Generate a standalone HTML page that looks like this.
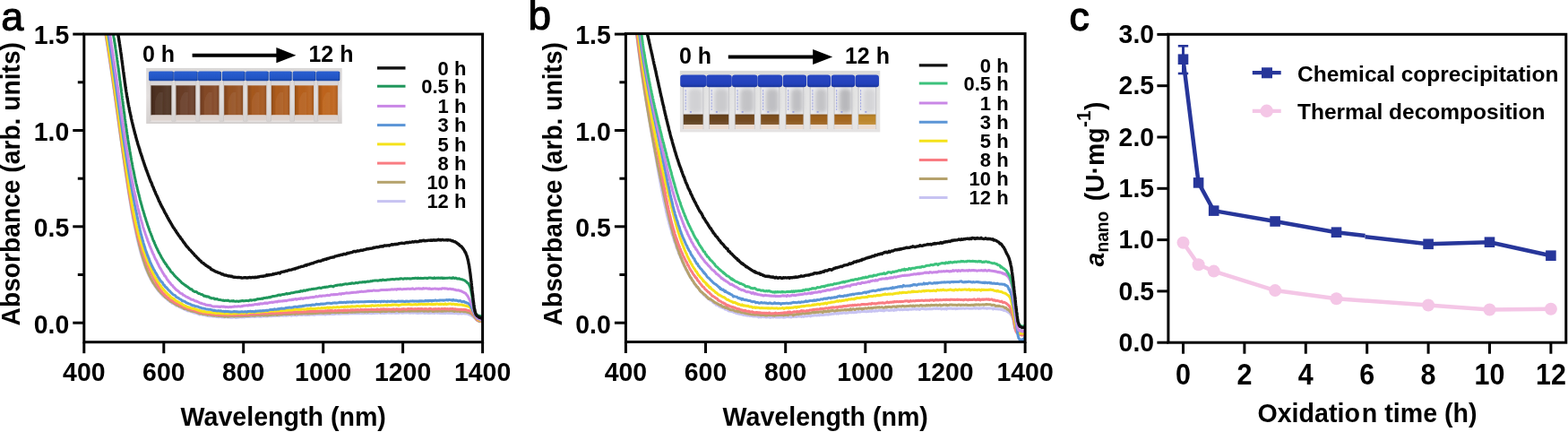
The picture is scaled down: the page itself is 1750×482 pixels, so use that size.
<!DOCTYPE html>
<html><head><meta charset="utf-8"><title>Figure</title>
<style>html,body{margin:0;padding:0;background:#fff;overflow:hidden;} svg{display:block;} text{font-family:'Liberation Sans', Arial, Helvetica, sans-serif;font-weight:bold;fill:#000;}</style>
</head><body>
<svg width="1750" height="482" viewBox="0 0 1750 482">
<rect width="1750" height="482" fill="#fff"/>
<defs>
<linearGradient id="bgA" x1="0" y1="0" x2="0" y2="1"><stop offset="0" stop-color="#d9d7d7"/><stop offset="0.5" stop-color="#e4e0df"/><stop offset="1" stop-color="#d4d0cf"/></linearGradient>
<linearGradient id="bgB" x1="0" y1="0" x2="0" y2="1"><stop offset="0" stop-color="#d9d9d9"/><stop offset="0.15" stop-color="#e2e2e2"/><stop offset="0.7" stop-color="#e6e6e6"/><stop offset="1" stop-color="#e4e2e2"/></linearGradient>
<linearGradient id="capA" x1="0" y1="0" x2="0" y2="1"><stop offset="0" stop-color="#2a5ed0"/><stop offset="0.7" stop-color="#2356c6"/><stop offset="1" stop-color="#1a44a4"/></linearGradient>
<linearGradient id="capB" x1="0" y1="0" x2="0" y2="1"><stop offset="0" stop-color="#2846c2"/><stop offset="0.7" stop-color="#2442bc"/><stop offset="1" stop-color="#1b349a"/></linearGradient>
<linearGradient id="liqShade" x1="0" y1="0" x2="1" y2="0"><stop offset="0" stop-color="#000" stop-opacity="0.18"/><stop offset="0.25" stop-color="#000" stop-opacity="0"/><stop offset="0.8" stop-color="#fff" stop-opacity="0.06"/><stop offset="1" stop-color="#000" stop-opacity="0.12"/></linearGradient>
<linearGradient id="liqShadeB" x1="0" y1="0" x2="0" y2="1"><stop offset="0" stop-color="#000" stop-opacity="0.15"/><stop offset="0.3" stop-color="#000" stop-opacity="0"/><stop offset="1" stop-color="#fff" stop-opacity="0.1"/></linearGradient>
<filter id="blur2" x="-50%" y="-50%" width="200%" height="200%"><feGaussianBlur stdDeviation="2"/></filter>
<filter id="soft" x="-5%" y="-5%" width="110%" height="110%"><feGaussianBlur stdDeviation="0.55"/></filter>
</defs>
<text transform="translate(1.2 34.2) scale(1 1.0)" font-size="45" font-weight="normal" style="font-weight:normal" stroke="#000" stroke-width="1.1">a</text>
<text transform="translate(589.6 33.0) scale(1 1.0)" font-size="46" font-weight="normal" style="font-weight:normal" stroke="#000" stroke-width="1.1">b</text>
<text transform="translate(1193.4 33.8) scale(1 1.0)" font-size="44.5" font-weight="normal" style="font-weight:normal" stroke="#000" stroke-width="1.3">c</text>
<clipPath id="clipA"><rect x="93.8" y="38.1" width="444.8" height="343.59999999999997"/></clipPath>
<g clip-path="url(#clipA)" fill="none" stroke-linejoin="round" stroke-linecap="round">
<path d="M113.1,11.3 L113.3,12.2 L113.5,13.2 L113.7,14.2 L113.9,15.2 L114.0,16.2 L114.2,17.2 L114.4,18.2 L114.6,19.1 L114.7,20.1 L114.9,21.1 L115.1,22.1 L115.2,23.1 L115.4,24.0 L115.6,25.0 L115.8,26.0 L115.9,27.0 L116.1,28.0 L116.3,28.9 L116.4,29.9 L116.6,30.9 L116.8,31.9 L116.9,32.9 L117.1,33.9 L117.3,34.9 L117.4,35.9 L117.6,36.8 L117.8,37.8 L117.9,38.8 L118.1,39.8 L118.2,40.8 L118.4,41.8 L118.6,42.8 L118.7,43.7 L118.9,44.8 L119.0,45.7 L119.2,46.7 L119.4,47.8 L119.5,48.7 L119.7,49.7 L119.8,50.7 L120.0,51.7 L120.2,52.6 L120.3,53.7 L120.5,54.7 L120.6,55.5 L120.8,56.7 L120.9,57.6 L121.1,58.6 L121.2,59.7 L121.4,60.6 L121.5,61.5 L121.7,62.6 L121.9,63.6 L122.0,64.5 L122.2,65.6 L122.3,66.5 L122.5,67.5 L122.6,68.6 L122.8,69.4 L122.9,70.5 L123.1,71.4 L123.2,72.4 L123.4,73.3 L123.5,74.4 L123.7,75.4 L123.8,76.5 L124.0,77.5 L124.1,78.3 L124.2,79.3 L124.4,80.4 L124.5,81.2 L124.7,82.3 L124.8,83.3 L125.0,84.4 L125.1,85.4 L125.3,86.3 L125.4,87.2 L125.6,88.2 L125.7,89.4 L125.8,90.2 L126.0,91.2 L126.1,92.3 L126.3,93.2 L126.4,94.2 L126.6,95.1 L126.7,96.2 L126.8,97.1 L127.0,98.3 L127.1,99.2 L127.3,100.1 L127.4,101.2 L127.6,102.1 L127.7,103.2 L127.8,104.1 L128.0,105.2 L128.1,105.9 L128.3,107.1 L128.4,107.9 L128.5,108.8 L128.7,110.0 L128.8,110.9 L129.0,112.0 L129.1,113.3 L129.2,113.9 L129.4,114.9 L129.5,116.0 L129.7,117.0 L129.8,118.0 L129.9,118.9 L130.1,120.0 L130.2,121.0 L130.4,121.8 L130.5,122.9 L130.6,123.9 L130.8,124.8 L130.9,125.9 L131.0,126.8 L131.2,128.0 L131.3,128.9 L131.5,129.9 L131.6,130.8 L131.7,131.8 L131.9,132.6 L132.0,133.7 L132.1,134.9 L132.3,135.5 L132.4,136.9 L132.6,137.5 L132.7,138.9 L132.8,139.6 L133.0,140.9 L133.1,141.8 L133.2,142.5 L133.4,143.9 L133.5,144.9 L133.7,145.7 L133.8,146.7 L133.9,147.7 L134.1,148.5 L134.2,149.8 L134.3,150.6 L134.5,151.6 L134.6,152.5 L134.8,153.5 L134.9,154.4 L135.0,155.8 L135.2,156.6 L135.3,157.8 L135.4,158.6 L135.6,159.5 L135.7,160.5 L135.9,161.5 L136.0,162.6 L136.1,163.5 L136.3,164.5 L136.4,165.3 L136.6,166.4 L136.7,167.8 L136.8,168.4 L137.0,169.3 L137.1,170.5 L137.2,171.7 L137.4,172.2 L137.5,173.4 L137.7,174.3 L137.8,175.1 L137.9,176.5 L138.1,177.4 L138.2,178.4 L138.4,179.2 L138.5,180.5 L138.7,181.3 L138.8,182.3 L138.9,183.1 L139.1,184.1 L139.2,185.6 L139.4,186.2 L139.5,187.4 L139.6,188.3 L139.8,189.2 L139.9,190.2 L140.1,191.4 L140.2,192.2 L140.4,193.2 L140.5,194.2 L140.6,195.5 L140.8,196.4 L140.9,197.3 L141.1,198.1 L141.2,198.9 L141.4,200.4 L141.5,201.4 L141.7,202.1 L141.8,203.3 L142.0,204.3 L142.1,205.3 L142.2,206.3 L142.4,207.0 L142.5,208.4 L142.7,208.8 L142.8,210.3 L143.0,211.2 L143.1,212.2 L143.3,213.4 L143.4,214.3 L143.6,214.8 L143.7,215.6 L143.9,217.2 L144.1,217.8 L144.2,219.0 L144.4,220.1 L144.5,220.6 L144.7,221.5 L144.8,223.0 L145.0,223.9 L145.2,224.8 L145.3,225.9 L145.5,226.7 L145.7,227.5 L145.8,228.8 L146.0,229.6 L146.1,230.4 L146.3,231.9 L146.5,232.8 L146.7,233.9 L146.8,234.5 L147.0,235.6 L147.2,236.5 L147.3,237.5 L147.5,238.7 L147.7,239.5 L147.9,240.7 L148.1,241.7 L148.2,243.1 L148.4,243.3 L148.6,244.8 L148.8,245.6 L149.0,246.6 L149.2,247.2 L149.4,248.4 L149.6,249.7 L149.8,250.5 L150.0,251.5 L150.2,252.4 L150.4,253.7 L150.6,254.4 L150.8,254.9 L151.0,256.2 L151.2,256.9 L151.4,257.6 L151.6,259.2 L151.8,260.6 L152.0,261.3 L152.2,262.0 L152.4,263.0 L152.7,264.4 L152.9,265.2 L153.1,266.1 L153.3,267.1 L153.6,268.1 L153.8,269.2 L154.0,270.1 L154.3,271.0 L154.5,271.7 L154.7,273.1 L155.0,273.8 L155.2,275.1 L155.5,275.6 L155.7,276.8 L156.0,277.8 L156.2,278.5 L156.5,280.1 L156.7,281.0 L157.0,281.6 L157.3,282.8 L157.5,283.7 L157.8,284.0 L158.1,285.6 L158.4,286.4 L158.7,287.4 L159.0,288.1 L159.3,289.3 L159.6,290.2 L159.9,291.5 L160.2,292.3 L160.5,293.1 L160.8,294.4 L161.2,294.9 L161.5,295.9 L161.8,296.5 L162.2,298.2 L162.5,299.0 L162.9,299.9 L163.3,300.8 L163.7,301.6 L164.0,302.5 L164.4,303.3 L164.8,304.3 L165.2,305.2 L165.7,306.5 L166.1,307.2 L166.5,307.9 L166.9,308.7 L167.4,309.6 L167.9,311.0 L168.3,311.6 L168.8,312.4 L169.3,313.2 L169.8,313.9 L170.3,315.0 L170.8,316.1 L171.3,316.6 L171.9,317.5 L172.4,318.3 L173.0,319.2 L173.5,319.7 L174.1,320.8 L174.7,321.5 L175.3,322.7 L175.9,323.1 L176.5,324.2 L177.2,325.1 L177.8,325.5 L178.5,326.2 L179.2,327.1 L179.8,327.8 L180.5,328.3 L181.2,329.3 L181.9,330.4 L182.7,330.6 L183.4,331.2 L184.2,331.7 L184.9,332.7 L185.7,333.0 L186.5,333.6 L187.3,334.8 L188.0,334.9 L188.8,335.9 L189.7,336.6 L190.5,336.9 L191.3,337.5 L192.1,338.4 L193.0,338.5 L193.8,338.9 L194.7,339.3 L195.6,340.1 L196.4,340.9 L197.3,341.3 L198.2,341.3 L199.1,341.8 L200.0,342.3 L200.8,342.9 L201.8,343.3 L202.7,343.8 L203.6,344.2 L204.5,344.5 L205.4,344.9 L206.3,345.4 L207.3,345.7 L208.2,346.2 L209.1,346.8 L210.1,346.9 L211.0,347.1 L211.9,347.1 L212.9,347.8 L213.8,347.6 L214.8,348.1 L215.8,348.8 L216.7,349.1 L217.7,349.2 L218.6,349.1 L219.6,349.7 L220.6,349.8 L221.5,350.4 L222.5,351.0 L223.5,350.7 L224.5,350.7 L225.4,350.8 L226.4,351.3 L227.4,351.4 L228.4,351.4 L229.4,351.9 L230.4,351.8 L231.4,352.4 L232.3,352.6 L233.3,352.7 L234.3,352.5 L235.3,352.8 L236.3,352.8 L237.3,352.9 L238.3,353.0 L239.3,352.9 L240.3,352.9 L241.3,353.5 L242.3,353.4 L243.3,353.5 L244.3,353.8 L245.3,353.2 L246.3,353.5 L247.3,353.8 L248.3,353.9 L249.3,353.7 L250.3,354.1 L251.3,353.9 L252.3,353.7 L253.3,353.7 L254.3,354.1 L255.3,354.1 L256.3,353.6 L257.3,354.3 L258.3,354.1 L259.3,354.3 L260.3,353.9 L261.3,353.9 L262.3,353.7 L263.3,354.5 L264.3,353.9 L265.3,354.3 L266.3,353.8 L267.3,353.9 L268.3,353.5 L269.3,353.7 L270.3,354.0 L271.3,353.5 L272.3,354.0 L273.3,353.8 L274.3,353.4 L275.3,353.5 L276.3,353.5 L277.3,353.6 L278.3,353.4 L279.3,353.3 L280.3,353.4 L281.3,353.2 L282.3,353.1 L283.3,353.3 L284.3,353.5 L285.3,352.9 L286.3,353.2 L287.3,353.1 L288.3,353.0 L289.3,353.3 L290.3,353.0 L291.3,353.4 L292.3,352.9 L293.3,353.1 L294.3,352.9 L295.3,352.7 L296.3,353.0 L297.3,352.8 L298.3,352.9 L299.3,352.8 L300.3,352.5 L301.3,352.7 L302.3,352.7 L303.3,352.8 L304.3,352.4 L305.3,352.5 L306.3,352.1 L307.3,352.6 L308.3,352.2 L309.3,352.0 L310.3,352.4 L311.3,352.6 L312.3,352.0 L313.2,352.0 L314.2,352.1 L315.2,351.9 L316.2,352.2 L317.2,351.9 L318.2,351.9 L319.2,352.2 L320.2,351.9 L321.2,352.1 L322.2,351.7 L323.2,351.6 L324.2,351.5 L325.2,352.3 L326.2,351.7 L327.2,351.8 L328.2,351.7 L329.2,351.7 L330.2,351.7 L331.2,352.1 L332.2,351.4 L333.2,351.2 L334.2,351.3 L335.2,351.2 L336.2,351.6 L337.2,351.6 L338.2,351.2 L339.2,351.1 L340.2,351.3 L341.2,351.6 L342.2,350.7 L343.2,351.4 L344.2,351.0 L345.2,351.4 L346.2,350.9 L347.2,351.0 L348.2,350.7 L349.2,350.8 L350.2,351.3 L351.2,351.2 L352.2,350.9 L353.2,350.7 L354.2,350.5 L355.2,350.8 L356.2,350.8 L357.2,350.8 L358.2,350.7 L359.2,350.5 L360.2,350.7 L361.2,350.7 L362.2,350.9 L363.2,351.0 L364.2,350.6 L365.2,350.4 L366.2,350.5 L367.2,350.4 L368.2,350.3 L369.2,350.4 L370.2,350.2 L371.2,350.5 L372.2,350.3 L373.2,350.4 L374.2,350.3 L375.2,350.1 L376.2,350.1 L377.2,350.2 L378.2,350.1 L379.2,350.2 L380.2,350.2 L381.2,349.8 L382.2,350.1 L383.2,349.8 L384.2,349.9 L385.2,350.0 L386.2,349.6 L387.2,350.0 L388.2,350.0 L389.2,349.9 L390.2,349.8 L391.2,349.8 L392.2,349.7 L393.2,349.8 L394.2,349.7 L395.2,349.8 L396.2,349.5 L397.2,349.8 L398.2,349.8 L399.2,349.7 L400.2,349.6 L401.2,349.8 L402.2,349.3 L403.2,349.7 L404.2,349.7 L405.2,349.7 L406.2,349.7 L407.2,349.4 L408.2,349.5 L409.2,349.7 L410.2,349.6 L411.2,349.5 L412.2,349.1 L413.2,349.6 L414.2,349.7 L415.2,349.7 L416.2,349.5 L417.2,349.1 L418.2,349.6 L419.2,349.3 L420.2,348.8 L421.2,349.4 L422.2,349.0 L423.2,349.0 L424.2,349.2 L425.2,349.6 L426.2,349.2 L427.2,349.3 L428.2,349.6 L429.2,349.6 L430.2,349.2 L431.2,349.2 L432.2,348.9 L433.2,349.0 L434.2,349.3 L435.2,349.3 L436.2,349.2 L437.2,349.4 L438.2,349.0 L439.2,349.1 L440.2,349.3 L441.2,349.3 L442.2,349.4 L443.2,349.2 L444.2,349.1 L445.2,349.2 L446.2,348.9 L447.2,348.7 L448.2,349.2 L449.2,349.1 L450.2,349.2 L451.2,348.7 L452.2,349.0 L453.2,349.0 L454.2,348.9 L455.2,348.6 L456.2,349.0 L457.2,349.3 L458.2,349.2 L459.2,349.0 L460.2,349.1 L461.2,349.3 L462.2,348.5 L463.2,349.1 L464.2,349.2 L465.2,349.2 L466.2,349.5 L467.2,349.4 L468.2,349.2 L469.2,349.2 L470.2,349.3 L471.2,349.0 L472.2,349.1 L473.2,349.3 L474.2,349.6 L475.2,349.1 L476.2,349.2 L477.2,349.2 L478.2,349.5 L479.2,349.2 L480.2,349.5 L481.2,349.0 L482.2,349.2 L483.2,349.2 L484.2,349.4 L485.2,349.5 L486.2,349.0 L487.2,349.1 L488.2,349.4 L489.2,349.2 L490.2,349.0 L491.2,349.6 L492.2,349.5 L493.2,349.5 L494.2,349.3 L495.2,349.6 L496.2,349.4 L497.2,349.7 L498.2,349.2 L499.2,349.2 L500.2,349.5 L501.2,349.3 L502.2,349.6 L503.2,349.5 L504.2,349.2 L505.2,349.5 L506.2,349.4 L507.2,349.7 L508.2,349.4 L509.2,349.4 L510.2,349.8 L511.2,350.1 L512.2,350.0 L513.2,349.6 L514.2,349.7 L515.2,350.0 L516.2,349.7 L517.2,349.6 L518.2,349.9 L519.2,350.1 L520.2,349.9 L521.2,349.9 L522.2,350.2 L523.1,351.0 L524.1,351.0 L525.0,351.5 L525.9,352.0 L526.7,352.6 L527.6,353.0 L528.3,353.8 L529.1,354.1 L529.9,354.9 L530.6,355.4 L531.3,356.6 L532.1,357.0 L532.9,357.5 L533.7,358.1 L534.7,358.5 L535.6,358.9 L536.6,358.6 L537.6,358.8 L538.6,359.0" stroke="#c7c3f2" stroke-width="3.0"/>
<path d="M113.4,11.3 L113.5,12.2 L113.7,13.2 L113.9,14.2 L114.1,15.2 L114.3,16.2 L114.4,17.2 L114.6,18.2 L114.8,19.1 L115.0,20.1 L115.1,21.1 L115.3,22.1 L115.5,23.1 L115.7,24.1 L115.8,25.0 L116.0,26.0 L116.2,27.0 L116.3,28.0 L116.5,29.0 L116.7,30.0 L116.9,30.9 L117.0,31.9 L117.2,32.9 L117.4,33.9 L117.5,34.9 L117.7,35.9 L117.9,36.9 L118.0,37.8 L118.2,38.9 L118.3,39.8 L118.5,40.9 L118.7,41.9 L118.8,42.8 L119.0,43.7 L119.1,44.7 L119.3,45.7 L119.5,46.7 L119.6,47.7 L119.8,48.6 L119.9,49.7 L120.1,50.6 L120.3,51.7 L120.4,52.7 L120.6,53.6 L120.7,54.6 L120.9,55.6 L121.0,56.6 L121.2,57.5 L121.3,58.6 L121.5,59.7 L121.6,60.7 L121.8,61.6 L121.9,62.6 L122.1,63.5 L122.2,64.6 L122.4,65.5 L122.5,66.5 L122.7,67.5 L122.8,68.5 L123.0,69.4 L123.1,70.5 L123.3,71.4 L123.4,72.4 L123.6,73.6 L123.7,74.4 L123.9,75.4 L124.0,76.4 L124.2,77.4 L124.3,78.3 L124.4,79.3 L124.6,80.4 L124.7,81.4 L124.9,82.3 L125.0,83.5 L125.2,84.3 L125.3,85.3 L125.4,86.2 L125.6,87.4 L125.7,88.1 L125.9,89.2 L126.0,90.2 L126.2,91.3 L126.3,92.3 L126.4,93.4 L126.6,94.1 L126.7,95.3 L126.9,96.2 L127.0,97.1 L127.1,98.2 L127.3,99.1 L127.4,99.9 L127.6,101.1 L127.7,102.0 L127.8,103.1 L128.0,104.2 L128.1,105.1 L128.2,106.3 L128.4,107.1 L128.5,107.9 L128.7,109.0 L128.8,110.0 L128.9,110.9 L129.1,112.1 L129.2,113.0 L129.4,113.8 L129.5,115.1 L129.6,116.0 L129.8,117.0 L129.9,118.0 L130.0,119.1 L130.2,120.0 L130.3,121.1 L130.4,122.0 L130.6,123.0 L130.7,124.0 L130.9,124.7 L131.0,125.9 L131.1,126.9 L131.3,127.9 L131.4,128.7 L131.5,130.1 L131.7,130.9 L131.8,131.7 L131.9,132.6 L132.1,133.8 L132.2,134.8 L132.4,135.7 L132.5,136.8 L132.6,137.7 L132.8,138.9 L132.9,139.7 L133.0,140.8 L133.2,141.9 L133.3,143.1 L133.5,143.6 L133.6,144.7 L133.7,145.6 L133.9,146.8 L134.0,147.5 L134.1,148.6 L134.3,149.7 L134.4,150.5 L134.6,151.5 L134.7,152.6 L134.8,153.3 L135.0,154.4 L135.1,155.6 L135.2,156.7 L135.4,157.6 L135.5,158.3 L135.7,159.5 L135.8,160.7 L135.9,161.7 L136.1,162.6 L136.2,163.4 L136.4,164.7 L136.5,165.4 L136.6,166.3 L136.8,167.4 L136.9,168.8 L137.1,169.5 L137.2,170.7 L137.4,171.4 L137.5,172.6 L137.6,173.4 L137.8,174.4 L137.9,175.9 L138.1,176.6 L138.2,177.3 L138.4,178.4 L138.5,179.5 L138.6,180.6 L138.8,181.3 L138.9,182.0 L139.1,183.3 L139.2,184.4 L139.4,185.4 L139.5,186.6 L139.7,187.4 L139.8,188.5 L140.0,189.1 L140.1,190.5 L140.3,191.7 L140.4,192.4 L140.6,193.3 L140.7,194.3 L140.9,195.6 L141.0,196.0 L141.2,197.2 L141.3,198.3 L141.5,199.3 L141.6,200.1 L141.8,201.2 L141.9,202.1 L142.1,203.2 L142.2,204.1 L142.4,204.9 L142.6,206.1 L142.7,207.3 L142.9,207.9 L143.0,209.0 L143.2,210.2 L143.3,210.8 L143.5,212.1 L143.7,212.8 L143.8,214.2 L144.0,215.5 L144.2,216.4 L144.3,216.9 L144.5,218.1 L144.6,219.0 L144.8,219.9 L145.0,221.2 L145.1,221.6 L145.3,223.1 L145.5,223.8 L145.7,225.2 L145.8,225.9 L146.0,226.7 L146.2,227.9 L146.3,228.9 L146.5,229.8 L146.7,230.9 L146.9,231.6 L147.1,232.3 L147.2,233.9 L147.4,234.8 L147.6,235.7 L147.8,236.7 L148.0,237.9 L148.2,238.5 L148.3,239.5 L148.5,240.5 L148.7,241.8 L148.9,242.2 L149.1,243.8 L149.3,244.4 L149.5,245.3 L149.7,246.8 L149.9,247.4 L150.1,248.2 L150.3,249.3 L150.5,250.6 L150.7,251.6 L150.9,252.3 L151.1,253.4 L151.3,254.5 L151.5,255.2 L151.7,256.4 L151.9,257.2 L152.1,258.1 L152.3,259.1 L152.6,260.2 L152.8,261.2 L153.0,262.0 L153.2,263.0 L153.4,264.3 L153.6,265.1 L153.9,266.2 L154.1,267.3 L154.3,268.1 L154.6,269.5 L154.8,269.8 L155.0,271.1 L155.2,271.8 L155.5,273.3 L155.7,274.2 L156.0,274.4 L156.2,275.5 L156.4,276.9 L156.7,277.9 L156.9,278.8 L157.2,279.6 L157.5,280.7 L157.7,281.7 L158.0,282.5 L158.2,283.7 L158.5,284.0 L158.8,285.6 L159.1,286.2 L159.4,287.6 L159.6,288.2 L159.9,289.1 L160.2,290.3 L160.5,291.0 L160.8,291.9 L161.2,292.7 L161.5,294.0 L161.8,295.1 L162.1,296.1 L162.5,296.8 L162.8,298.0 L163.2,298.7 L163.5,299.6 L163.9,300.7 L164.3,301.7 L164.7,302.4 L165.0,303.3 L165.4,304.2 L165.8,305.2 L166.3,305.9 L166.7,307.2 L167.1,307.8 L167.5,308.9 L168.0,309.5 L168.4,310.7 L168.9,311.6 L169.4,312.3 L169.9,313.7 L170.4,314.2 L170.9,315.4 L171.4,316.0 L171.9,316.5 L172.5,317.4 L173.0,318.4 L173.6,319.2 L174.1,320.0 L174.7,320.7 L175.3,321.2 L175.9,322.4 L176.6,322.7 L177.2,324.0 L177.8,324.6 L178.5,325.3 L179.2,326.2 L179.8,327.0 L180.5,327.4 L181.2,328.0 L181.9,328.9 L182.7,329.3 L183.4,330.2 L184.2,331.5 L184.9,331.5 L185.7,332.5 L186.5,332.7 L187.3,333.7 L188.1,334.2 L188.9,334.8 L189.7,335.5 L190.5,336.4 L191.3,336.6 L192.2,337.1 L193.0,337.4 L193.9,338.3 L194.7,338.6 L195.6,339.3 L196.5,339.6 L197.4,340.5 L198.2,340.2 L199.1,341.0 L200.0,341.7 L200.9,341.9 L201.8,342.2 L202.7,342.7 L203.6,342.9 L204.6,343.6 L205.5,344.5 L206.4,344.6 L207.3,344.5 L208.3,344.9 L209.2,345.3 L210.2,346.0 L211.1,345.9 L212.0,346.3 L213.0,346.9 L213.9,347.2 L214.9,347.2 L215.9,347.4 L216.8,347.5 L217.8,348.0 L218.8,347.9 L219.7,348.8 L220.7,348.8 L221.7,349.3 L222.6,349.8 L223.6,349.9 L224.6,349.6 L225.6,350.2 L226.5,350.5 L227.5,350.2 L228.5,350.4 L229.5,350.7 L230.5,350.6 L231.5,351.4 L232.5,350.7 L233.5,351.1 L234.4,351.4 L235.4,351.6 L236.4,351.8 L237.4,351.9 L238.4,351.9 L239.4,352.3 L240.4,351.7 L241.4,352.2 L242.4,352.1 L243.4,352.4 L244.4,352.5 L245.4,352.3 L246.4,352.4 L247.4,352.8 L248.4,352.7 L249.4,352.5 L250.4,353.2 L251.4,353.3 L252.4,352.5 L253.4,352.9 L254.4,353.4 L255.4,353.0 L256.4,352.9 L257.4,352.8 L258.4,352.7 L259.4,352.8 L260.4,352.7 L261.4,353.0 L262.4,352.7 L263.4,352.7 L264.4,352.5 L265.4,352.7 L266.4,352.5 L267.4,352.7 L268.4,352.9 L269.4,352.7 L270.4,352.7 L271.4,352.7 L272.4,352.6 L273.4,352.5 L274.4,352.4 L275.4,352.6 L276.4,352.2 L277.4,352.6 L278.4,352.3 L279.4,352.1 L280.4,352.1 L281.4,352.0 L282.4,352.2 L283.4,351.9 L284.4,352.3 L285.4,351.9 L286.4,351.5 L287.4,351.8 L288.4,351.5 L289.4,351.9 L290.4,352.1 L291.4,351.9 L292.4,351.4 L293.4,351.5 L294.4,352.1 L295.4,351.7 L296.4,351.6 L297.4,351.8 L298.4,352.0 L299.4,351.7 L300.4,351.4 L301.4,351.5 L302.4,351.5 L303.4,351.2 L304.4,351.0 L305.4,351.2 L306.4,351.0 L307.4,351.1 L308.4,351.1 L309.4,351.6 L310.4,350.8 L311.4,350.9 L312.4,350.9 L313.4,351.0 L314.4,351.1 L315.4,350.7 L316.4,350.6 L317.4,350.4 L318.4,350.5 L319.4,350.8 L320.4,350.6 L321.4,350.3 L322.4,350.4 L323.4,350.5 L324.4,350.6 L325.4,350.3 L326.4,350.3 L327.4,349.9 L328.4,350.0 L329.4,350.6 L330.4,349.7 L331.4,350.1 L332.4,350.2 L333.4,350.0 L334.4,349.9 L335.4,350.0 L336.4,350.0 L337.4,349.9 L338.3,349.5 L339.3,349.8 L340.3,349.6 L341.3,349.7 L342.3,349.8 L343.3,349.9 L344.3,349.9 L345.3,349.5 L346.3,349.8 L347.3,349.8 L348.3,349.8 L349.3,349.8 L350.3,349.4 L351.3,349.4 L352.3,349.6 L353.3,349.1 L354.3,349.4 L355.3,349.2 L356.3,349.2 L357.3,348.8 L358.3,349.0 L359.3,349.1 L360.3,349.3 L361.3,349.3 L362.3,349.0 L363.3,349.0 L364.3,348.8 L365.3,349.0 L366.3,348.8 L367.3,349.0 L368.3,349.2 L369.3,348.8 L370.3,348.4 L371.3,348.5 L372.3,348.4 L373.3,348.4 L374.3,348.9 L375.3,348.7 L376.3,348.2 L377.3,348.7 L378.3,348.8 L379.3,348.4 L380.3,348.3 L381.3,348.3 L382.3,348.5 L383.3,348.5 L384.3,348.6 L385.3,348.6 L386.3,348.5 L387.3,348.5 L388.3,348.4 L389.3,347.8 L390.3,348.1 L391.3,348.2 L392.3,348.0 L393.3,348.3 L394.3,348.0 L395.3,347.8 L396.3,348.3 L397.3,348.1 L398.3,348.0 L399.3,348.1 L400.3,348.1 L401.3,347.9 L402.3,347.3 L403.3,347.7 L404.3,347.7 L405.3,347.5 L406.3,347.8 L407.3,348.0 L408.3,347.6 L409.3,347.4 L410.3,348.1 L411.3,347.5 L412.3,347.3 L413.3,347.6 L414.3,347.6 L415.3,347.4 L416.3,347.7 L417.3,347.4 L418.3,347.3 L419.3,347.5 L420.3,347.6 L421.3,347.3 L422.3,347.5 L423.3,347.4 L424.3,348.0 L425.3,347.2 L426.3,347.6 L427.3,347.3 L428.3,347.3 L429.3,347.4 L430.3,347.4 L431.3,347.5 L432.3,347.3 L433.3,347.1 L434.3,347.1 L435.3,347.3 L436.3,347.3 L437.3,347.5 L438.3,347.2 L439.3,347.4 L440.3,347.4 L441.3,347.1 L442.3,346.8 L443.3,346.8 L444.3,346.7 L445.3,347.4 L446.3,346.9 L447.3,347.3 L448.3,347.2 L449.3,347.4 L450.3,347.2 L451.3,347.0 L452.3,346.9 L453.3,347.0 L454.3,347.0 L455.3,346.9 L456.3,347.0 L457.3,347.3 L458.3,346.6 L459.3,347.0 L460.3,346.7 L461.3,347.0 L462.3,347.1 L463.3,346.9 L464.3,347.1 L465.3,346.6 L466.3,347.2 L467.3,346.8 L468.3,347.1 L469.3,347.0 L470.3,346.4 L471.3,346.8 L472.3,347.0 L473.3,347.3 L474.3,347.0 L475.3,347.0 L476.3,346.6 L477.3,347.2 L478.3,347.3 L479.3,346.9 L480.3,346.9 L481.3,346.6 L482.3,347.2 L483.3,347.6 L484.3,347.1 L485.3,347.3 L486.3,347.1 L487.3,346.8 L488.3,347.3 L489.3,346.8 L490.3,347.0 L491.3,347.1 L492.3,347.2 L493.3,347.2 L494.3,347.2 L495.3,346.9 L496.3,346.8 L497.3,347.1 L498.3,346.9 L499.3,346.8 L500.3,346.8 L501.3,347.0 L502.3,346.7 L503.3,346.8 L504.3,346.7 L505.3,347.1 L506.3,347.2 L507.3,347.6 L508.3,346.8 L509.3,347.0 L510.3,347.4 L511.3,347.2 L512.3,347.2 L513.3,347.7 L514.3,347.4 L515.3,347.2 L516.3,347.3 L517.3,347.7 L518.3,347.8 L519.3,347.5 L520.3,347.7 L521.3,348.3 L522.3,348.5 L523.2,348.6 L524.1,349.2 L525.1,349.6 L525.9,349.6 L526.7,350.5 L527.4,351.4 L528.1,351.9 L528.8,352.3 L529.5,353.4 L530.1,354.4 L530.8,355.3 L531.4,355.2 L532.1,357.0 L532.9,356.9 L533.7,357.9 L534.6,358.3 L535.6,358.4 L536.6,358.4 L537.6,358.2 L538.6,358.6" stroke="#b5a26c" stroke-width="3.0"/>
<path d="M113.8,11.2 L114.0,12.2 L114.2,13.2 L114.3,14.2 L114.5,15.2 L114.7,16.2 L114.9,17.2 L115.0,18.1 L115.2,19.1 L115.4,20.1 L115.6,21.1 L115.7,22.1 L115.9,23.0 L116.1,24.0 L116.2,25.0 L116.4,26.0 L116.6,27.0 L116.8,28.0 L116.9,29.0 L117.1,30.0 L117.3,30.9 L117.4,32.0 L117.6,32.9 L117.8,33.9 L117.9,34.9 L118.1,35.8 L118.2,36.8 L118.4,37.8 L118.6,38.8 L118.7,39.9 L118.9,40.8 L119.1,41.8 L119.2,42.7 L119.4,43.7 L119.5,44.7 L119.7,45.8 L119.9,46.8 L120.0,47.7 L120.2,48.7 L120.3,49.7 L120.5,50.7 L120.7,51.7 L120.8,52.7 L121.0,53.7 L121.1,54.7 L121.3,55.6 L121.4,56.6 L121.6,57.5 L121.7,58.6 L121.9,59.5 L122.0,60.5 L122.2,61.5 L122.4,62.5 L122.5,63.6 L122.7,64.4 L122.8,65.4 L123.0,66.4 L123.1,67.5 L123.3,68.6 L123.4,69.5 L123.6,70.4 L123.7,71.5 L123.9,72.3 L124.0,73.5 L124.2,74.3 L124.3,75.2 L124.5,76.6 L124.6,77.5 L124.8,78.3 L124.9,79.4 L125.0,80.3 L125.2,81.3 L125.3,82.2 L125.5,83.2 L125.6,84.3 L125.8,85.3 L125.9,86.4 L126.1,87.3 L126.2,88.5 L126.4,89.2 L126.5,90.3 L126.6,91.0 L126.8,92.1 L126.9,93.3 L127.1,94.1 L127.2,95.2 L127.4,96.2 L127.5,97.0 L127.6,98.1 L127.8,99.1 L127.9,100.1 L128.1,101.2 L128.2,102.2 L128.4,103.0 L128.5,104.0 L128.6,105.1 L128.8,106.1 L128.9,107.2 L129.1,108.3 L129.2,109.1 L129.3,110.0 L129.5,111.0 L129.6,111.9 L129.8,112.9 L129.9,113.9 L130.0,114.9 L130.2,115.9 L130.3,117.0 L130.5,117.9 L130.6,118.9 L130.7,119.8 L130.9,121.1 L131.0,122.0 L131.2,123.1 L131.3,124.0 L131.4,125.1 L131.6,125.8 L131.7,127.0 L131.8,128.2 L132.0,128.7 L132.1,130.0 L132.3,131.1 L132.4,131.9 L132.5,132.9 L132.7,134.0 L132.8,134.7 L132.9,135.8 L133.1,136.6 L133.2,137.7 L133.4,138.7 L133.5,139.7 L133.6,140.7 L133.8,141.8 L133.9,142.5 L134.1,144.0 L134.2,144.9 L134.3,145.8 L134.5,146.6 L134.6,147.6 L134.7,148.7 L134.9,149.7 L135.0,150.4 L135.2,151.7 L135.3,153.1 L135.4,153.3 L135.6,154.8 L135.7,155.6 L135.9,156.6 L136.0,157.8 L136.1,158.4 L136.3,159.6 L136.4,160.8 L136.5,161.5 L136.7,162.4 L136.8,163.5 L137.0,164.4 L137.1,165.8 L137.2,166.3 L137.4,167.6 L137.5,168.2 L137.7,169.6 L137.8,170.4 L137.9,171.0 L138.1,172.4 L138.2,173.2 L138.4,174.3 L138.5,175.7 L138.7,176.2 L138.8,177.2 L138.9,178.6 L139.1,179.4 L139.2,180.6 L139.4,181.4 L139.5,182.1 L139.6,183.3 L139.8,184.5 L139.9,185.5 L140.1,186.3 L140.2,187.3 L140.4,188.2 L140.5,189.1 L140.7,190.6 L140.8,191.2 L140.9,192.0 L141.1,193.1 L141.2,194.3 L141.4,195.3 L141.5,196.1 L141.7,197.0 L141.8,198.2 L142.0,198.8 L142.1,199.8 L142.3,201.3 L142.4,202.0 L142.6,203.2 L142.7,204.3 L142.8,205.2 L143.0,206.1 L143.1,207.5 L143.3,208.2 L143.4,208.9 L143.6,210.2 L143.8,211.1 L143.9,211.8 L144.1,213.0 L144.2,213.9 L144.4,214.5 L144.5,215.9 L144.7,216.9 L144.8,217.8 L145.0,218.5 L145.2,219.8 L145.3,220.9 L145.5,221.9 L145.7,222.6 L145.8,224.0 L146.0,224.6 L146.2,225.8 L146.3,227.1 L146.5,227.6 L146.7,228.7 L146.8,230.0 L147.0,230.7 L147.2,231.7 L147.4,232.8 L147.5,233.9 L147.7,234.2 L147.9,235.5 L148.1,236.4 L148.3,237.4 L148.5,238.4 L148.7,239.4 L148.9,240.6 L149.1,241.3 L149.3,242.6 L149.5,243.6 L149.7,244.3 L149.9,245.5 L150.1,246.8 L150.3,247.5 L150.5,248.3 L150.7,249.4 L150.9,250.1 L151.1,251.4 L151.3,252.5 L151.6,253.1 L151.8,254.2 L152.0,255.5 L152.3,256.1 L152.5,257.2 L152.7,257.9 L153.0,258.9 L153.2,260.0 L153.4,261.5 L153.7,261.9 L153.9,262.9 L154.2,263.8 L154.5,264.9 L154.7,266.0 L155.0,266.9 L155.2,268.3 L155.5,268.8 L155.8,270.1 L156.1,270.8 L156.3,271.8 L156.6,272.3 L156.9,273.6 L157.2,274.5 L157.5,275.4 L157.8,276.0 L158.1,277.6 L158.4,278.3 L158.7,279.2 L159.0,280.2 L159.3,281.2 L159.7,282.2 L160.0,282.8 L160.3,283.8 L160.6,285.1 L161.0,286.0 L161.3,286.8 L161.7,287.7 L162.0,288.6 L162.4,289.7 L162.7,290.9 L163.1,291.3 L163.5,292.8 L163.8,293.6 L164.2,294.2 L164.6,295.4 L165.0,295.9 L165.3,296.7 L165.7,297.7 L166.1,298.9 L166.5,299.8 L166.9,300.7 L167.4,301.7 L167.8,302.1 L168.2,303.6 L168.6,304.1 L169.1,305.2 L169.5,306.1 L169.9,306.9 L170.4,307.7 L170.8,308.7 L171.3,309.8 L171.7,310.8 L172.2,311.7 L172.7,312.2 L173.2,313.1 L173.6,314.0 L174.1,315.2 L174.6,315.5 L175.1,317.1 L175.6,317.6 L176.1,318.4 L176.6,319.5 L177.2,320.5 L177.7,321.1 L178.3,322.1 L178.8,322.8 L179.4,323.8 L180.0,324.6 L180.6,325.1 L181.2,326.3 L181.9,326.7 L182.5,327.5 L183.2,328.0 L183.9,328.9 L184.6,329.8 L185.3,330.0 L186.1,331.1 L186.8,331.7 L187.6,332.3 L188.4,332.4 L189.2,333.5 L190.0,334.2 L190.8,334.5 L191.7,335.2 L192.5,335.2 L193.3,336.4 L194.2,336.6 L195.1,337.5 L195.9,337.4 L196.8,338.4 L197.7,338.7 L198.6,339.3 L199.5,339.4 L200.4,339.9 L201.3,341.0 L202.2,340.7 L203.1,341.2 L204.0,341.7 L204.9,341.9 L205.9,342.8 L206.8,343.3 L207.7,343.1 L208.7,343.2 L209.6,344.2 L210.5,344.5 L211.5,344.8 L212.4,345.2 L213.4,345.1 L214.3,345.6 L215.3,345.6 L216.2,345.9 L217.2,346.7 L218.1,346.6 L219.1,347.5 L220.1,347.3 L221.0,347.4 L222.0,348.0 L223.0,348.4 L224.0,348.4 L224.9,348.2 L225.9,348.8 L226.9,349.2 L227.9,349.0 L228.8,349.1 L229.8,349.7 L230.8,349.7 L231.8,349.5 L232.8,349.9 L233.8,349.9 L234.8,350.3 L235.8,350.4 L236.8,350.7 L237.7,350.7 L238.7,350.3 L239.7,350.9 L240.7,351.1 L241.7,351.1 L242.7,351.3 L243.7,351.0 L244.7,351.0 L245.7,351.4 L246.7,351.0 L247.7,350.9 L248.7,351.6 L249.7,351.2 L250.7,351.4 L251.7,351.1 L252.7,351.2 L253.7,351.2 L254.7,351.4 L255.7,351.6 L256.7,351.0 L257.7,351.6 L258.7,351.2 L259.7,351.2 L260.7,351.6 L261.7,351.4 L262.7,351.0 L263.7,351.7 L264.7,351.1 L265.7,351.3 L266.7,351.3 L267.7,351.5 L268.7,351.1 L269.7,351.3 L270.7,350.9 L271.7,351.3 L272.7,350.8 L273.7,350.8 L274.7,351.3 L275.7,350.9 L276.7,350.8 L277.7,351.2 L278.7,350.7 L279.7,350.4 L280.7,350.7 L281.7,350.2 L282.7,350.7 L283.7,350.7 L284.7,350.2 L285.7,350.1 L286.7,350.3 L287.7,350.2 L288.7,349.9 L289.7,350.2 L290.7,349.6 L291.7,349.9 L292.7,349.8 L293.7,349.8 L294.7,349.9 L295.7,349.5 L296.7,349.9 L297.7,349.6 L298.7,349.5 L299.7,349.3 L300.7,349.3 L301.7,349.6 L302.7,349.2 L303.7,349.4 L304.7,349.6 L305.7,349.5 L306.7,349.6 L307.7,349.1 L308.7,348.9 L309.7,349.3 L310.7,349.1 L311.7,349.2 L312.7,349.0 L313.7,349.2 L314.7,349.0 L315.7,349.0 L316.7,348.9 L317.7,348.8 L318.7,348.7 L319.7,348.7 L320.7,348.8 L321.7,348.4 L322.7,348.9 L323.7,348.4 L324.6,348.6 L325.6,348.3 L326.6,348.3 L327.6,348.7 L328.6,348.2 L329.6,347.9 L330.6,348.0 L331.6,348.0 L332.6,348.5 L333.6,348.1 L334.6,348.2 L335.6,347.7 L336.6,348.0 L337.6,348.0 L338.6,348.2 L339.6,347.6 L340.6,347.9 L341.6,347.8 L342.6,347.4 L343.6,347.6 L344.6,347.5 L345.6,347.0 L346.6,347.6 L347.6,347.6 L348.6,347.3 L349.6,347.1 L350.6,347.7 L351.6,347.4 L352.6,347.5 L353.6,347.5 L354.6,347.1 L355.6,347.3 L356.6,347.1 L357.6,347.1 L358.6,347.0 L359.6,347.0 L360.6,347.2 L361.6,347.0 L362.6,346.9 L363.6,346.8 L364.6,346.9 L365.6,346.6 L366.6,346.7 L367.6,346.7 L368.6,346.6 L369.6,346.7 L370.6,346.5 L371.6,347.1 L372.6,346.9 L373.6,346.6 L374.6,346.5 L375.6,347.0 L376.6,346.5 L377.6,346.4 L378.6,346.5 L379.6,346.4 L380.6,346.6 L381.6,346.3 L382.6,346.7 L383.6,346.0 L384.6,346.4 L385.6,346.0 L386.6,346.6 L387.6,346.1 L388.6,346.1 L389.6,346.3 L390.6,346.3 L391.6,345.8 L392.6,345.9 L393.6,345.7 L394.6,346.0 L395.6,345.9 L396.6,345.8 L397.6,345.7 L398.6,345.7 L399.6,345.6 L400.6,345.9 L401.6,346.1 L402.6,345.3 L403.6,345.7 L404.6,345.6 L405.6,345.8 L406.6,345.4 L407.6,345.6 L408.6,345.4 L409.6,345.7 L410.6,345.6 L411.6,345.5 L412.6,345.6 L413.6,345.4 L414.6,345.1 L415.6,345.6 L416.6,345.5 L417.6,345.4 L418.6,345.6 L419.6,345.6 L420.6,345.1 L421.6,345.1 L422.6,345.6 L423.6,345.6 L424.6,345.1 L425.6,345.0 L426.6,345.1 L427.6,345.1 L428.6,344.8 L429.6,345.2 L430.6,344.9 L431.6,344.9 L432.6,345.3 L433.6,345.0 L434.6,345.1 L435.6,345.2 L436.6,345.2 L437.6,345.0 L438.6,345.0 L439.6,344.8 L440.6,345.4 L441.6,345.1 L442.6,344.7 L443.6,345.0 L444.6,345.1 L445.6,345.0 L446.6,345.3 L447.6,345.2 L448.6,344.8 L449.6,344.9 L450.6,344.6 L451.6,344.9 L452.6,344.9 L453.6,345.4 L454.6,344.9 L455.6,344.4 L456.6,344.7 L457.6,344.8 L458.6,344.5 L459.6,344.6 L460.6,344.7 L461.6,344.9 L462.6,344.7 L463.6,344.6 L464.6,344.9 L465.6,344.6 L466.6,344.6 L467.6,344.4 L468.6,344.6 L469.6,344.9 L470.6,344.4 L471.6,344.7 L472.6,344.9 L473.6,344.6 L474.6,344.8 L475.6,344.5 L476.6,345.0 L477.6,345.0 L478.6,344.8 L479.6,344.3 L480.6,344.5 L481.6,344.9 L482.6,345.1 L483.6,344.8 L484.6,345.0 L485.6,344.6 L486.6,344.7 L487.6,344.7 L488.6,344.8 L489.6,344.4 L490.6,344.9 L491.6,345.0 L492.6,344.5 L493.6,344.4 L494.6,344.8 L495.6,344.6 L496.6,344.2 L497.6,344.9 L498.6,344.7 L499.6,344.6 L500.6,345.2 L501.6,344.7 L502.6,344.5 L503.6,344.7 L504.6,344.5 L505.6,344.6 L506.6,344.9 L507.6,344.7 L508.6,344.7 L509.6,345.3 L510.6,345.1 L511.6,345.2 L512.6,345.2 L513.6,345.2 L514.6,345.5 L515.6,345.3 L516.6,345.8 L517.6,345.3 L518.6,345.5 L519.6,345.4 L520.6,345.8 L521.5,346.2 L522.5,346.6 L523.5,346.5 L524.4,347.0 L525.3,347.4 L526.1,347.9 L526.8,348.5 L527.4,349.5 L528.0,349.9 L528.6,351.2 L529.2,352.0 L529.8,352.6 L530.4,353.3 L531.0,354.0 L531.6,355.6 L532.2,355.6 L532.9,357.0 L533.7,357.3 L534.6,357.5 L535.6,357.5 L536.6,358.2 L537.6,358.4 L538.6,357.8" stroke="#f97c82" stroke-width="3.0"/>
<path d="M114.3,11.2 L114.4,12.2 L114.6,13.2 L114.8,14.2 L115.0,15.2 L115.1,16.2 L115.3,17.1 L115.5,18.2 L115.7,19.1 L115.8,20.1 L116.0,21.1 L116.2,22.1 L116.3,23.1 L116.5,24.1 L116.7,25.0 L116.9,26.0 L117.0,27.1 L117.2,28.0 L117.4,29.0 L117.5,30.0 L117.7,31.0 L117.9,32.0 L118.0,32.9 L118.2,33.9 L118.4,35.0 L118.5,35.9 L118.7,36.9 L118.8,37.9 L119.0,38.9 L119.2,39.8 L119.3,40.8 L119.5,41.9 L119.7,42.9 L119.8,43.8 L120.0,44.8 L120.1,45.8 L120.3,46.8 L120.5,47.7 L120.6,48.8 L120.8,49.8 L120.9,50.7 L121.1,51.8 L121.2,52.7 L121.4,53.6 L121.6,54.7 L121.7,55.6 L121.9,56.7 L122.0,57.8 L122.2,58.6 L122.3,59.6 L122.5,60.6 L122.6,61.6 L122.8,62.6 L122.9,63.7 L123.1,64.5 L123.2,65.7 L123.4,66.5 L123.6,67.6 L123.7,68.6 L123.9,69.6 L124.0,70.5 L124.2,71.5 L124.3,72.5 L124.5,73.5 L124.6,74.6 L124.8,75.4 L124.9,76.5 L125.0,77.5 L125.2,78.5 L125.3,79.5 L125.5,80.6 L125.6,81.5 L125.8,82.5 L125.9,83.4 L126.1,84.5 L126.2,85.2 L126.4,86.5 L126.5,87.3 L126.7,88.3 L126.8,89.3 L127.0,90.2 L127.1,91.3 L127.2,92.3 L127.4,93.4 L127.5,94.2 L127.7,95.4 L127.8,96.3 L128.0,97.2 L128.1,98.2 L128.3,99.2 L128.4,100.1 L128.5,101.2 L128.7,102.2 L128.8,103.2 L129.0,104.1 L129.1,105.2 L129.2,106.1 L129.4,107.2 L129.5,108.4 L129.7,109.2 L129.8,110.1 L130.0,111.0 L130.1,112.0 L130.2,112.9 L130.4,114.2 L130.5,115.0 L130.7,116.1 L130.8,117.0 L130.9,118.1 L131.1,119.3 L131.2,120.0 L131.4,121.0 L131.5,122.0 L131.7,123.2 L131.8,123.9 L131.9,124.9 L132.1,125.8 L132.2,126.8 L132.4,128.1 L132.5,129.3 L132.6,129.9 L132.8,131.1 L132.9,132.0 L133.1,132.8 L133.2,133.9 L133.3,134.9 L133.5,135.8 L133.6,137.2 L133.8,137.6 L133.9,139.0 L134.0,139.9 L134.2,140.8 L134.3,141.9 L134.5,143.0 L134.6,143.9 L134.7,144.9 L134.9,146.0 L135.0,146.5 L135.2,148.1 L135.3,149.2 L135.4,150.0 L135.6,151.0 L135.7,151.6 L135.9,152.8 L136.0,153.7 L136.2,154.7 L136.3,155.9 L136.4,156.6 L136.6,157.7 L136.7,158.4 L136.9,159.7 L137.0,160.7 L137.1,161.6 L137.3,162.6 L137.4,164.0 L137.6,164.5 L137.7,165.5 L137.9,166.5 L138.0,167.9 L138.2,169.0 L138.3,169.7 L138.4,170.5 L138.6,171.5 L138.7,172.8 L138.9,173.4 L139.0,174.9 L139.2,175.8 L139.3,176.6 L139.5,177.7 L139.6,178.7 L139.7,179.8 L139.9,180.3 L140.0,181.8 L140.2,182.4 L140.3,183.4 L140.5,184.5 L140.6,185.5 L140.8,186.3 L140.9,187.2 L141.1,188.3 L141.2,189.7 L141.4,190.8 L141.5,191.6 L141.7,192.7 L141.8,193.3 L142.0,194.4 L142.1,195.5 L142.3,196.2 L142.4,197.2 L142.6,198.4 L142.7,199.3 L142.9,200.1 L143.0,201.4 L143.2,202.3 L143.3,203.5 L143.5,204.3 L143.6,205.2 L143.8,206.3 L143.9,207.2 L144.1,208.1 L144.2,209.2 L144.4,210.4 L144.6,211.4 L144.7,212.5 L144.9,212.8 L145.0,214.1 L145.2,215.1 L145.4,216.2 L145.5,217.1 L145.7,218.0 L145.9,219.3 L146.0,220.2 L146.2,220.9 L146.4,222.4 L146.5,223.3 L146.7,223.9 L146.9,225.2 L147.0,225.9 L147.2,227.3 L147.4,228.0 L147.6,228.8 L147.8,229.9 L147.9,230.8 L148.1,232.0 L148.3,233.0 L148.5,233.9 L148.7,234.8 L148.9,235.1 L149.1,236.9 L149.3,237.4 L149.5,238.9 L149.7,240.1 L149.9,240.9 L150.1,241.7 L150.3,242.7 L150.5,243.7 L150.7,244.6 L150.9,245.6 L151.1,246.5 L151.4,247.9 L151.6,248.6 L151.8,249.8 L152.0,250.5 L152.2,251.6 L152.5,252.5 L152.7,253.6 L152.9,254.7 L153.2,255.5 L153.4,256.3 L153.7,257.2 L153.9,258.7 L154.2,259.3 L154.4,260.2 L154.7,261.6 L154.9,262.5 L155.2,263.3 L155.5,264.1 L155.7,265.6 L156.0,266.2 L156.3,267.2 L156.6,268.0 L156.9,268.7 L157.1,269.6 L157.4,271.0 L157.7,271.9 L158.0,272.8 L158.3,273.5 L158.6,274.4 L158.9,275.6 L159.3,276.3 L159.6,277.8 L159.9,278.8 L160.2,280.1 L160.5,280.6 L160.9,281.2 L161.2,282.1 L161.5,282.5 L161.9,284.0 L162.2,285.1 L162.6,286.3 L163.0,287.1 L163.3,288.1 L163.7,288.9 L164.0,289.9 L164.4,291.0 L164.8,291.4 L165.2,292.5 L165.6,293.2 L166.0,294.8 L166.4,295.6 L166.8,296.4 L167.2,296.9 L167.6,298.1 L168.0,298.9 L168.4,299.9 L168.8,300.8 L169.3,301.8 L169.7,302.5 L170.2,303.7 L170.6,304.5 L171.1,305.2 L171.5,306.2 L172.0,307.0 L172.4,308.1 L172.9,308.8 L173.4,309.8 L173.9,310.5 L174.4,311.1 L174.9,312.5 L175.4,312.9 L176.0,314.2 L176.5,315.0 L177.0,315.3 L177.6,316.3 L178.2,317.3 L178.7,318.0 L179.3,318.7 L179.9,320.0 L180.5,320.6 L181.1,321.5 L181.7,322.1 L182.4,323.0 L183.0,323.6 L183.7,324.5 L184.4,325.4 L185.0,326.0 L185.7,326.6 L186.4,327.2 L187.1,328.1 L187.9,328.9 L188.6,329.4 L189.4,330.0 L190.1,330.9 L190.9,332.0 L191.7,332.0 L192.5,332.7 L193.3,333.3 L194.1,333.3 L194.9,334.5 L195.7,334.8 L196.6,335.9 L197.4,336.0 L198.2,336.4 L199.1,337.1 L200.0,337.7 L200.8,338.0 L201.7,338.6 L202.6,338.8 L203.5,339.5 L204.4,340.1 L205.3,340.8 L206.2,341.0 L207.1,341.3 L208.0,341.9 L209.0,342.3 L209.9,342.8 L210.8,343.0 L211.8,343.1 L212.7,343.5 L213.6,343.9 L214.6,344.2 L215.5,344.5 L216.5,344.6 L217.4,344.6 L218.4,345.2 L219.4,345.2 L220.3,345.9 L221.3,346.2 L222.3,346.0 L223.2,346.8 L224.2,347.1 L225.2,347.1 L226.2,347.7 L227.2,347.9 L228.1,347.4 L229.1,348.1 L230.1,348.1 L231.1,348.3 L232.1,348.6 L233.1,348.3 L234.1,348.5 L235.1,348.6 L236.1,348.7 L237.1,349.0 L238.0,348.8 L239.0,349.0 L240.0,349.4 L241.0,349.3 L242.0,349.5 L243.0,349.1 L244.0,349.4 L245.0,349.5 L246.0,349.6 L247.0,349.5 L248.0,349.9 L249.0,349.7 L250.0,349.8 L251.0,349.8 L252.0,349.9 L253.0,349.7 L254.0,350.0 L255.1,349.9 L256.1,349.8 L257.1,349.8 L258.1,349.9 L259.1,349.9 L260.1,349.9 L261.1,349.7 L262.1,349.8 L263.1,349.6 L264.1,349.8 L265.1,349.5 L266.1,349.0 L267.1,349.7 L268.1,349.4 L269.1,349.1 L270.1,349.2 L271.1,349.0 L272.1,349.6 L273.1,349.2 L274.1,348.7 L275.1,349.1 L276.1,348.8 L277.1,349.3 L278.1,348.5 L279.1,348.2 L280.1,348.7 L281.1,348.5 L282.1,348.4 L283.1,348.0 L284.1,348.5 L285.1,348.7 L286.1,347.8 L287.1,348.5 L288.1,348.0 L289.1,348.6 L290.0,348.1 L291.0,347.9 L292.0,348.1 L293.0,347.9 L294.0,347.6 L295.0,347.8 L296.0,347.5 L297.0,347.2 L298.0,347.9 L299.0,347.3 L300.0,347.2 L301.0,347.4 L302.0,346.9 L303.0,346.9 L304.0,347.0 L305.0,346.9 L306.0,347.0 L307.0,347.2 L308.0,346.7 L309.0,346.9 L310.0,346.9 L311.0,346.4 L312.0,346.7 L313.0,346.3 L314.0,346.7 L315.0,346.5 L316.0,346.4 L317.0,346.0 L318.0,346.2 L319.0,346.0 L320.0,346.3 L321.0,346.0 L322.0,345.8 L323.0,346.1 L324.0,346.0 L325.0,345.7 L326.0,346.0 L327.0,345.6 L328.0,345.5 L329.0,345.6 L330.0,345.3 L331.0,345.3 L332.0,345.3 L333.0,345.6 L334.0,345.6 L335.0,345.1 L336.0,345.5 L337.0,345.0 L338.0,345.1 L339.0,345.1 L340.0,344.9 L341.0,345.3 L342.0,344.8 L343.0,344.4 L344.0,344.9 L345.0,344.5 L346.0,344.5 L347.0,343.8 L348.0,344.6 L349.0,344.5 L350.0,344.5 L351.0,344.4 L352.0,344.5 L353.0,344.1 L354.0,344.3 L355.0,343.8 L356.0,343.9 L357.0,344.1 L358.0,343.9 L359.0,343.5 L360.0,343.8 L361.0,343.6 L362.0,343.4 L363.0,343.7 L364.0,343.4 L365.0,343.1 L366.0,343.1 L367.0,343.7 L368.0,342.9 L369.0,343.3 L370.0,343.3 L371.0,343.3 L372.0,342.8 L373.0,342.9 L374.0,343.0 L375.0,343.1 L376.0,342.7 L377.0,342.6 L378.0,343.0 L379.0,342.9 L380.0,342.7 L381.0,342.5 L382.0,342.6 L383.0,342.5 L384.0,342.6 L385.0,342.1 L386.0,342.4 L387.0,342.3 L388.0,342.0 L389.0,342.3 L390.0,342.2 L391.0,342.0 L392.0,342.2 L393.0,341.7 L394.0,342.0 L395.0,342.0 L396.0,341.9 L397.0,342.1 L398.0,341.5 L399.0,341.4 L400.0,341.7 L401.0,341.8 L402.0,342.1 L403.0,341.7 L404.0,341.3 L405.0,341.7 L406.0,341.2 L407.0,341.1 L408.0,341.9 L409.0,341.4 L410.0,341.4 L411.0,341.4 L412.0,341.6 L413.0,341.2 L414.0,341.4 L415.0,340.8 L416.0,340.7 L417.0,341.3 L418.0,341.3 L419.0,341.0 L420.0,340.9 L421.0,340.9 L422.0,340.6 L423.0,341.1 L424.0,340.9 L425.0,340.8 L426.0,340.7 L427.0,340.9 L428.0,340.7 L429.0,340.7 L430.0,340.3 L431.0,340.6 L432.0,340.9 L433.0,340.3 L434.0,340.4 L435.0,340.6 L436.0,340.5 L437.0,340.4 L438.0,339.9 L439.0,340.3 L440.0,339.9 L441.0,340.0 L442.0,340.3 L443.1,340.1 L444.1,340.3 L445.1,340.8 L446.1,340.2 L447.1,340.2 L448.1,339.8 L449.1,339.8 L450.1,339.7 L451.1,339.8 L452.1,339.7 L453.1,339.7 L454.1,339.8 L455.1,339.6 L456.1,339.5 L457.1,339.5 L458.1,339.9 L459.1,339.8 L460.1,339.9 L461.1,339.9 L462.1,339.6 L463.1,339.8 L464.1,339.3 L465.1,340.1 L466.1,339.9 L467.1,339.5 L468.1,339.3 L469.1,339.6 L470.1,339.1 L471.1,339.4 L472.1,339.7 L473.1,339.5 L474.1,339.4 L475.1,339.7 L476.1,339.2 L477.1,339.5 L478.1,339.3 L479.1,339.3 L480.1,339.5 L481.1,339.2 L482.1,339.8 L483.1,339.3 L484.1,339.8 L485.1,339.2 L486.1,339.5 L487.1,339.1 L488.1,339.1 L489.1,339.4 L490.1,339.5 L491.1,339.1 L492.1,339.6 L493.1,339.2 L494.1,339.4 L495.1,339.4 L496.1,339.5 L497.1,338.9 L498.1,339.7 L499.1,339.4 L500.1,339.2 L501.1,339.1 L502.1,338.9 L503.1,339.0 L504.1,339.5 L505.1,339.3 L506.1,339.2 L507.1,339.4 L508.1,339.9 L509.1,339.5 L510.1,339.6 L511.1,340.1 L512.1,340.0 L513.1,340.0 L514.1,340.0 L515.1,340.0 L516.1,340.2 L517.1,340.5 L518.1,340.7 L519.0,341.0 L520.0,341.3 L521.0,341.5 L521.9,341.8 L522.8,342.0 L523.7,342.2 L524.5,343.1 L525.3,343.7 L525.9,344.6 L526.5,345.5 L527.0,346.1 L527.5,347.0 L528.0,348.1 L528.5,349.0 L529.1,349.7 L529.6,350.8 L530.1,351.5 L530.6,352.2 L531.1,353.3 L531.7,354.5 L532.3,354.7 L533.0,355.8 L533.9,356.4 L534.7,356.9 L535.7,356.8 L536.6,357.7 L537.6,357.5 L538.6,357.6" stroke="#f5e21a" stroke-width="3.0"/>
<path d="M116.0,11.2 L116.2,12.2 L116.4,13.2 L116.6,14.2 L116.7,15.2 L116.9,16.1 L117.1,17.1 L117.3,18.1 L117.4,19.1 L117.6,20.1 L117.8,21.1 L118.0,22.1 L118.1,23.1 L118.3,24.1 L118.5,25.0 L118.6,26.0 L118.8,27.0 L119.0,27.9 L119.1,29.0 L119.3,30.0 L119.5,30.9 L119.6,31.9 L119.8,32.9 L119.9,33.9 L120.1,34.9 L120.3,35.8 L120.4,36.9 L120.6,37.9 L120.8,38.8 L120.9,39.8 L121.1,40.8 L121.2,41.9 L121.4,42.7 L121.6,43.7 L121.7,44.7 L121.9,45.7 L122.0,46.7 L122.2,47.8 L122.3,48.7 L122.5,49.7 L122.6,50.7 L122.8,51.6 L123.0,52.7 L123.1,53.6 L123.3,54.8 L123.4,55.7 L123.6,56.6 L123.7,57.5 L123.9,58.6 L124.0,59.5 L124.2,60.5 L124.3,61.5 L124.5,62.6 L124.6,63.5 L124.8,64.5 L124.9,65.4 L125.1,66.4 L125.2,67.5 L125.4,68.5 L125.5,69.6 L125.7,70.4 L125.8,71.5 L126.0,72.5 L126.1,73.4 L126.3,74.3 L126.4,75.3 L126.5,76.5 L126.7,77.5 L126.8,78.4 L127.0,79.4 L127.1,80.3 L127.3,81.3 L127.4,82.3 L127.6,83.4 L127.7,84.3 L127.8,85.3 L128.0,86.3 L128.1,87.3 L128.3,88.3 L128.4,89.2 L128.6,90.4 L128.7,91.3 L128.9,92.2 L129.0,93.4 L129.1,94.3 L129.3,95.2 L129.4,96.2 L129.6,97.1 L129.7,98.1 L129.9,98.9 L130.0,100.3 L130.1,100.9 L130.3,102.2 L130.4,103.0 L130.6,104.0 L130.7,105.1 L130.8,106.1 L131.0,107.1 L131.1,108.3 L131.3,109.1 L131.4,110.2 L131.6,111.0 L131.7,112.1 L131.8,113.0 L132.0,114.0 L132.1,115.0 L132.3,116.0 L132.4,117.0 L132.5,118.0 L132.7,118.9 L132.8,119.9 L133.0,121.0 L133.1,121.7 L133.3,122.8 L133.4,124.1 L133.5,124.6 L133.7,125.8 L133.8,127.0 L134.0,127.7 L134.1,129.2 L134.3,129.5 L134.4,131.0 L134.5,132.0 L134.7,132.9 L134.8,133.8 L135.0,134.9 L135.1,135.7 L135.3,136.9 L135.4,137.6 L135.6,138.7 L135.7,139.9 L135.8,140.6 L136.0,141.7 L136.1,142.7 L136.3,143.5 L136.4,144.9 L136.6,145.7 L136.7,146.4 L136.9,147.7 L137.0,148.5 L137.2,149.5 L137.3,150.6 L137.4,151.5 L137.6,152.8 L137.7,153.5 L137.9,154.7 L138.0,155.6 L138.2,156.7 L138.3,157.5 L138.5,158.5 L138.6,159.3 L138.8,160.6 L138.9,161.7 L139.1,162.9 L139.2,163.7 L139.4,164.5 L139.6,165.4 L139.7,166.5 L139.9,167.4 L140.0,168.7 L140.2,169.6 L140.3,170.3 L140.5,171.3 L140.6,172.6 L140.8,173.4 L140.9,174.3 L141.1,175.6 L141.3,176.3 L141.4,177.3 L141.6,178.2 L141.7,178.9 L141.9,180.5 L142.0,181.0 L142.2,182.2 L142.4,183.1 L142.5,184.4 L142.7,185.2 L142.9,186.2 L143.0,186.9 L143.2,188.2 L143.3,188.9 L143.5,190.2 L143.7,191.2 L143.8,192.1 L144.0,193.5 L144.2,194.2 L144.3,195.2 L144.5,196.1 L144.7,197.0 L144.8,198.2 L145.0,199.3 L145.2,199.7 L145.4,201.2 L145.5,202.1 L145.7,203.2 L145.9,204.1 L146.0,204.7 L146.2,205.7 L146.4,207.3 L146.6,208.0 L146.7,208.6 L146.9,209.9 L147.1,210.8 L147.3,211.4 L147.5,212.3 L147.6,213.5 L147.8,214.8 L148.0,215.8 L148.2,216.7 L148.4,217.8 L148.5,218.9 L148.7,219.2 L148.9,220.6 L149.1,221.5 L149.3,222.4 L149.5,223.5 L149.7,224.6 L149.8,225.5 L150.0,226.3 L150.2,227.5 L150.4,229.0 L150.6,229.3 L150.8,230.1 L151.0,231.6 L151.2,232.6 L151.4,233.6 L151.6,234.2 L151.8,235.6 L152.0,236.2 L152.2,237.1 L152.4,238.2 L152.6,239.3 L152.8,240.5 L153.0,241.4 L153.2,242.3 L153.4,243.5 L153.6,244.2 L153.8,245.4 L154.0,245.9 L154.2,246.8 L154.4,248.3 L154.6,248.8 L154.8,250.0 L155.1,251.1 L155.3,251.9 L155.5,252.9 L155.7,254.3 L155.9,254.4 L156.2,256.1 L156.4,257.4 L156.6,257.9 L156.9,258.9 L157.1,260.0 L157.3,261.2 L157.6,261.5 L157.8,262.8 L158.1,263.7 L158.3,264.8 L158.6,265.7 L158.9,266.8 L159.1,267.5 L159.4,268.6 L159.7,269.4 L159.9,270.3 L160.2,271.4 L160.5,272.4 L160.8,273.1 L161.1,274.6 L161.4,275.2 L161.7,275.9 L162.0,277.4 L162.3,277.9 L162.6,279.2 L162.9,280.0 L163.3,281.0 L163.6,281.9 L163.9,282.7 L164.3,283.8 L164.6,285.2 L165.0,285.2 L165.4,286.6 L165.7,287.6 L166.1,288.2 L166.5,289.1 L166.9,290.8 L167.2,291.1 L167.6,292.6 L168.0,293.2 L168.5,294.0 L168.9,295.0 L169.3,295.9 L169.7,296.9 L170.2,297.7 L170.6,298.5 L171.1,299.4 L171.5,300.5 L172.0,301.3 L172.5,301.8 L172.9,302.8 L173.4,303.8 L173.9,304.5 L174.4,305.4 L174.9,306.1 L175.5,307.2 L176.0,308.2 L176.5,309.1 L177.1,309.7 L177.6,311.0 L178.2,311.4 L178.7,312.9 L179.3,313.3 L179.9,314.0 L180.5,314.6 L181.1,314.9 L181.7,316.2 L182.3,317.1 L182.9,318.3 L183.6,318.3 L184.2,319.8 L184.9,320.1 L185.5,321.0 L186.2,321.1 L186.9,322.4 L187.6,323.0 L188.3,323.9 L189.0,324.5 L189.7,324.9 L190.5,326.1 L191.2,326.7 L191.9,327.3 L192.7,328.1 L193.5,328.7 L194.2,329.1 L195.0,329.4 L195.8,330.0 L196.6,331.2 L197.4,331.7 L198.3,332.1 L199.1,332.5 L199.9,333.2 L200.8,333.7 L201.6,334.2 L202.5,334.6 L203.4,335.7 L204.3,335.8 L205.1,336.0 L206.0,336.4 L206.9,336.9 L207.8,337.7 L208.7,338.1 L209.6,338.3 L210.6,338.8 L211.5,339.1 L212.4,339.3 L213.3,340.2 L214.3,340.3 L215.2,341.1 L216.2,340.8 L217.1,341.2 L218.0,341.8 L219.0,341.8 L220.0,341.9 L220.9,342.2 L221.9,342.7 L222.8,343.1 L223.8,343.2 L224.8,343.7 L225.7,344.0 L226.7,344.0 L227.7,344.2 L228.7,344.4 L229.6,344.7 L230.6,345.0 L231.6,345.0 L232.6,345.3 L233.6,345.3 L234.6,345.2 L235.6,345.5 L236.5,346.0 L237.5,346.1 L238.5,346.5 L239.5,346.3 L240.5,346.6 L241.5,346.8 L242.5,346.9 L243.5,346.6 L244.5,346.8 L245.5,347.0 L246.5,346.8 L247.5,347.2 L248.5,347.4 L249.5,347.2 L250.5,347.8 L251.5,347.3 L252.5,347.4 L253.5,347.5 L254.5,347.4 L255.5,347.7 L256.5,347.7 L257.4,348.1 L258.4,347.9 L259.4,347.9 L260.4,347.7 L261.4,347.5 L262.4,347.8 L263.4,347.6 L264.4,348.0 L265.4,347.8 L266.4,348.2 L267.4,348.0 L268.5,348.0 L269.5,347.8 L270.5,347.8 L271.5,347.9 L272.4,347.9 L273.4,347.6 L274.4,347.8 L275.4,348.2 L276.4,347.6 L277.4,347.5 L278.4,347.4 L279.4,347.2 L280.4,347.7 L281.4,347.4 L282.4,347.4 L283.4,347.7 L284.4,347.8 L285.4,346.9 L286.4,347.3 L287.4,347.1 L288.4,347.0 L289.4,347.0 L290.4,346.8 L291.4,347.0 L292.4,346.8 L293.4,346.6 L294.4,346.7 L295.4,346.6 L296.4,346.4 L297.4,346.2 L298.4,346.5 L299.4,346.1 L300.4,345.9 L301.4,345.6 L302.4,345.6 L303.4,345.4 L304.4,345.5 L305.4,345.4 L306.4,344.8 L307.3,345.2 L308.3,345.2 L309.3,345.0 L310.3,344.6 L311.3,345.0 L312.3,344.4 L313.3,344.2 L314.3,344.1 L315.3,344.2 L316.3,344.3 L317.3,344.3 L318.3,343.9 L319.3,343.5 L320.3,343.5 L321.3,343.3 L322.2,343.3 L323.2,342.9 L324.2,343.2 L325.2,343.2 L326.2,342.9 L327.2,342.9 L328.2,342.4 L329.2,342.2 L330.2,342.3 L331.2,342.5 L332.2,342.4 L333.2,341.9 L334.2,342.2 L335.2,341.7 L336.1,342.0 L337.1,341.6 L338.1,341.3 L339.1,341.5 L340.1,341.0 L341.1,340.9 L342.1,340.6 L343.1,340.9 L344.1,340.7 L345.1,340.6 L346.1,340.4 L347.1,340.7 L348.1,340.2 L349.1,340.0 L350.1,340.3 L351.0,340.3 L352.0,339.9 L353.0,339.3 L354.0,339.5 L355.0,339.7 L356.0,339.4 L357.0,339.7 L358.0,338.9 L359.0,339.3 L360.0,338.9 L361.0,339.3 L362.0,338.9 L363.0,339.0 L364.0,338.6 L365.0,338.3 L366.0,338.3 L367.0,338.3 L368.0,338.2 L369.0,338.6 L370.0,338.5 L371.0,338.2 L372.0,337.9 L373.0,338.0 L374.0,337.8 L375.0,338.2 L376.0,337.9 L377.0,337.9 L378.0,337.7 L379.0,337.2 L380.0,337.5 L381.0,337.3 L382.0,337.6 L383.0,337.5 L384.0,337.3 L385.0,337.3 L385.9,337.7 L386.9,337.1 L387.9,337.0 L388.9,337.2 L389.9,337.0 L390.9,337.0 L391.9,337.2 L392.9,337.4 L393.9,336.6 L394.9,337.0 L395.9,337.0 L396.9,336.9 L397.9,336.8 L398.9,336.8 L399.9,337.0 L400.9,336.7 L401.9,336.7 L402.9,336.7 L403.9,336.7 L404.9,336.7 L405.9,336.9 L406.9,336.6 L407.9,336.7 L408.9,336.6 L409.9,336.4 L410.9,336.4 L411.9,336.3 L412.9,336.6 L413.9,336.4 L414.9,336.3 L415.9,336.5 L416.9,336.6 L417.9,336.1 L418.9,336.8 L419.9,336.4 L420.9,336.4 L421.9,336.6 L422.9,336.4 L423.9,336.2 L424.9,336.9 L425.9,336.1 L426.9,336.3 L427.9,336.5 L428.9,336.1 L429.9,336.3 L430.9,336.4 L431.9,336.8 L432.9,336.1 L433.9,336.3 L434.9,336.4 L435.9,336.3 L436.9,336.0 L437.9,336.3 L438.9,336.3 L439.9,336.3 L440.9,336.5 L441.9,336.4 L442.9,336.3 L443.9,336.3 L444.9,336.0 L445.9,336.2 L446.9,336.2 L447.9,336.1 L448.9,336.2 L449.9,336.0 L450.9,336.5 L451.9,336.6 L452.9,336.0 L453.9,336.2 L454.9,336.1 L455.9,336.4 L456.9,336.2 L457.9,336.1 L458.9,336.0 L459.9,336.1 L460.9,335.8 L461.9,336.2 L462.9,335.9 L463.9,336.1 L464.9,336.0 L465.9,336.2 L466.9,335.9 L467.9,336.2 L468.9,335.7 L469.9,336.0 L470.9,335.8 L471.9,335.9 L472.9,335.9 L473.9,336.0 L474.9,335.3 L475.9,335.8 L476.9,335.4 L477.9,336.0 L478.9,335.3 L479.9,335.4 L480.9,335.3 L481.9,336.0 L482.9,335.3 L483.9,335.5 L484.9,335.3 L485.9,335.0 L486.9,335.3 L487.9,335.4 L488.9,335.2 L489.9,335.4 L490.9,335.0 L491.9,335.1 L492.9,334.9 L493.9,335.0 L494.9,335.3 L495.9,335.0 L496.9,334.9 L497.9,334.7 L498.9,334.6 L499.9,335.1 L500.9,334.5 L501.9,334.6 L502.9,334.8 L503.9,334.8 L504.9,335.3 L505.9,334.4 L506.9,335.1 L507.9,335.3 L508.9,335.0 L509.9,335.2 L510.9,335.6 L511.9,336.0 L512.9,335.6 L513.9,335.6 L514.8,336.4 L515.8,336.7 L516.8,336.5 L517.8,336.3 L518.7,337.3 L519.7,337.2 L520.7,337.9 L521.6,338.0 L522.5,338.4 L523.3,338.9 L524.1,340.0 L524.7,340.7 L525.3,340.8 L525.7,341.9 L526.1,343.4 L526.5,343.9 L526.9,344.6 L527.3,345.8 L527.7,346.7 L528.1,347.6 L528.6,348.4 L529.0,349.4 L529.4,350.2 L529.9,351.3 L530.4,351.9 L530.9,352.9 L531.5,353.7 L532.2,354.8 L533.0,355.2 L533.8,355.5 L534.7,356.1 L535.7,356.4 L536.6,356.9 L537.6,356.9 L538.6,357.4" stroke="#5b95d6" stroke-width="3.0"/>
<path d="M117.8,11.2 L118.0,12.2 L118.2,13.2 L118.4,14.2 L118.5,15.2 L118.7,16.2 L118.9,17.1 L119.1,18.1 L119.2,19.1 L119.4,20.1 L119.6,21.1 L119.8,22.1 L119.9,23.1 L120.1,24.0 L120.3,25.0 L120.5,26.0 L120.6,27.0 L120.8,28.0 L121.0,28.9 L121.1,29.9 L121.3,30.9 L121.5,31.9 L121.6,32.9 L121.8,33.9 L122.0,34.9 L122.1,35.9 L122.3,36.9 L122.4,37.8 L122.6,38.9 L122.8,39.8 L122.9,40.8 L123.1,41.8 L123.2,42.8 L123.4,43.8 L123.5,44.8 L123.7,45.8 L123.9,46.7 L124.0,47.7 L124.2,48.6 L124.3,49.7 L124.5,50.7 L124.6,51.6 L124.8,52.7 L124.9,53.7 L125.1,54.6 L125.2,55.6 L125.4,56.6 L125.5,57.7 L125.7,58.5 L125.8,59.6 L126.0,60.7 L126.1,61.6 L126.3,62.6 L126.4,63.5 L126.6,64.5 L126.7,65.5 L126.9,66.5 L127.0,67.4 L127.2,68.5 L127.3,69.6 L127.5,70.5 L127.6,71.3 L127.7,72.4 L127.9,73.3 L128.0,74.5 L128.2,75.5 L128.3,76.5 L128.5,77.3 L128.6,78.3 L128.7,79.4 L128.9,80.4 L129.0,81.3 L129.2,82.4 L129.3,83.4 L129.5,84.3 L129.6,85.2 L129.7,86.1 L129.9,87.3 L130.0,88.3 L130.2,89.3 L130.3,90.2 L130.4,91.2 L130.6,92.3 L130.7,93.2 L130.9,94.2 L131.0,95.1 L131.1,96.1 L131.3,97.2 L131.4,98.1 L131.6,99.1 L131.7,100.1 L131.8,101.3 L132.0,102.2 L132.1,103.3 L132.3,104.1 L132.4,105.1 L132.5,106.0 L132.7,107.0 L132.8,108.2 L133.0,109.1 L133.1,110.2 L133.2,111.1 L133.4,112.1 L133.5,113.0 L133.7,114.0 L133.8,115.1 L133.9,116.1 L134.1,117.1 L134.2,118.0 L134.4,118.9 L134.5,119.9 L134.6,120.8 L134.8,122.1 L134.9,122.7 L135.1,123.9 L135.2,125.2 L135.3,125.9 L135.5,126.8 L135.6,127.9 L135.8,129.1 L135.9,129.9 L136.1,130.9 L136.2,131.9 L136.3,132.8 L136.5,134.3 L136.6,134.8 L136.8,135.7 L136.9,136.7 L137.1,137.8 L137.2,138.8 L137.4,139.9 L137.5,140.8 L137.6,141.5 L137.8,142.8 L137.9,143.7 L138.1,144.7 L138.2,145.5 L138.4,146.6 L138.5,147.6 L138.7,148.7 L138.8,149.4 L139.0,150.7 L139.1,151.7 L139.3,152.5 L139.4,153.5 L139.6,154.5 L139.7,155.7 L139.9,156.2 L140.0,157.5 L140.2,158.3 L140.3,159.5 L140.5,160.7 L140.7,161.4 L140.8,162.5 L141.0,163.4 L141.1,164.8 L141.3,165.6 L141.4,166.7 L141.6,167.2 L141.8,168.2 L141.9,169.6 L142.1,170.4 L142.2,171.3 L142.4,172.4 L142.6,173.1 L142.7,174.5 L142.9,175.3 L143.1,176.4 L143.2,177.2 L143.4,178.4 L143.6,179.2 L143.7,180.5 L143.9,181.5 L144.1,182.4 L144.2,183.3 L144.4,184.3 L144.6,184.7 L144.7,186.3 L144.9,187.1 L145.1,188.2 L145.3,189.1 L145.4,189.8 L145.6,191.0 L145.8,192.2 L146.0,193.4 L146.2,193.9 L146.3,194.9 L146.5,196.3 L146.7,196.8 L146.9,198.4 L147.1,199.0 L147.2,199.8 L147.4,201.2 L147.6,202.3 L147.8,202.6 L148.0,204.2 L148.2,204.8 L148.4,206.2 L148.6,206.8 L148.8,207.5 L148.9,208.9 L149.1,210.0 L149.3,211.2 L149.5,212.1 L149.7,212.9 L149.9,213.6 L150.1,214.6 L150.3,215.6 L150.5,216.5 L150.8,217.6 L151.0,218.0 L151.2,219.6 L151.4,220.5 L151.6,222.1 L151.8,222.7 L152.0,223.4 L152.2,224.6 L152.5,225.2 L152.7,226.3 L152.9,227.0 L153.1,228.7 L153.4,229.5 L153.6,230.0 L153.8,231.3 L154.1,232.5 L154.3,233.3 L154.5,234.3 L154.8,235.0 L155.0,236.0 L155.3,237.1 L155.5,238.3 L155.8,238.9 L156.0,239.8 L156.3,241.2 L156.5,241.7 L156.8,243.1 L157.1,243.9 L157.3,245.0 L157.6,246.2 L157.9,246.9 L158.1,247.9 L158.4,248.5 L158.7,249.5 L159.0,250.7 L159.3,251.9 L159.5,252.8 L159.8,254.0 L160.1,254.5 L160.4,255.4 L160.7,256.6 L161.0,257.3 L161.3,258.2 L161.7,259.0 L162.0,260.4 L162.3,260.9 L162.6,262.1 L162.9,262.7 L163.3,264.2 L163.6,264.6 L163.9,266.0 L164.3,266.4 L164.6,267.6 L164.9,268.9 L165.3,269.4 L165.6,270.5 L166.0,271.3 L166.4,271.9 L166.7,273.4 L167.1,274.3 L167.5,274.9 L167.8,276.2 L168.2,276.8 L168.6,277.7 L169.0,278.9 L169.4,279.6 L169.8,281.2 L170.2,281.3 L170.6,282.7 L171.0,283.7 L171.4,283.9 L171.8,284.9 L172.2,286.3 L172.6,287.0 L173.1,288.1 L173.5,289.1 L173.9,289.7 L174.4,290.5 L174.8,291.0 L175.3,292.5 L175.7,293.2 L176.2,294.3 L176.7,295.2 L177.1,295.7 L177.6,297.3 L178.1,298.0 L178.6,298.9 L179.0,299.3 L179.5,300.3 L180.0,301.2 L180.5,302.1 L181.0,302.8 L181.5,304.0 L182.1,304.8 L182.6,305.7 L183.1,306.3 L183.6,307.6 L184.2,308.2 L184.7,308.3 L185.3,309.6 L185.9,310.6 L186.4,311.6 L187.0,312.2 L187.6,313.0 L188.2,313.7 L188.8,314.8 L189.5,315.3 L190.1,316.0 L190.7,316.8 L191.4,317.8 L192.0,318.3 L192.7,318.8 L193.4,320.1 L194.1,320.5 L194.8,321.4 L195.5,322.1 L196.3,323.0 L197.0,323.6 L197.8,323.9 L198.5,324.6 L199.3,325.0 L200.1,326.3 L200.9,326.6 L201.7,327.4 L202.5,327.6 L203.4,327.8 L204.2,329.1 L205.1,329.3 L205.9,329.8 L206.8,330.3 L207.6,331.0 L208.5,331.4 L209.4,331.4 L210.3,332.5 L211.2,332.6 L212.1,333.0 L213.0,334.0 L213.9,334.2 L214.8,334.4 L215.7,334.4 L216.6,335.3 L217.5,335.8 L218.4,336.0 L219.4,336.1 L220.3,336.6 L221.2,336.9 L222.2,337.5 L223.1,338.0 L224.1,338.4 L225.0,338.3 L226.0,338.8 L226.9,339.2 L227.9,339.2 L228.8,339.6 L229.8,340.4 L230.8,340.2 L231.7,340.6 L232.7,340.5 L233.7,340.8 L234.7,340.6 L235.7,341.2 L236.6,341.6 L237.6,341.9 L238.6,341.9 L239.6,341.9 L240.6,341.9 L241.6,341.9 L242.6,342.0 L243.6,342.3 L244.6,342.1 L245.6,342.5 L246.6,342.1 L247.6,342.0 L248.6,342.2 L249.6,342.1 L250.6,342.2 L251.6,342.7 L252.6,342.4 L253.6,342.5 L254.6,342.7 L255.6,342.7 L256.6,342.3 L257.6,342.7 L258.6,342.4 L259.6,342.3 L260.6,342.3 L261.6,341.8 L262.6,341.9 L263.6,342.0 L264.6,342.1 L265.6,341.8 L266.6,341.7 L267.6,341.9 L268.6,341.9 L269.5,341.6 L270.5,341.7 L271.5,341.2 L272.5,341.1 L273.5,341.1 L274.5,340.9 L275.5,340.7 L276.5,341.1 L277.5,340.5 L278.5,340.3 L279.5,340.5 L280.5,340.6 L281.5,340.1 L282.5,340.3 L283.5,339.8 L284.5,339.6 L285.4,339.5 L286.4,339.5 L287.4,339.8 L288.4,339.0 L289.4,339.5 L290.4,338.8 L291.4,338.8 L292.4,339.0 L293.4,338.8 L294.4,338.6 L295.4,338.0 L296.4,338.4 L297.4,337.9 L298.3,338.6 L299.3,337.9 L300.3,337.8 L301.3,337.4 L302.3,337.4 L303.3,337.1 L304.3,337.5 L305.3,337.1 L306.3,337.1 L307.3,336.7 L308.3,336.6 L309.3,336.9 L310.2,336.3 L311.2,336.0 L312.2,336.3 L313.2,335.9 L314.2,335.9 L315.2,336.1 L316.2,335.6 L317.2,335.8 L318.2,335.3 L319.2,335.7 L320.2,335.5 L321.2,335.0 L322.1,334.9 L323.1,334.6 L324.1,334.7 L325.1,334.8 L326.1,334.1 L327.1,334.5 L328.1,333.9 L329.1,333.9 L330.1,333.5 L331.1,334.3 L332.1,333.7 L333.1,333.6 L334.1,333.3 L335.0,333.5 L336.0,332.7 L337.0,333.0 L338.0,333.4 L339.0,332.7 L340.0,332.7 L341.0,332.7 L342.0,332.2 L343.0,332.3 L344.0,332.4 L345.0,332.1 L346.0,332.0 L346.9,331.7 L347.9,331.7 L348.9,331.5 L349.9,331.7 L350.9,331.4 L351.9,331.1 L352.9,330.5 L353.9,331.1 L354.9,331.0 L355.9,330.5 L356.9,330.1 L357.9,330.2 L358.9,330.5 L359.8,329.9 L360.8,330.0 L361.8,330.0 L362.8,330.1 L363.8,329.7 L364.8,329.6 L365.8,329.3 L366.8,329.7 L367.8,329.5 L368.8,329.1 L369.8,328.7 L370.8,328.7 L371.8,328.9 L372.8,328.5 L373.8,328.7 L374.7,328.5 L375.7,328.4 L376.7,328.4 L377.7,328.2 L378.7,327.8 L379.7,327.8 L380.7,328.3 L381.7,327.4 L382.7,327.4 L383.7,327.7 L384.7,327.3 L385.7,327.1 L386.7,326.8 L387.7,327.1 L388.7,327.1 L389.7,327.1 L390.7,326.7 L391.7,326.8 L392.6,326.3 L393.6,326.5 L394.6,326.2 L395.6,326.3 L396.6,326.3 L397.6,326.3 L398.6,325.7 L399.6,326.1 L400.6,325.6 L401.6,325.4 L402.6,325.5 L403.6,325.1 L404.6,325.4 L405.6,325.4 L406.6,325.2 L407.6,325.2 L408.6,325.0 L409.6,324.9 L410.6,324.5 L411.6,324.8 L412.6,324.5 L413.6,324.5 L414.6,324.5 L415.6,324.5 L416.6,324.0 L417.5,324.0 L418.5,324.2 L419.5,324.2 L420.5,324.2 L421.5,324.2 L422.5,324.2 L423.5,324.0 L424.5,323.8 L425.5,323.5 L426.5,323.4 L427.5,323.5 L428.5,323.6 L429.5,323.5 L430.5,323.4 L431.5,323.3 L432.5,323.4 L433.5,323.3 L434.5,323.2 L435.5,323.2 L436.5,322.9 L437.5,322.8 L438.5,323.1 L439.5,323.0 L440.5,322.8 L441.5,322.7 L442.5,323.3 L443.5,322.5 L444.5,322.6 L445.5,322.7 L446.5,322.3 L447.5,322.6 L448.5,322.9 L449.5,322.7 L450.5,322.6 L451.5,322.5 L452.5,322.4 L453.5,322.5 L454.5,322.3 L455.5,322.2 L456.5,322.3 L457.5,322.4 L458.5,322.3 L459.5,322.3 L460.5,321.7 L461.5,322.4 L462.5,322.6 L463.5,322.4 L464.5,322.0 L465.5,321.9 L466.5,322.1 L467.5,321.8 L468.5,322.2 L469.5,321.9 L470.5,322.3 L471.5,322.3 L472.5,321.6 L473.5,322.1 L474.5,321.9 L475.5,321.7 L476.5,321.9 L477.5,322.0 L478.5,322.3 L479.5,321.8 L480.5,322.3 L481.5,322.6 L482.5,322.3 L483.5,322.3 L484.5,322.1 L485.5,321.9 L486.5,322.3 L487.5,322.2 L488.5,322.3 L489.5,322.7 L490.5,322.2 L491.5,322.2 L492.5,322.4 L493.5,321.7 L494.5,321.7 L495.5,321.9 L496.5,321.8 L497.5,322.1 L498.5,321.9 L499.5,322.4 L500.5,322.4 L501.5,322.3 L502.5,322.2 L503.5,322.5 L504.5,322.7 L505.4,322.5 L506.4,323.0 L507.4,323.2 L508.4,323.3 L509.4,323.8 L510.4,323.9 L511.3,323.7 L512.3,324.2 L513.3,324.2 L514.2,324.8 L515.2,324.8 L516.1,325.6 L517.0,325.9 L517.9,326.5 L518.7,326.8 L519.5,327.1 L520.3,328.5 L520.9,328.8 L521.5,329.9 L522.1,330.5 L522.6,331.5 L523.1,332.6 L523.5,333.1 L524.0,334.3 L524.4,334.5 L524.8,336.0 L525.3,336.6 L525.7,337.6 L526.1,338.5 L526.4,339.5 L526.8,340.8 L527.1,340.9 L527.4,342.3 L527.6,343.1 L527.9,344.5 L528.2,345.1 L528.5,346.2 L528.8,347.0 L529.1,348.2 L529.5,349.2 L529.9,349.8 L530.3,350.8 L530.8,351.4 L531.3,352.6 L531.8,353.6 L532.4,354.1 L533.1,355.2 L533.9,355.1 L534.7,355.6 L535.7,356.1 L536.6,356.6 L537.6,356.8 L538.6,357.0" stroke="#c987e6" stroke-width="3.0"/>
<path d="M121.4,11.2 L121.6,12.2 L121.8,13.2 L122.0,14.1 L122.2,15.1 L122.4,16.1 L122.6,17.1 L122.8,18.1 L123.0,19.1 L123.2,20.0 L123.4,21.0 L123.5,22.0 L123.7,23.0 L123.9,24.0 L124.1,24.9 L124.3,26.0 L124.5,26.9 L124.6,27.9 L124.8,28.9 L125.0,29.9 L125.2,30.8 L125.3,31.9 L125.5,32.9 L125.7,33.8 L125.8,34.8 L126.0,35.9 L126.2,36.7 L126.3,37.8 L126.5,38.7 L126.7,39.7 L126.8,40.7 L127.0,41.8 L127.2,42.6 L127.3,43.7 L127.5,44.6 L127.6,45.7 L127.8,46.6 L128.0,47.6 L128.1,48.6 L128.3,49.6 L128.4,50.6 L128.6,51.6 L128.7,52.6 L128.9,53.6 L129.0,54.5 L129.2,55.4 L129.3,56.6 L129.5,57.5 L129.6,58.6 L129.8,59.4 L129.9,60.4 L130.0,61.3 L130.2,62.4 L130.3,63.5 L130.5,64.5 L130.6,65.4 L130.7,66.4 L130.9,67.5 L131.0,68.4 L131.2,69.4 L131.3,70.4 L131.4,71.2 L131.6,72.3 L131.7,73.5 L131.9,74.3 L132.0,75.3 L132.1,76.3 L132.3,77.3 L132.4,78.4 L132.5,79.3 L132.7,80.2 L132.8,81.0 L132.9,82.2 L133.0,83.1 L133.2,84.1 L133.3,85.3 L133.4,86.3 L133.6,87.1 L133.7,88.3 L133.8,89.3 L134.0,90.1 L134.1,91.3 L134.2,92.0 L134.3,93.1 L134.5,94.0 L134.6,95.1 L134.7,96.2 L134.9,97.0 L135.0,98.0 L135.1,99.0 L135.2,100.1 L135.4,101.1 L135.5,102.2 L135.6,103.0 L135.8,104.0 L135.9,105.0 L136.0,106.1 L136.1,107.0 L136.3,108.1 L136.4,109.2 L136.5,110.0 L136.7,111.0 L136.8,112.2 L136.9,112.9 L137.0,113.9 L137.2,114.9 L137.3,116.0 L137.4,117.0 L137.6,118.0 L137.7,119.0 L137.8,120.1 L137.9,121.1 L138.1,121.8 L138.2,122.9 L138.3,123.9 L138.5,125.0 L138.6,125.9 L138.7,126.8 L138.9,127.8 L139.0,128.6 L139.1,129.9 L139.3,130.8 L139.4,131.9 L139.5,132.7 L139.7,133.8 L139.8,134.7 L140.0,135.7 L140.1,136.9 L140.2,137.7 L140.4,138.8 L140.5,139.6 L140.7,140.8 L140.8,141.5 L140.9,142.7 L141.1,143.7 L141.2,144.8 L141.4,145.7 L141.5,146.7 L141.7,147.8 L141.8,148.7 L141.9,149.7 L142.1,150.8 L142.2,151.6 L142.4,152.6 L142.5,153.7 L142.7,154.5 L142.8,155.7 L143.0,156.8 L143.2,157.7 L143.3,158.5 L143.5,159.3 L143.6,160.5 L143.8,161.5 L143.9,162.7 L144.1,163.4 L144.3,164.4 L144.4,165.6 L144.6,166.4 L144.8,167.4 L144.9,168.7 L145.1,169.7 L145.3,170.5 L145.4,171.4 L145.6,172.2 L145.8,173.5 L145.9,174.4 L146.1,175.4 L146.3,176.2 L146.5,177.3 L146.6,178.2 L146.8,179.3 L147.0,180.5 L147.2,181.3 L147.4,181.9 L147.6,183.0 L147.7,183.9 L147.9,185.0 L148.1,186.3 L148.3,187.2 L148.5,188.0 L148.7,189.1 L148.9,189.9 L149.1,190.8 L149.3,191.7 L149.5,192.8 L149.7,194.3 L149.9,194.7 L150.1,196.2 L150.3,197.2 L150.5,197.9 L150.7,198.9 L150.9,199.7 L151.1,200.8 L151.3,202.0 L151.6,202.8 L151.8,204.0 L152.0,205.0 L152.2,205.8 L152.4,206.8 L152.7,207.7 L152.9,208.7 L153.1,209.4 L153.3,210.7 L153.6,211.6 L153.8,212.3 L154.0,214.0 L154.3,214.3 L154.5,215.3 L154.8,216.5 L155.0,217.0 L155.2,218.2 L155.5,219.0 L155.7,220.1 L156.0,221.2 L156.2,222.3 L156.5,223.4 L156.8,224.3 L157.0,225.4 L157.3,226.2 L157.5,227.0 L157.8,228.3 L158.1,228.9 L158.3,229.8 L158.6,231.3 L158.9,232.1 L159.1,232.9 L159.4,234.0 L159.7,235.0 L160.0,235.4 L160.3,236.7 L160.5,237.4 L160.8,238.6 L161.1,239.4 L161.4,240.8 L161.7,241.6 L162.0,242.2 L162.3,243.4 L162.6,244.1 L162.9,245.3 L163.2,246.4 L163.5,247.3 L163.8,247.7 L164.1,249.0 L164.4,250.2 L164.8,251.1 L165.1,252.2 L165.4,252.6 L165.7,253.9 L166.1,254.6 L166.4,255.8 L166.7,256.7 L167.1,257.8 L167.4,258.4 L167.8,259.5 L168.1,260.2 L168.5,261.0 L168.8,262.4 L169.2,263.2 L169.6,263.8 L169.9,264.9 L170.3,266.0 L170.7,267.3 L171.1,268.1 L171.4,269.0 L171.8,269.3 L172.2,270.6 L172.6,271.6 L173.0,272.5 L173.4,273.5 L173.8,274.2 L174.3,275.6 L174.7,276.4 L175.1,277.0 L175.5,277.7 L176.0,279.2 L176.4,279.6 L176.9,280.8 L177.3,281.9 L177.8,282.2 L178.3,283.3 L178.7,284.1 L179.2,285.1 L179.7,286.0 L180.2,287.2 L180.7,287.8 L181.2,288.5 L181.7,289.6 L182.2,290.2 L182.7,291.0 L183.2,292.4 L183.8,292.6 L184.3,293.5 L184.8,294.5 L185.4,295.0 L186.0,295.6 L186.5,297.2 L187.1,297.6 L187.7,298.4 L188.3,299.3 L188.9,300.0 L189.5,300.7 L190.1,301.8 L190.7,303.1 L191.3,303.5 L192.0,304.3 L192.6,304.5 L193.2,305.6 L193.9,306.1 L194.6,307.3 L195.2,307.8 L195.9,308.6 L196.6,309.3 L197.3,309.9 L198.0,310.4 L198.7,311.6 L199.4,311.9 L200.2,312.6 L200.9,313.5 L201.6,314.0 L202.4,314.9 L203.1,315.7 L203.9,316.2 L204.7,316.8 L205.5,317.4 L206.3,318.2 L207.1,318.2 L207.9,319.3 L208.7,319.6 L209.5,320.1 L210.3,320.9 L211.2,321.4 L212.0,322.2 L212.8,322.8 L213.7,322.6 L214.6,323.6 L215.4,324.5 L216.3,324.8 L217.2,325.4 L218.1,325.5 L219.0,325.6 L219.9,326.1 L220.8,327.0 L221.7,327.5 L222.6,327.5 L223.5,328.0 L224.4,328.5 L225.3,328.4 L226.3,329.1 L227.2,329.9 L228.1,330.4 L229.1,330.2 L230.0,331.0 L231.0,330.8 L231.9,331.0 L232.9,331.0 L233.8,332.0 L234.8,332.0 L235.8,332.9 L236.7,332.7 L237.7,332.9 L238.7,332.7 L239.6,333.7 L240.6,333.5 L241.6,333.7 L242.6,333.5 L243.6,334.4 L244.5,334.6 L245.5,334.4 L246.5,334.7 L247.5,334.9 L248.5,335.2 L249.5,335.1 L250.5,335.6 L251.5,335.3 L252.5,335.3 L253.5,335.5 L254.4,335.1 L255.4,335.6 L256.4,336.0 L257.4,335.9 L258.4,335.7 L259.4,336.0 L260.4,335.6 L261.4,336.0 L262.4,336.2 L263.4,336.2 L264.4,335.9 L265.4,336.2 L266.4,336.4 L267.4,335.9 L268.4,336.1 L269.4,335.6 L270.4,335.4 L271.4,335.9 L272.4,335.7 L273.4,335.7 L274.4,335.4 L275.4,335.4 L276.4,335.6 L277.4,335.7 L278.4,335.1 L279.4,334.7 L280.4,335.2 L281.4,334.9 L282.4,334.8 L283.4,334.6 L284.4,334.9 L285.3,334.3 L286.3,334.2 L287.3,333.6 L288.3,333.7 L289.3,333.5 L290.3,333.5 L291.3,333.4 L292.3,333.0 L293.2,333.4 L294.2,332.6 L295.2,332.5 L296.2,332.5 L297.2,332.0 L298.2,332.2 L299.1,332.0 L300.1,331.6 L301.1,331.9 L302.1,331.3 L303.1,331.2 L304.1,330.7 L305.0,330.4 L306.0,330.4 L307.0,330.3 L308.0,330.1 L309.0,330.1 L309.9,329.3 L310.9,329.3 L311.9,329.0 L312.9,329.5 L313.9,328.9 L314.8,328.7 L315.8,328.4 L316.8,328.6 L317.8,328.2 L318.8,328.1 L319.8,327.4 L320.7,328.0 L321.7,327.6 L322.7,327.4 L323.7,327.4 L324.7,326.9 L325.7,326.7 L326.6,326.7 L327.6,326.5 L328.6,326.2 L329.6,326.1 L330.6,325.8 L331.6,325.8 L332.5,325.7 L333.5,325.3 L334.5,325.6 L335.5,324.6 L336.5,324.7 L337.5,325.0 L338.4,324.4 L339.4,323.9 L340.4,324.4 L341.4,324.0 L342.4,323.5 L343.4,323.8 L344.4,323.2 L345.3,322.9 L346.3,323.0 L347.3,322.8 L348.3,322.5 L349.3,322.5 L350.3,322.2 L351.3,322.3 L352.2,322.1 L353.2,322.1 L354.2,321.7 L355.2,321.3 L356.2,321.1 L357.2,321.2 L358.2,321.5 L359.2,321.1 L360.1,320.7 L361.1,320.8 L362.1,320.2 L363.1,320.6 L364.1,320.1 L365.1,320.2 L366.1,320.0 L367.1,319.7 L368.0,319.6 L369.0,319.2 L370.0,319.3 L371.0,319.4 L372.0,319.9 L373.0,319.0 L374.0,318.7 L375.0,318.3 L376.0,318.6 L377.0,317.9 L377.9,318.0 L378.9,318.1 L379.9,317.6 L380.9,318.1 L381.9,317.8 L382.9,317.3 L383.9,317.2 L384.9,316.9 L385.9,316.7 L386.9,317.0 L387.9,316.9 L388.8,316.7 L389.8,316.6 L390.8,316.3 L391.8,316.4 L392.8,315.8 L393.8,316.0 L394.8,316.2 L395.8,316.1 L396.8,315.6 L397.8,315.5 L398.8,315.7 L399.8,315.7 L400.8,314.9 L401.7,315.0 L402.7,315.0 L403.7,315.1 L404.7,314.6 L405.7,314.8 L406.7,314.5 L407.7,314.9 L408.7,314.4 L409.7,314.2 L410.7,314.0 L411.7,314.2 L412.7,314.1 L413.7,313.6 L414.7,313.8 L415.7,313.3 L416.7,313.3 L417.7,313.1 L418.7,313.0 L419.7,313.1 L420.6,312.9 L421.6,313.2 L422.6,313.1 L423.6,312.8 L424.6,312.5 L425.6,312.9 L426.6,312.2 L427.6,312.1 L428.6,312.6 L429.6,312.5 L430.6,312.5 L431.6,312.2 L432.6,311.9 L433.6,312.0 L434.6,312.1 L435.6,311.8 L436.6,311.7 L437.6,311.5 L438.6,311.5 L439.6,311.8 L440.6,311.7 L441.6,311.3 L442.6,311.2 L443.6,311.3 L444.6,311.5 L445.6,311.0 L446.6,311.2 L447.6,310.7 L448.6,310.9 L449.6,311.2 L450.6,311.2 L451.6,310.7 L452.6,310.8 L453.6,311.1 L454.6,310.8 L455.6,310.7 L456.6,310.9 L457.6,310.8 L458.6,310.9 L459.6,310.8 L460.6,310.5 L461.6,310.5 L462.6,310.5 L463.6,310.2 L464.6,310.3 L465.6,310.7 L466.6,310.1 L467.6,310.6 L468.6,310.4 L469.6,310.3 L470.6,310.4 L471.6,310.4 L472.6,310.6 L473.6,310.2 L474.6,310.2 L475.6,310.2 L476.6,310.7 L477.6,310.4 L478.6,310.0 L479.6,310.1 L480.6,310.1 L481.6,310.2 L482.6,310.3 L483.6,310.7 L484.6,309.8 L485.6,310.4 L486.6,310.3 L487.6,310.1 L488.6,310.2 L489.6,310.1 L490.6,310.2 L491.6,310.4 L492.6,309.9 L493.6,310.5 L494.6,310.1 L495.6,310.5 L496.6,310.2 L497.6,310.4 L498.6,310.2 L499.6,310.3 L500.6,310.1 L501.6,309.9 L502.6,310.2 L503.6,310.2 L504.6,310.5 L505.6,309.7 L506.6,310.2 L507.6,310.5 L508.5,310.1 L509.5,310.5 L510.5,311.1 L511.5,311.1 L512.5,310.7 L513.5,311.4 L514.5,311.6 L515.4,311.7 L516.4,312.0 L517.3,312.4 L518.2,312.6 L519.0,313.2 L519.9,314.0 L520.7,314.5 L521.4,315.5 L522.1,315.8 L522.7,316.1 L523.3,317.4 L523.8,318.4 L524.3,319.3 L524.6,320.1 L524.9,320.9 L525.2,322.4 L525.4,322.9 L525.6,324.1 L525.8,324.9 L526.0,325.7 L526.2,327.3 L526.3,327.4 L526.5,328.7 L526.7,330.0 L526.9,330.8 L527.0,332.0 L527.2,332.8 L527.4,333.7 L527.6,335.3 L527.7,335.8 L527.9,336.8 L528.0,337.5 L528.2,338.6 L528.3,339.9 L528.5,340.9 L528.6,341.7 L528.8,342.6 L528.9,343.9 L529.1,344.3 L529.3,345.6 L529.6,346.6 L529.9,347.4 L530.3,348.6 L530.7,349.3 L531.2,350.1 L531.9,351.4 L532.7,351.7 L533.7,352.2 L534.6,352.2 L535.6,352.6 L536.6,352.7 L537.6,352.9 L538.6,353.2" stroke="#1f965b" stroke-width="3.0"/>
<path d="M125.8,11.3 L126.1,12.2 L126.3,13.2 L126.6,14.1 L126.8,15.1 L127.1,16.1 L127.3,17.1 L127.6,18.0 L127.8,19.0 L128.0,20.0 L128.3,21.0 L128.5,22.0 L128.7,23.0 L128.9,23.9 L129.1,24.9 L129.3,25.9 L129.5,26.8 L129.7,27.8 L129.9,28.8 L130.1,29.8 L130.3,30.8 L130.5,31.8 L130.7,32.8 L130.9,33.7 L131.1,34.7 L131.3,35.7 L131.4,36.7 L131.6,37.6 L131.8,38.8 L132.0,39.6 L132.1,40.6 L132.3,41.7 L132.5,42.6 L132.6,43.6 L132.8,44.6 L132.9,45.6 L133.1,46.6 L133.3,47.6 L133.4,48.5 L133.6,49.5 L133.7,50.6 L133.9,51.5 L134.0,52.3 L134.2,53.4 L134.3,54.4 L134.4,55.4 L134.6,56.5 L134.7,57.5 L134.9,58.5 L135.0,59.4 L135.1,60.4 L135.3,61.5 L135.4,62.4 L135.5,63.4 L135.7,64.5 L135.8,65.4 L135.9,66.2 L136.1,67.4 L136.2,68.3 L136.3,69.3 L136.5,70.4 L136.6,71.4 L136.7,72.3 L136.9,73.4 L137.0,74.4 L137.1,75.3 L137.2,76.3 L137.4,77.3 L137.5,78.3 L137.6,79.2 L137.8,80.3 L137.9,81.2 L138.0,82.1 L138.2,83.4 L138.3,84.2 L138.4,85.2 L138.6,86.2 L138.7,87.2 L138.8,88.2 L139.0,89.2 L139.1,90.1 L139.2,91.3 L139.4,92.1 L139.5,93.3 L139.7,94.0 L139.8,95.0 L139.9,96.2 L140.1,97.1 L140.2,98.1 L140.4,99.2 L140.5,100.0 L140.7,101.1 L140.8,101.8 L141.0,103.0 L141.2,104.0 L141.3,105.1 L141.5,106.1 L141.6,106.9 L141.8,108.2 L142.0,108.9 L142.1,109.7 L142.3,110.7 L142.5,112.2 L142.7,112.9 L142.8,113.9 L143.0,114.8 L143.2,115.8 L143.4,117.1 L143.6,117.9 L143.8,119.1 L144.0,119.8 L144.2,120.5 L144.3,121.9 L144.5,122.7 L144.7,123.7 L144.9,125.0 L145.2,125.7 L145.4,126.9 L145.6,127.7 L145.8,128.6 L146.0,129.7 L146.2,130.5 L146.4,131.8 L146.6,132.7 L146.9,133.6 L147.1,134.6 L147.3,135.6 L147.5,136.4 L147.8,137.6 L148.0,138.4 L148.2,139.5 L148.5,140.2 L148.7,141.4 L149.0,142.4 L149.2,143.2 L149.4,144.2 L149.7,145.1 L149.9,146.3 L150.2,147.0 L150.4,148.2 L150.7,149.4 L151.0,150.1 L151.2,150.7 L151.5,152.0 L151.7,153.2 L152.0,153.9 L152.3,155.1 L152.5,156.0 L152.8,156.9 L153.1,157.7 L153.4,158.7 L153.6,159.7 L153.9,160.7 L154.2,161.8 L154.5,162.7 L154.8,163.5 L155.1,164.5 L155.4,165.6 L155.7,166.1 L155.9,167.2 L156.2,168.2 L156.5,169.3 L156.8,170.2 L157.1,171.2 L157.5,172.0 L157.8,173.3 L158.1,174.1 L158.4,174.7 L158.7,176.0 L159.0,176.7 L159.3,178.3 L159.6,178.7 L160.0,179.7 L160.3,180.8 L160.6,181.6 L160.9,182.6 L161.3,183.9 L161.6,184.6 L161.9,185.6 L162.3,186.7 L162.6,187.1 L162.9,188.7 L163.3,189.4 L163.6,190.4 L164.0,190.9 L164.3,192.2 L164.7,193.1 L165.0,193.8 L165.4,195.4 L165.7,195.9 L166.1,196.7 L166.4,197.7 L166.8,198.8 L167.1,199.8 L167.5,200.6 L167.9,201.7 L168.2,202.7 L168.6,203.0 L169.0,204.1 L169.4,204.9 L169.7,206.1 L170.1,207.3 L170.5,208.1 L170.9,208.6 L171.3,209.7 L171.6,210.9 L172.0,211.5 L172.4,212.5 L172.8,213.5 L173.2,214.0 L173.6,215.5 L174.0,216.3 L174.4,217.3 L174.8,217.8 L175.2,218.8 L175.6,219.7 L176.1,220.8 L176.5,221.7 L176.9,222.6 L177.3,223.9 L177.7,224.7 L178.2,225.2 L178.6,226.1 L179.0,227.5 L179.5,228.0 L179.9,229.2 L180.3,230.2 L180.8,230.6 L181.2,231.6 L181.7,232.5 L182.1,233.2 L182.6,234.1 L183.1,235.1 L183.5,236.3 L184.0,236.9 L184.4,237.8 L184.9,238.6 L185.4,239.3 L185.9,240.8 L186.4,240.9 L186.8,242.1 L187.3,243.3 L187.8,243.7 L188.3,245.0 L188.8,246.0 L189.3,246.4 L189.8,247.5 L190.3,248.1 L190.8,249.3 L191.4,250.1 L191.9,251.0 L192.4,252.1 L192.9,252.7 L193.4,253.8 L194.0,254.5 L194.5,254.9 L195.1,256.1 L195.6,257.0 L196.2,257.4 L196.7,258.8 L197.3,259.4 L197.8,260.3 L198.4,260.8 L198.9,261.9 L199.5,262.7 L200.1,263.4 L200.7,264.3 L201.2,264.7 L201.8,266.2 L202.4,266.5 L203.0,267.1 L203.6,268.2 L204.2,269.0 L204.8,270.1 L205.4,270.6 L206.0,271.6 L206.6,272.1 L207.3,273.6 L207.9,274.0 L208.5,275.1 L209.1,275.3 L209.8,276.4 L210.4,276.8 L211.1,277.9 L211.7,278.7 L212.4,279.0 L213.0,279.8 L213.7,280.6 L214.3,281.2 L215.0,282.1 L215.7,282.8 L216.4,283.5 L217.1,284.5 L217.8,285.3 L218.5,285.7 L219.2,286.5 L219.9,287.4 L220.6,288.0 L221.3,288.6 L222.0,289.6 L222.8,290.3 L223.5,290.9 L224.3,291.4 L225.0,292.6 L225.8,293.1 L226.6,293.3 L227.3,294.0 L228.1,294.9 L228.9,295.1 L229.7,296.0 L230.5,296.5 L231.3,296.9 L232.1,297.6 L232.9,297.9 L233.8,298.7 L234.6,298.9 L235.5,300.4 L236.3,300.7 L237.2,301.2 L238.1,301.5 L238.9,302.1 L239.8,302.6 L240.7,303.0 L241.6,303.4 L242.5,303.5 L243.4,304.2 L244.3,304.4 L245.3,304.6 L246.2,305.0 L247.1,305.7 L248.1,306.1 L249.0,305.9 L250.0,306.9 L250.9,307.1 L251.9,307.0 L252.9,307.3 L253.8,307.6 L254.8,308.1 L255.8,308.0 L256.8,308.0 L257.8,308.5 L258.7,308.2 L259.7,308.8 L260.7,309.2 L261.7,309.1 L262.7,309.4 L263.7,309.4 L264.7,309.6 L265.7,309.5 L266.7,309.4 L267.7,309.6 L268.7,309.7 L269.7,310.0 L270.7,310.1 L271.7,309.9 L272.7,309.7 L273.7,309.7 L274.7,309.8 L275.7,310.1 L276.7,309.8 L277.7,309.7 L278.7,309.5 L279.7,309.8 L280.7,309.7 L281.7,309.5 L282.7,309.5 L283.7,309.7 L284.7,309.2 L285.7,309.5 L286.7,309.3 L287.7,309.0 L288.7,309.0 L289.7,308.7 L290.7,308.4 L291.7,308.4 L292.6,308.1 L293.6,308.3 L294.6,308.0 L295.6,307.9 L296.6,307.8 L297.6,306.8 L298.6,307.4 L299.6,306.7 L300.5,307.0 L301.5,306.5 L302.5,306.6 L303.5,306.6 L304.5,305.7 L305.4,306.0 L306.4,305.7 L307.4,305.1 L308.4,305.4 L309.4,305.0 L310.3,304.7 L311.3,304.4 L312.3,305.0 L313.2,304.0 L314.2,303.4 L315.2,303.4 L316.2,303.2 L317.1,303.0 L318.1,302.8 L319.1,302.3 L320.0,302.4 L321.0,301.9 L322.0,301.4 L322.9,301.3 L323.9,301.1 L324.8,301.1 L325.8,300.8 L326.8,300.3 L327.7,300.1 L328.7,299.8 L329.6,300.0 L330.6,299.1 L331.6,299.0 L332.5,298.8 L333.5,298.1 L334.4,298.1 L335.4,297.8 L336.3,297.4 L337.3,297.3 L338.3,297.1 L339.2,296.8 L340.2,296.2 L341.1,296.0 L342.1,296.2 L343.0,295.1 L344.0,295.1 L345.0,295.0 L345.9,294.5 L346.9,294.3 L347.8,293.9 L348.8,293.8 L349.7,293.6 L350.7,292.9 L351.6,292.7 L352.6,292.4 L353.6,292.0 L354.5,291.8 L355.5,291.3 L356.4,291.4 L357.4,291.3 L358.4,291.0 L359.3,290.7 L360.3,289.9 L361.2,290.1 L362.2,289.4 L363.2,289.2 L364.1,289.4 L365.1,288.5 L366.0,288.6 L367.0,288.2 L368.0,287.8 L368.9,287.4 L369.9,287.4 L370.9,287.0 L371.8,287.0 L372.8,286.8 L373.8,286.0 L374.7,285.9 L375.7,285.7 L376.7,285.3 L377.6,285.0 L378.6,285.0 L379.6,284.7 L380.6,284.2 L381.5,284.2 L382.5,284.2 L383.5,283.5 L384.4,283.4 L385.4,283.7 L386.4,283.4 L387.4,282.5 L388.3,282.3 L389.3,282.5 L390.3,281.9 L391.3,281.9 L392.2,281.6 L393.2,281.6 L394.2,280.7 L395.2,280.5 L396.1,280.5 L397.1,280.8 L398.1,280.3 L399.1,279.8 L400.1,280.1 L401.0,279.9 L402.0,279.5 L403.0,279.2 L404.0,279.2 L404.9,279.2 L405.9,278.7 L406.9,278.6 L407.9,278.3 L408.9,278.0 L409.9,277.7 L410.8,277.8 L411.8,277.5 L412.8,277.3 L413.8,277.3 L414.8,277.1 L415.8,277.0 L416.7,276.2 L417.7,276.5 L418.7,276.1 L419.7,275.9 L420.7,275.7 L421.7,275.9 L422.6,275.7 L423.6,275.2 L424.6,274.9 L425.6,275.0 L426.6,274.7 L427.6,275.0 L428.6,274.2 L429.6,273.9 L430.5,274.1 L431.5,274.0 L432.5,273.9 L433.5,273.8 L434.5,274.0 L435.5,273.3 L436.5,273.1 L437.5,272.7 L438.5,273.0 L439.4,272.9 L440.4,272.5 L441.4,272.7 L442.4,272.3 L443.4,272.5 L444.4,272.1 L445.4,271.7 L446.4,271.6 L447.4,271.3 L448.4,271.1 L449.4,271.4 L450.4,271.4 L451.3,271.5 L452.3,270.9 L453.3,270.8 L454.3,270.5 L455.3,270.8 L456.3,270.5 L457.3,270.2 L458.3,270.4 L459.3,270.2 L460.3,269.6 L461.3,270.0 L462.3,269.8 L463.3,269.5 L464.3,269.4 L465.3,269.8 L466.3,269.6 L467.3,269.6 L468.3,268.8 L469.3,268.8 L470.2,269.1 L471.2,268.5 L472.2,268.5 L473.2,268.2 L474.2,268.9 L475.2,268.7 L476.2,268.5 L477.2,268.3 L478.2,268.1 L479.2,268.1 L480.2,268.3 L481.2,267.9 L482.2,268.3 L483.2,267.9 L484.2,267.8 L485.2,268.2 L486.2,267.9 L487.2,268.0 L488.2,267.8 L489.2,267.3 L490.2,267.9 L491.2,267.5 L492.2,268.0 L493.2,267.5 L494.2,267.4 L495.2,267.9 L496.3,267.9 L497.3,267.9 L498.3,267.6 L499.3,268.1 L500.3,267.7 L501.3,267.9 L502.3,267.9 L503.2,268.2 L504.2,268.7 L505.2,268.6 L506.1,269.3 L507.0,269.7 L507.9,269.7 L508.8,270.3 L509.6,271.0 L510.4,271.5 L511.2,272.3 L512.0,272.4 L512.8,273.6 L513.6,274.3 L514.4,274.7 L515.1,275.1 L515.8,276.2 L516.4,276.8 L517.1,277.8 L517.6,278.5 L518.2,279.5 L518.7,280.2 L519.1,281.4 L519.6,281.5 L520.0,282.7 L520.4,284.0 L520.7,284.5 L521.1,285.9 L521.4,286.4 L521.6,287.7 L521.9,288.4 L522.1,289.5 L522.4,290.6 L522.6,291.5 L522.8,292.4 L523.0,294.0 L523.2,294.5 L523.4,295.3 L523.6,296.7 L523.7,297.6 L523.9,298.7 L524.0,299.8 L524.2,300.2 L524.3,301.6 L524.4,302.7 L524.6,303.4 L524.7,304.4 L524.8,304.7 L525.0,306.2 L525.1,307.8 L525.2,308.0 L525.3,309.2 L525.4,310.4 L525.6,311.5 L525.7,312.7 L525.8,312.9 L525.9,314.3 L526.1,315.5 L526.2,316.0 L526.3,317.3 L526.4,318.7 L526.5,319.6 L526.6,320.4 L526.7,320.7 L526.8,322.3 L526.9,323.4 L527.0,324.2 L527.1,325.3 L527.2,327.0 L527.4,327.2 L527.5,328.0 L527.6,329.3 L527.7,330.2 L527.8,331.2 L527.9,332.2 L528.1,333.4 L528.2,334.3 L528.3,335.0 L528.4,336.2 L528.5,337.3 L528.7,338.1 L528.8,339.4 L528.9,340.4 L529.1,341.0 L529.2,342.2 L529.4,343.6 L529.5,344.5 L529.7,345.1 L529.9,346.3 L530.1,347.0 L530.3,347.8 L530.6,349.2 L530.9,350.0 L531.3,351.0 L531.9,351.7 L532.5,352.6 L533.3,353.0 L534.2,353.7 L535.1,354.2 L536.0,354.3 L536.9,355.0 L537.8,354.9 L538.6,355.7" stroke="#111111" stroke-width="3.4"/>
</g>
<rect x="93.8" y="38.1" width="444.8" height="343.6" fill="none" stroke="#000" stroke-width="3"/>
<line x1="81.3" y1="360.2" x2="93.8" y2="360.2" stroke="#000" stroke-width="3"/>
<line x1="81.3" y1="252.8" x2="93.8" y2="252.8" stroke="#000" stroke-width="3"/>
<line x1="81.3" y1="145.5" x2="93.8" y2="145.5" stroke="#000" stroke-width="3"/>
<line x1="81.3" y1="38.1" x2="93.8" y2="38.1" stroke="#000" stroke-width="3"/>
<line x1="86.8" y1="306.5" x2="93.8" y2="306.5" stroke="#000" stroke-width="3"/>
<line x1="86.8" y1="199.2" x2="93.8" y2="199.2" stroke="#000" stroke-width="3"/>
<line x1="86.8" y1="91.8" x2="93.8" y2="91.8" stroke="#000" stroke-width="3"/>
<line x1="93.8" y1="381.7" x2="93.8" y2="394.2" stroke="#000" stroke-width="3"/>
<line x1="182.8" y1="381.7" x2="182.8" y2="394.2" stroke="#000" stroke-width="3"/>
<line x1="271.7" y1="381.7" x2="271.7" y2="394.2" stroke="#000" stroke-width="3"/>
<line x1="360.7" y1="381.7" x2="360.7" y2="394.2" stroke="#000" stroke-width="3"/>
<line x1="449.6" y1="381.7" x2="449.6" y2="394.2" stroke="#000" stroke-width="3"/>
<line x1="538.6" y1="381.7" x2="538.6" y2="394.2" stroke="#000" stroke-width="3"/>
<text transform="translate(77.2 371.5) scale(1 1.07)" font-size="28.4" text-anchor="end">0.0</text>
<text transform="translate(77.2 264.1) scale(1 1.07)" font-size="28.4" text-anchor="end">0.5</text>
<text transform="translate(77.2 156.8) scale(1 1.07)" font-size="28.4" text-anchor="end">1.0</text>
<text transform="translate(77.2 49.4) scale(1 1.07)" font-size="28.4" text-anchor="end">1.5</text>
<text transform="translate(93.8 425.0) scale(1 1.07)" font-size="28.4" text-anchor="middle">400</text>
<text transform="translate(182.8 425.0) scale(1 1.07)" font-size="28.4" text-anchor="middle">600</text>
<text transform="translate(271.7 425.0) scale(1 1.07)" font-size="28.4" text-anchor="middle">800</text>
<text transform="translate(360.7 425.0) scale(1 1.07)" font-size="28.4" text-anchor="middle">1000</text>
<text transform="translate(449.6 425.0) scale(1 1.07)" font-size="28.4" text-anchor="middle">1200</text>
<text transform="translate(538.6 425.0) scale(1 1.07)" font-size="28.4" text-anchor="middle">1400</text>
<text transform="translate(316.2 475.4) scale(1 1.0)" font-size="28.6" text-anchor="middle">Wavelength (nm)</text>
<text transform="translate(21.6 205.2) rotate(-90) scale(1 1.02)" font-size="28.2" text-anchor="middle">Absorbance (arb. units)</text>
<line x1="421" y1="75.9" x2="452.5" y2="75.9" stroke="#111111" stroke-width="3.4"/>
<text transform="translate(520.4 83.7) scale(1 1.03)" font-size="22" text-anchor="end">0 h</text>
<line x1="421" y1="96.2" x2="452.5" y2="96.2" stroke="#1f965b" stroke-width="3.0"/>
<text transform="translate(520.4 104.0) scale(1 1.03)" font-size="22" text-anchor="end">0.5 h</text>
<line x1="421" y1="118.4" x2="452.5" y2="118.4" stroke="#c987e6" stroke-width="3.0"/>
<text transform="translate(520.4 126.2) scale(1 1.03)" font-size="22" text-anchor="end">1 h</text>
<line x1="421" y1="139.6" x2="452.5" y2="139.6" stroke="#5b95d6" stroke-width="3.0"/>
<text transform="translate(520.4 147.4) scale(1 1.03)" font-size="22" text-anchor="end">3 h</text>
<line x1="421" y1="160.9" x2="452.5" y2="160.9" stroke="#f5e21a" stroke-width="3.0"/>
<text transform="translate(520.4 168.7) scale(1 1.03)" font-size="22" text-anchor="end">5 h</text>
<line x1="421" y1="182.1" x2="452.5" y2="182.1" stroke="#f97c82" stroke-width="3.0"/>
<text transform="translate(520.4 189.9) scale(1 1.03)" font-size="22" text-anchor="end">8 h</text>
<line x1="421" y1="203.3" x2="452.5" y2="203.3" stroke="#b5a26c" stroke-width="3.0"/>
<text transform="translate(520.4 211.1) scale(1 1.03)" font-size="22" text-anchor="end">10 h</text>
<line x1="421" y1="224.6" x2="452.5" y2="224.6" stroke="#c7c3f2" stroke-width="3.0"/>
<text transform="translate(520.4 232.4) scale(1 1.03)" font-size="22" text-anchor="end">12 h</text>
<g filter="url(#soft)"><rect x="163.2" y="76.0" width="218.5" height="62.0" fill="url(#bgA)"/>
<rect x="167.3" y="88" width="25.2" height="48" rx="2.5" fill="#e6e2e1"/>
<rect x="167.3" y="88" width="1.3" height="47" fill="#cdc8c7"/>
<rect x="191.2" y="88" width="1.3" height="47" fill="#d2cdcc"/>
<rect x="168.5" y="95.2" width="22.8" height="33.2" fill="#4f3222"/>
<rect x="168.5" y="95.2" width="22.8" height="33.2" fill="url(#liqShade)"/>
<path d="M173.1,128 L173.1,113 Q175.1,105 178.1,103 L181.6,103 L181.6,128 Z" fill="#ffffff" opacity="0.06"/>
<rect x="168.5" y="128.4" width="22.8" height="6.2" rx="1.5" fill="#ddd2cd"/>
<rect x="168.5" y="90.2" width="22.8" height="5" fill="#dad6d8"/>
<rect x="166.1" y="79.4" width="27.6" height="10.8" rx="1.5" fill="url(#capA)"/>
<rect x="192.7" y="80" width="1.0" height="10" fill="#143a8a" opacity="0.6"/>
<rect x="195.3" y="88" width="24.1" height="48" rx="2.5" fill="#e6e2e1"/>
<rect x="195.3" y="88" width="1.3" height="47" fill="#cdc8c7"/>
<rect x="218.1" y="88" width="1.3" height="47" fill="#d2cdcc"/>
<rect x="196.5" y="95.2" width="21.7" height="33.2" fill="#6a3e28"/>
<rect x="196.5" y="95.2" width="21.7" height="33.2" fill="url(#liqShade)"/>
<path d="M201.1,128 L201.1,113 Q203.1,105 206.1,103 L209.6,103 L209.6,128 Z" fill="#ffffff" opacity="0.06"/>
<rect x="196.5" y="128.4" width="21.7" height="6.2" rx="1.5" fill="#ddd2cd"/>
<rect x="196.5" y="90.2" width="21.7" height="5" fill="#dad6d8"/>
<rect x="194.1" y="79.4" width="26.5" height="10.8" rx="1.5" fill="url(#capA)"/>
<rect x="219.6" y="80" width="1.0" height="10" fill="#143a8a" opacity="0.6"/>
<rect x="222.2" y="88" width="23.4" height="48" rx="2.5" fill="#e6e2e1"/>
<rect x="222.2" y="88" width="1.3" height="47" fill="#cdc8c7"/>
<rect x="244.3" y="88" width="1.3" height="47" fill="#d2cdcc"/>
<rect x="223.4" y="95.2" width="21.0" height="33.2" fill="#844826"/>
<rect x="223.4" y="95.2" width="21.0" height="33.2" fill="url(#liqShade)"/>
<path d="M228.0,128 L228.0,113 Q230.0,105 233.0,103 L236.5,103 L236.5,128 Z" fill="#ffffff" opacity="0.06"/>
<rect x="223.4" y="128.4" width="21.0" height="6.2" rx="1.5" fill="#ddd2cd"/>
<rect x="223.4" y="90.2" width="21.0" height="5" fill="#dad6d8"/>
<rect x="221.0" y="79.4" width="25.8" height="10.8" rx="1.5" fill="url(#capA)"/>
<rect x="245.8" y="80" width="1.0" height="10" fill="#143a8a" opacity="0.6"/>
<rect x="249.0" y="88" width="23.3" height="48" rx="2.5" fill="#e6e2e1"/>
<rect x="249.0" y="88" width="1.3" height="47" fill="#cdc8c7"/>
<rect x="271.0" y="88" width="1.3" height="47" fill="#d2cdcc"/>
<rect x="250.2" y="95.2" width="20.9" height="33.2" fill="#975223"/>
<rect x="250.2" y="95.2" width="20.9" height="33.2" fill="url(#liqShade)"/>
<path d="M254.8,128 L254.8,113 Q256.8,105 259.8,103 L263.3,103 L263.3,128 Z" fill="#ffffff" opacity="0.06"/>
<rect x="250.2" y="128.4" width="20.9" height="6.2" rx="1.5" fill="#ddd2cd"/>
<rect x="250.2" y="90.2" width="20.9" height="5" fill="#dad6d8"/>
<rect x="247.8" y="79.4" width="25.7" height="10.8" rx="1.5" fill="url(#capA)"/>
<rect x="272.5" y="80" width="1.0" height="10" fill="#143a8a" opacity="0.6"/>
<rect x="275.3" y="88" width="23.1" height="48" rx="2.5" fill="#e6e2e1"/>
<rect x="275.3" y="88" width="1.3" height="47" fill="#cdc8c7"/>
<rect x="297.1" y="88" width="1.3" height="47" fill="#d2cdcc"/>
<rect x="276.5" y="95.2" width="20.7" height="33.2" fill="#a6581f"/>
<rect x="276.5" y="95.2" width="20.7" height="33.2" fill="url(#liqShade)"/>
<path d="M281.1,128 L281.1,113 Q283.1,105 286.1,103 L289.6,103 L289.6,128 Z" fill="#ffffff" opacity="0.06"/>
<rect x="276.5" y="128.4" width="20.7" height="6.2" rx="1.5" fill="#ddd2cd"/>
<rect x="276.5" y="90.2" width="20.7" height="5" fill="#dad6d8"/>
<rect x="274.1" y="79.4" width="25.5" height="10.8" rx="1.5" fill="url(#capA)"/>
<rect x="298.6" y="80" width="1.0" height="10" fill="#143a8a" opacity="0.6"/>
<rect x="301.7" y="88" width="22.7" height="48" rx="2.5" fill="#e6e2e1"/>
<rect x="301.7" y="88" width="1.3" height="47" fill="#cdc8c7"/>
<rect x="323.1" y="88" width="1.3" height="47" fill="#d2cdcc"/>
<rect x="302.9" y="95.2" width="20.3" height="33.2" fill="#ae5c1e"/>
<rect x="302.9" y="95.2" width="20.3" height="33.2" fill="url(#liqShade)"/>
<path d="M307.5,128 L307.5,113 Q309.5,105 312.5,103 L316.0,103 L316.0,128 Z" fill="#ffffff" opacity="0.06"/>
<rect x="302.9" y="128.4" width="20.3" height="6.2" rx="1.5" fill="#ddd2cd"/>
<rect x="302.9" y="90.2" width="20.3" height="5" fill="#dad6d8"/>
<rect x="300.5" y="79.4" width="25.1" height="10.8" rx="1.5" fill="url(#capA)"/>
<rect x="324.6" y="80" width="1.0" height="10" fill="#143a8a" opacity="0.6"/>
<rect x="327.8" y="88" width="23.4" height="48" rx="2.5" fill="#e6e2e1"/>
<rect x="327.8" y="88" width="1.3" height="47" fill="#cdc8c7"/>
<rect x="349.9" y="88" width="1.3" height="47" fill="#d2cdcc"/>
<rect x="329.0" y="95.2" width="21.0" height="33.2" fill="#b7601c"/>
<rect x="329.0" y="95.2" width="21.0" height="33.2" fill="url(#liqShade)"/>
<path d="M333.6,128 L333.6,113 Q335.6,105 338.6,103 L342.1,103 L342.1,128 Z" fill="#ffffff" opacity="0.06"/>
<rect x="329.0" y="128.4" width="21.0" height="6.2" rx="1.5" fill="#ddd2cd"/>
<rect x="329.0" y="90.2" width="21.0" height="5" fill="#dad6d8"/>
<rect x="326.6" y="79.4" width="25.8" height="10.8" rx="1.5" fill="url(#capA)"/>
<rect x="351.4" y="80" width="1.0" height="10" fill="#143a8a" opacity="0.6"/>
<rect x="354.2" y="88" width="23.8" height="48" rx="2.5" fill="#e6e2e1"/>
<rect x="354.2" y="88" width="1.3" height="47" fill="#cdc8c7"/>
<rect x="376.7" y="88" width="1.3" height="47" fill="#d2cdcc"/>
<rect x="355.4" y="95.2" width="21.4" height="33.2" fill="#bf641b"/>
<rect x="355.4" y="95.2" width="21.4" height="33.2" fill="url(#liqShade)"/>
<path d="M360.0,128 L360.0,113 Q362.0,105 365.0,103 L368.5,103 L368.5,128 Z" fill="#ffffff" opacity="0.06"/>
<rect x="355.4" y="128.4" width="21.4" height="6.2" rx="1.5" fill="#ddd2cd"/>
<rect x="355.4" y="90.2" width="21.4" height="5" fill="#dad6d8"/>
<rect x="353.0" y="79.4" width="26.2" height="10.8" rx="1.5" fill="url(#capA)"/>
<rect x="378.2" y="80" width="1.0" height="10" fill="#143a8a" opacity="0.6"/></g>
<text transform="translate(159.0 68.9) scale(1 1.0)" font-size="25">0 h</text>
<line x1="214.6" y1="61.7" x2="310.4" y2="61.7" stroke="#000" stroke-width="4.0"/>
<polygon points="308.4,53.1 330.4,61.7 308.4,70.3" fill="#000"/>
<text transform="translate(394.5 68.9) scale(1 1.0)" font-size="25" text-anchor="end">12 h</text>
<clipPath id="clipB"><rect x="698.4" y="37.6" width="445.69999999999993" height="343.9"/></clipPath>
<g clip-path="url(#clipB)" fill="none" stroke-linejoin="round" stroke-linecap="round">
<path d="M707.6,11.2 L707.7,12.2 L707.8,13.2 L707.9,14.2 L708.0,15.2 L708.1,16.2 L708.2,17.2 L708.3,18.2 L708.4,19.2 L708.5,20.2 L708.6,21.2 L708.7,22.2 L708.8,23.2 L708.9,24.1 L709.0,25.2 L709.1,26.2 L709.2,27.1 L709.4,28.2 L709.5,29.2 L709.6,30.1 L709.7,31.2 L709.8,32.1 L709.9,33.1 L710.0,34.1 L710.2,35.0 L710.3,36.1 L710.4,37.1 L710.5,38.1 L710.6,39.0 L710.7,40.1 L710.9,41.0 L711.0,42.0 L711.1,43.0 L711.2,44.0 L711.3,45.1 L711.5,46.0 L711.6,47.0 L711.7,48.0 L711.8,49.0 L712.0,50.0 L712.1,51.0 L712.2,52.0 L712.3,53.0 L712.5,54.0 L712.6,55.0 L712.7,56.0 L712.9,56.9 L713.0,57.8 L713.1,59.0 L713.3,60.0 L713.4,60.9 L713.5,61.9 L713.7,62.9 L713.8,63.8 L713.9,64.9 L714.1,65.9 L714.2,66.8 L714.3,67.7 L714.5,68.8 L714.6,69.9 L714.7,70.8 L714.9,71.8 L715.0,72.6 L715.2,73.8 L715.3,74.8 L715.4,75.7 L715.6,76.6 L715.7,77.8 L715.9,78.7 L716.0,79.8 L716.2,80.7 L716.3,81.8 L716.4,82.7 L716.6,83.6 L716.7,84.7 L716.9,85.6 L717.0,86.7 L717.2,87.6 L717.3,88.6 L717.5,89.7 L717.6,90.7 L717.8,91.7 L717.9,92.7 L718.1,93.6 L718.2,94.7 L718.4,95.7 L718.5,96.6 L718.7,97.5 L718.8,98.5 L719.0,99.8 L719.1,100.5 L719.3,101.5 L719.5,102.4 L719.6,103.5 L719.8,104.5 L719.9,105.3 L720.1,106.2 L720.2,107.5 L720.4,108.2 L720.6,109.4 L720.7,110.4 L720.9,111.5 L721.0,112.6 L721.2,113.4 L721.3,114.3 L721.5,115.2 L721.7,116.2 L721.8,117.3 L722.0,118.0 L722.2,119.3 L722.3,120.3 L722.5,121.3 L722.6,122.2 L722.8,123.2 L723.0,124.1 L723.1,125.1 L723.3,125.9 L723.5,127.2 L723.6,128.4 L723.8,129.2 L724.0,130.2 L724.1,130.9 L724.3,132.3 L724.5,133.0 L724.6,134.2 L724.8,135.1 L725.0,135.9 L725.1,137.2 L725.3,138.0 L725.5,139.0 L725.6,140.1 L725.8,141.0 L726.0,141.9 L726.1,143.0 L726.3,143.9 L726.5,144.9 L726.6,145.8 L726.8,146.6 L727.0,147.7 L727.2,148.8 L727.3,149.8 L727.5,151.1 L727.7,151.5 L727.8,152.8 L728.0,153.3 L728.2,154.6 L728.4,155.7 L728.5,156.3 L728.7,157.3 L728.9,158.7 L729.1,159.7 L729.2,160.7 L729.4,161.5 L729.6,163.1 L729.8,163.6 L729.9,164.4 L730.1,166.0 L730.3,166.7 L730.5,167.5 L730.6,168.8 L730.8,169.6 L731.0,170.7 L731.2,171.6 L731.3,172.3 L731.5,173.7 L731.7,174.5 L731.9,175.2 L732.0,176.3 L732.2,177.7 L732.4,178.3 L732.6,179.4 L732.7,180.5 L732.9,181.4 L733.1,182.0 L733.3,183.5 L733.4,184.6 L733.6,185.5 L733.8,186.7 L734.0,187.4 L734.2,188.5 L734.3,189.7 L734.5,190.1 L734.7,191.7 L734.9,192.7 L735.0,193.4 L735.2,194.7 L735.4,195.4 L735.6,195.9 L735.8,197.4 L735.9,198.2 L736.1,199.2 L736.3,200.1 L736.5,201.4 L736.7,202.2 L736.8,202.8 L737.0,204.1 L737.2,205.2 L737.4,205.8 L737.6,206.8 L737.7,207.8 L737.9,208.7 L738.1,210.0 L738.3,211.2 L738.5,212.4 L738.7,213.2 L738.9,214.1 L739.1,215.2 L739.3,216.2 L739.5,216.7 L739.6,218.0 L739.8,218.8 L740.0,219.7 L740.2,220.6 L740.4,221.5 L740.6,222.6 L740.8,223.3 L741.0,224.8 L741.3,225.6 L741.5,226.6 L741.7,227.7 L741.9,228.7 L742.1,229.3 L742.3,230.5 L742.5,231.0 L742.7,231.8 L743.0,232.8 L743.2,234.9 L743.4,234.8 L743.6,236.5 L743.9,237.8 L744.1,238.2 L744.3,239.8 L744.5,240.8 L744.8,241.5 L745.0,242.9 L745.3,243.3 L745.5,243.9 L745.7,245.2 L746.0,245.9 L746.2,246.6 L746.5,247.6 L746.8,249.7 L747.0,249.8 L747.3,250.9 L747.5,251.7 L747.8,252.9 L748.1,253.7 L748.3,254.6 L748.6,255.4 L748.9,256.3 L749.2,257.4 L749.4,258.7 L749.7,260.2 L750.0,260.8 L750.3,262.0 L750.6,262.6 L750.9,263.4 L751.2,263.9 L751.5,265.3 L751.8,265.6 L752.1,267.1 L752.4,268.6 L752.7,269.2 L753.0,270.4 L753.4,270.9 L753.7,271.5 L754.0,272.7 L754.4,273.7 L754.7,275.1 L755.0,276.3 L755.4,276.4 L755.7,277.5 L756.1,278.5 L756.4,279.4 L756.8,280.0 L757.1,281.4 L757.5,282.4 L757.9,283.3 L758.2,283.8 L758.6,285.0 L759.0,285.5 L759.4,287.2 L759.8,287.5 L760.2,288.7 L760.6,289.5 L761.0,290.4 L761.4,291.2 L761.8,291.9 L762.2,293.8 L762.6,294.3 L763.0,295.2 L763.5,296.7 L763.9,296.9 L764.3,298.0 L764.8,298.7 L765.2,300.0 L765.7,300.7 L766.1,301.5 L766.6,302.2 L767.1,303.3 L767.5,304.4 L768.0,304.3 L768.5,305.8 L769.0,306.6 L769.5,307.5 L770.0,307.8 L770.5,309.5 L771.0,309.9 L771.5,310.9 L772.1,311.7 L772.6,312.2 L773.2,313.4 L773.7,313.8 L774.3,314.9 L774.9,315.9 L775.4,316.8 L776.0,317.6 L776.6,318.4 L777.2,319.9 L777.8,320.1 L778.5,320.4 L779.1,321.4 L779.7,322.2 L780.4,323.1 L781.0,323.7 L781.7,324.4 L782.3,325.9 L783.0,326.1 L783.7,326.7 L784.4,327.5 L785.1,328.2 L785.8,329.4 L786.6,329.8 L787.3,330.7 L788.0,330.1 L788.8,331.8 L789.5,332.6 L790.3,333.5 L791.1,333.6 L791.9,333.7 L792.6,335.0 L793.4,335.3 L794.2,335.5 L795.1,336.4 L795.9,337.5 L796.7,338.1 L797.5,338.5 L798.4,338.6 L799.2,340.2 L800.1,339.6 L800.9,340.4 L801.8,340.5 L802.6,341.9 L803.5,342.1 L804.4,342.7 L805.3,342.9 L806.2,343.3 L807.1,343.8 L808.0,343.6 L808.9,344.9 L809.8,345.3 L810.7,345.3 L811.6,345.8 L812.6,346.3 L813.5,347.0 L814.4,347.1 L815.4,347.3 L816.3,347.5 L817.3,347.5 L818.2,348.1 L819.2,348.6 L820.1,348.7 L821.1,349.1 L822.0,349.6 L823.0,349.8 L824.0,350.0 L825.0,350.3 L825.9,350.4 L826.9,350.6 L827.9,350.9 L828.9,350.5 L829.8,351.5 L830.8,351.0 L831.8,351.8 L832.8,351.7 L833.8,352.2 L834.8,352.0 L835.8,351.9 L836.7,352.6 L837.7,352.5 L838.7,352.6 L839.7,352.7 L840.7,353.1 L841.7,353.1 L842.7,353.1 L843.7,352.6 L844.7,353.1 L845.7,353.3 L846.7,353.9 L847.7,353.5 L848.7,353.5 L849.7,353.9 L850.7,353.6 L851.7,353.6 L852.7,353.7 L853.7,353.3 L854.7,354.1 L855.7,353.9 L856.7,353.8 L857.7,353.5 L858.7,354.0 L859.7,354.3 L860.7,353.8 L861.7,353.6 L862.7,354.1 L863.7,353.5 L864.7,353.3 L865.7,353.9 L866.7,353.8 L867.7,353.9 L868.7,353.8 L869.7,354.1 L870.7,353.9 L871.7,353.8 L872.7,353.8 L873.7,354.1 L874.7,354.2 L875.7,354.1 L876.7,354.0 L877.7,352.8 L878.7,353.5 L879.7,353.6 L880.7,353.8 L881.7,353.2 L882.7,354.0 L883.7,353.7 L884.7,353.3 L885.7,353.5 L886.7,353.3 L887.7,353.2 L888.7,353.5 L889.7,353.1 L890.7,352.8 L891.7,353.0 L892.7,353.1 L893.7,352.7 L894.7,353.4 L895.7,352.6 L896.7,353.4 L897.7,353.1 L898.7,352.4 L899.7,352.7 L900.7,352.9 L901.7,352.4 L902.7,352.1 L903.7,352.4 L904.7,352.9 L905.6,351.8 L906.6,352.3 L907.6,352.0 L908.6,351.9 L909.6,351.8 L910.6,351.7 L911.6,352.0 L912.6,351.8 L913.6,351.3 L914.6,351.9 L915.6,351.0 L916.6,351.5 L917.6,351.3 L918.6,351.5 L919.6,351.2 L920.6,351.3 L921.6,350.9 L922.6,351.1 L923.6,350.8 L924.6,351.3 L925.6,350.3 L926.6,350.8 L927.6,350.5 L928.6,350.3 L929.6,350.0 L930.6,350.3 L931.6,349.6 L932.6,349.5 L933.6,350.1 L934.6,349.3 L935.6,350.1 L936.6,349.5 L937.5,349.6 L938.5,349.5 L939.5,349.5 L940.5,349.2 L941.5,349.1 L942.5,349.1 L943.5,349.4 L944.5,349.3 L945.5,349.3 L946.5,349.0 L947.5,348.7 L948.5,348.2 L949.5,348.8 L950.5,348.8 L951.5,348.4 L952.5,348.7 L953.5,348.7 L954.5,348.3 L955.5,348.5 L956.5,348.2 L957.5,347.5 L958.5,347.9 L959.5,347.8 L960.5,348.0 L961.5,347.5 L962.5,347.6 L963.5,347.4 L964.5,347.6 L965.5,347.6 L966.5,347.8 L967.5,347.7 L968.5,347.4 L969.5,347.4 L970.5,347.3 L971.5,347.2 L972.5,347.6 L973.5,346.3 L974.5,347.0 L975.5,347.0 L976.5,347.2 L977.5,346.5 L978.5,346.9 L979.5,347.0 L980.5,346.5 L981.5,346.0 L982.5,346.5 L983.5,346.2 L984.5,346.7 L985.5,346.2 L986.5,346.9 L987.5,346.4 L988.5,346.0 L989.5,346.1 L990.5,345.8 L991.5,346.2 L992.5,346.5 L993.5,346.0 L994.5,346.3 L995.5,345.7 L996.5,346.0 L997.5,346.5 L998.5,345.4 L999.4,346.1 L1000.4,346.1 L1001.4,345.1 L1002.4,345.2 L1003.4,345.3 L1004.4,345.8 L1005.4,345.4 L1006.4,345.4 L1007.4,345.7 L1008.4,345.4 L1009.4,345.4 L1010.4,345.2 L1011.4,345.6 L1012.4,345.0 L1013.4,345.7 L1014.4,345.1 L1015.4,344.9 L1016.4,345.3 L1017.4,345.2 L1018.4,344.5 L1019.4,345.1 L1020.4,344.6 L1021.4,344.7 L1022.4,345.2 L1023.4,344.7 L1024.4,345.0 L1025.4,344.8 L1026.4,345.4 L1027.4,344.8 L1028.4,344.4 L1029.4,344.4 L1030.4,344.5 L1031.4,344.8 L1032.4,344.7 L1033.4,345.0 L1034.4,344.7 L1035.4,344.7 L1036.4,344.7 L1037.4,344.6 L1038.4,344.7 L1039.4,344.8 L1040.4,344.8 L1041.4,344.4 L1042.4,344.0 L1043.4,344.2 L1044.4,344.6 L1045.4,343.7 L1046.4,344.3 L1047.4,344.6 L1048.4,344.2 L1049.4,344.1 L1050.4,344.9 L1051.4,344.8 L1052.4,344.3 L1053.4,344.7 L1054.4,344.7 L1055.4,344.0 L1056.4,345.1 L1057.4,344.0 L1058.4,344.2 L1059.4,344.0 L1060.4,344.3 L1061.4,343.9 L1062.4,344.3 L1063.4,344.6 L1064.4,344.3 L1065.5,344.2 L1066.5,344.7 L1067.5,344.0 L1068.5,344.6 L1069.5,344.2 L1070.5,344.3 L1071.5,344.3 L1072.5,344.3 L1073.5,344.2 L1074.5,344.0 L1075.5,344.1 L1076.5,344.4 L1077.5,344.2 L1078.5,343.9 L1079.5,344.1 L1080.5,344.1 L1081.5,344.3 L1082.5,344.3 L1083.5,344.3 L1084.5,344.1 L1085.5,344.3 L1086.5,343.9 L1087.5,343.5 L1088.5,344.3 L1089.5,343.8 L1090.5,344.0 L1091.5,343.9 L1092.5,344.4 L1093.5,343.8 L1094.5,344.2 L1095.5,343.9 L1096.5,343.7 L1097.5,343.5 L1098.5,344.1 L1099.5,344.0 L1100.5,344.1 L1101.5,344.4 L1102.5,343.9 L1103.5,344.0 L1104.5,343.9 L1105.5,344.0 L1106.4,343.9 L1107.4,343.9 L1108.4,344.9 L1109.4,343.8 L1110.4,344.6 L1111.4,344.8 L1112.4,344.8 L1113.4,344.7 L1114.4,345.0 L1115.4,345.1 L1116.4,345.1 L1117.3,345.5 L1118.3,345.6 L1119.3,345.8 L1120.3,346.4 L1121.3,346.1 L1122.2,346.8 L1123.1,346.9 L1124.0,347.7 L1124.9,348.1 L1125.7,348.7 L1126.4,349.0 L1127.1,349.8 L1127.8,350.5 L1128.4,351.6 L1129.0,352.6 L1129.5,353.6 L1129.9,354.0 L1130.3,355.1 L1130.6,355.6 L1130.8,356.4 L1131.0,357.7 L1131.2,358.8 L1131.4,359.5 L1131.5,360.4 L1131.7,362.1 L1131.9,362.7 L1132.1,363.4 L1132.3,365.6 L1132.5,365.9 L1132.8,366.7 L1133.1,368.0 L1133.5,368.5 L1134.0,370.0 L1134.6,369.9 L1135.3,370.6 L1136.2,371.5 L1137.1,371.7 L1138.1,372.4 L1139.1,371.6 L1140.1,371.8 L1141.1,372.1 L1142.1,372.2 L1143.1,372.3 L1144.1,372.1" stroke="#c7c3f2" stroke-width="3.0"/>
<path d="M707.8,11.2 L707.9,12.2 L708.0,13.2 L708.1,14.2 L708.2,15.2 L708.3,16.2 L708.4,17.2 L708.5,18.2 L708.6,19.2 L708.7,20.2 L708.9,21.2 L709.0,22.2 L709.1,23.2 L709.2,24.2 L709.3,25.2 L709.4,26.2 L709.5,27.2 L709.6,28.1 L709.7,29.2 L709.8,30.2 L710.0,31.2 L710.1,32.1 L710.2,33.2 L710.3,34.1 L710.4,35.1 L710.5,36.1 L710.6,37.1 L710.8,38.1 L710.9,39.1 L711.0,40.1 L711.1,41.1 L711.2,42.1 L711.4,43.1 L711.5,44.0 L711.6,45.1 L711.7,46.1 L711.8,47.0 L712.0,48.0 L712.1,49.1 L712.2,50.0 L712.3,51.0 L712.5,52.0 L712.6,53.0 L712.7,54.0 L712.8,54.9 L713.0,56.0 L713.1,57.0 L713.2,58.0 L713.4,58.8 L713.5,60.0 L713.6,60.9 L713.8,61.9 L713.9,63.0 L714.0,63.8 L714.2,65.0 L714.3,65.9 L714.4,67.0 L714.6,67.9 L714.7,68.8 L714.8,69.9 L715.0,70.9 L715.1,71.9 L715.2,72.9 L715.4,73.8 L715.5,74.9 L715.7,75.9 L715.8,76.8 L715.9,77.7 L716.1,78.7 L716.2,79.8 L716.4,80.8 L716.5,81.7 L716.6,82.6 L716.8,83.9 L716.9,84.6 L717.1,85.7 L717.2,86.6 L717.4,87.5 L717.5,88.7 L717.7,89.7 L717.8,90.8 L718.0,91.9 L718.1,92.6 L718.3,93.7 L718.4,94.7 L718.6,95.6 L718.7,96.5 L718.9,97.8 L719.0,98.5 L719.2,99.6 L719.3,100.5 L719.5,101.5 L719.6,102.5 L719.8,103.6 L719.9,104.7 L720.1,105.5 L720.2,106.3 L720.4,107.5 L720.6,108.3 L720.7,109.4 L720.9,110.6 L721.0,111.7 L721.2,112.5 L721.4,113.3 L721.5,114.5 L721.7,115.1 L721.8,116.3 L722.0,117.6 L722.2,118.5 L722.3,119.1 L722.5,120.1 L722.7,121.4 L722.8,122.3 L723.0,123.2 L723.2,124.3 L723.3,125.2 L723.5,126.0 L723.7,127.4 L723.8,128.1 L724.0,129.1 L724.2,130.0 L724.3,131.2 L724.5,132.0 L724.7,133.3 L724.8,134.1 L725.0,135.3 L725.2,136.0 L725.4,137.0 L725.5,137.7 L725.7,138.9 L725.9,140.2 L726.1,141.6 L726.2,141.8 L726.4,142.8 L726.6,144.1 L726.8,145.1 L726.9,145.8 L727.1,147.0 L727.3,147.6 L727.5,148.9 L727.7,150.1 L727.8,151.2 L728.0,151.8 L728.2,152.8 L728.4,153.9 L728.6,155.1 L728.7,155.9 L728.9,156.6 L729.1,157.9 L729.3,159.0 L729.5,159.6 L729.7,160.4 L729.8,161.8 L730.0,162.8 L730.2,163.9 L730.4,164.7 L730.6,165.5 L730.8,166.5 L731.0,167.4 L731.1,168.4 L731.3,169.5 L731.5,170.5 L731.7,171.8 L731.9,172.2 L732.1,173.5 L732.3,174.4 L732.5,175.8 L732.7,176.5 L732.9,177.4 L733.1,178.6 L733.2,179.4 L733.4,180.3 L733.6,181.8 L733.8,182.5 L734.0,183.8 L734.2,184.6 L734.4,185.5 L734.6,186.3 L734.8,187.0 L735.0,188.4 L735.2,189.2 L735.4,190.4 L735.6,191.2 L735.8,192.0 L736.0,192.9 L736.2,194.3 L736.4,195.5 L736.6,196.0 L736.8,197.2 L737.0,198.5 L737.2,198.8 L737.4,199.9 L737.6,200.7 L737.8,202.3 L738.0,203.0 L738.2,203.8 L738.4,204.4 L738.6,205.8 L738.8,207.2 L739.1,207.8 L739.3,208.7 L739.5,210.0 L739.7,210.4 L739.9,211.8 L740.1,212.9 L740.3,213.5 L740.5,214.5 L740.7,215.8 L740.9,216.6 L741.1,217.6 L741.4,218.7 L741.6,219.7 L741.8,220.3 L742.0,221.4 L742.2,222.7 L742.4,223.8 L742.6,224.9 L742.8,225.2 L743.1,226.8 L743.3,227.6 L743.5,228.4 L743.7,229.5 L743.9,230.6 L744.1,231.9 L744.3,232.0 L744.6,233.5 L744.8,234.2 L745.0,235.2 L745.2,236.6 L745.4,237.4 L745.7,237.9 L745.9,239.1 L746.1,240.2 L746.3,240.7 L746.6,242.3 L746.8,243.0 L747.0,244.1 L747.2,245.1 L747.5,246.5 L747.7,247.0 L747.9,247.8 L748.2,249.4 L748.4,249.7 L748.7,250.7 L748.9,251.4 L749.1,253.1 L749.4,253.8 L749.6,254.9 L749.9,255.7 L750.1,256.6 L750.4,257.4 L750.7,258.4 L750.9,259.7 L751.2,260.6 L751.4,262.0 L751.7,262.2 L752.0,263.3 L752.3,264.1 L752.5,265.7 L752.8,265.9 L753.1,267.5 L753.4,268.6 L753.7,269.1 L754.0,270.3 L754.3,270.5 L754.6,271.9 L754.9,272.5 L755.2,274.0 L755.5,274.9 L755.8,275.6 L756.1,277.1 L756.5,277.8 L756.8,278.5 L757.1,279.5 L757.5,280.1 L757.8,281.5 L758.1,283.1 L758.5,283.2 L758.8,284.5 L759.2,285.1 L759.6,286.4 L759.9,287.3 L760.3,288.0 L760.7,288.5 L761.1,289.8 L761.4,291.2 L761.8,291.7 L762.2,292.9 L762.6,293.5 L763.0,294.0 L763.5,295.5 L763.9,296.4 L764.3,297.1 L764.7,298.0 L765.2,299.1 L765.6,299.8 L766.0,300.9 L766.5,301.7 L766.9,301.9 L767.4,303.5 L767.9,304.2 L768.3,305.0 L768.8,306.3 L769.3,306.9 L769.8,308.1 L770.3,309.1 L770.8,309.7 L771.3,310.0 L771.9,311.1 L772.4,312.5 L772.9,313.0 L773.5,313.6 L774.1,314.7 L774.6,315.7 L775.2,316.4 L775.8,317.3 L776.4,317.7 L777.0,318.7 L777.6,319.5 L778.2,320.3 L778.9,320.5 L779.5,321.8 L780.2,322.2 L780.8,323.8 L781.5,324.6 L782.2,325.3 L782.9,325.8 L783.6,326.1 L784.3,327.2 L785.1,327.6 L785.8,328.5 L786.5,328.7 L787.3,329.4 L788.1,330.4 L788.8,331.4 L789.6,331.5 L790.4,332.8 L791.2,333.6 L792.0,333.0 L792.8,333.9 L793.7,334.2 L794.5,335.0 L795.3,335.4 L796.2,336.1 L797.0,337.0 L797.9,337.5 L798.7,337.8 L799.6,338.2 L800.5,338.7 L801.3,339.2 L802.2,339.8 L803.1,340.1 L804.0,340.7 L804.9,340.6 L805.8,341.7 L806.7,342.4 L807.6,342.3 L808.5,342.3 L809.5,343.5 L810.4,343.4 L811.3,342.9 L812.2,344.1 L813.2,344.7 L814.1,345.0 L815.1,345.6 L816.0,345.7 L817.0,345.9 L817.9,345.6 L818.9,346.1 L819.8,346.8 L820.8,347.2 L821.8,347.0 L822.7,347.3 L823.7,347.9 L824.7,347.4 L825.6,347.7 L826.6,348.4 L827.6,348.7 L828.6,348.7 L829.6,348.4 L830.5,349.3 L831.5,349.1 L832.5,349.8 L833.5,349.8 L834.5,350.0 L835.5,350.3 L836.5,350.1 L837.5,350.6 L838.5,350.9 L839.5,350.7 L840.4,351.1 L841.4,350.7 L842.4,351.2 L843.4,351.1 L844.4,350.8 L845.4,351.2 L846.4,351.1 L847.4,351.2 L848.4,351.4 L849.4,351.8 L850.4,351.4 L851.4,351.6 L852.4,351.2 L853.4,351.7 L854.4,352.0 L855.4,352.0 L856.4,351.9 L857.4,351.6 L858.4,351.5 L859.4,351.7 L860.4,351.4 L861.4,351.4 L862.4,352.1 L863.4,351.5 L864.4,352.3 L865.4,351.3 L866.4,351.8 L867.4,351.3 L868.4,351.7 L869.4,351.3 L870.4,351.6 L871.4,351.5 L872.4,351.4 L873.4,351.6 L874.4,351.9 L875.4,351.2 L876.4,351.6 L877.4,351.3 L878.4,351.2 L879.4,351.8 L880.4,350.5 L881.4,350.8 L882.4,350.4 L883.4,350.8 L884.4,350.8 L885.4,351.9 L886.4,350.8 L887.4,351.1 L888.4,350.9 L889.4,350.3 L890.4,350.5 L891.4,350.8 L892.4,350.2 L893.4,350.2 L894.4,350.2 L895.4,349.5 L896.4,349.6 L897.4,349.9 L898.4,349.8 L899.4,349.3 L900.4,349.4 L901.4,349.4 L902.4,349.3 L903.4,349.4 L904.4,349.2 L905.4,349.1 L906.4,348.5 L907.4,348.5 L908.4,348.9 L909.4,348.2 L910.4,348.7 L911.3,348.3 L912.3,348.1 L913.3,348.5 L914.3,348.0 L915.3,347.9 L916.3,347.8 L917.3,348.0 L918.3,348.7 L919.3,347.1 L920.3,347.7 L921.3,347.5 L922.3,347.8 L923.3,347.3 L924.3,346.6 L925.3,347.6 L926.3,346.8 L927.3,347.0 L928.3,346.6 L929.3,346.6 L930.3,346.7 L931.3,347.0 L932.3,346.9 L933.3,346.4 L934.3,346.6 L935.3,346.3 L936.3,346.3 L937.3,346.3 L938.3,346.3 L939.3,345.9 L940.3,345.9 L941.3,346.0 L942.3,345.8 L943.3,345.5 L944.3,346.2 L945.3,345.4 L946.3,345.7 L947.3,345.5 L948.3,345.7 L949.2,344.6 L950.2,345.8 L951.2,345.1 L952.2,344.7 L953.2,345.0 L954.2,345.6 L955.2,345.0 L956.2,344.4 L957.2,344.5 L958.2,345.0 L959.2,344.1 L960.2,344.4 L961.2,344.3 L962.2,345.0 L963.2,344.2 L964.2,344.6 L965.2,343.9 L966.2,343.8 L967.2,344.3 L968.2,344.1 L969.2,343.3 L970.2,344.0 L971.2,343.9 L972.2,343.5 L973.2,343.7 L974.2,343.6 L975.2,343.3 L976.2,343.2 L977.2,343.1 L978.2,343.2 L979.2,342.8 L980.2,343.1 L981.2,342.6 L982.2,343.1 L983.2,342.9 L984.2,342.6 L985.2,343.1 L986.2,343.4 L987.2,343.1 L988.2,342.3 L989.2,343.0 L990.2,342.6 L991.2,342.5 L992.2,342.3 L993.2,342.4 L994.2,342.8 L995.2,342.5 L996.2,342.1 L997.2,342.0 L998.2,342.0 L999.2,342.3 L1000.2,342.6 L1001.2,341.7 L1002.2,342.0 L1003.2,341.8 L1004.2,341.6 L1005.2,341.9 L1006.2,341.9 L1007.2,341.3 L1008.2,341.4 L1009.2,342.0 L1010.2,341.7 L1011.2,341.7 L1012.2,341.4 L1013.2,341.4 L1014.2,341.6 L1015.2,341.2 L1016.2,341.0 L1017.2,341.3 L1018.2,341.5 L1019.2,340.9 L1020.2,341.5 L1021.2,341.4 L1022.2,340.9 L1023.2,341.1 L1024.2,341.1 L1025.2,341.2 L1026.2,341.2 L1027.2,340.6 L1028.2,340.5 L1029.2,341.2 L1030.2,340.9 L1031.2,341.0 L1032.2,340.9 L1033.2,341.2 L1034.2,340.4 L1035.2,341.1 L1036.2,340.5 L1037.2,340.9 L1038.2,341.1 L1039.2,340.2 L1040.2,340.7 L1041.2,340.5 L1042.2,340.5 L1043.2,340.6 L1044.2,340.2 L1045.2,340.2 L1046.2,340.7 L1047.2,340.7 L1048.2,340.3 L1049.2,340.0 L1050.2,341.1 L1051.2,340.7 L1052.2,340.5 L1053.2,340.1 L1054.2,340.2 L1055.2,340.4 L1056.2,340.0 L1057.2,340.8 L1058.2,340.4 L1059.2,340.4 L1060.2,340.0 L1061.2,340.0 L1062.2,340.0 L1063.2,340.4 L1064.2,340.2 L1065.2,340.2 L1066.2,340.3 L1067.2,340.3 L1068.2,340.7 L1069.2,340.2 L1070.2,339.9 L1071.2,340.2 L1072.2,340.7 L1073.2,340.1 L1074.2,340.3 L1075.2,340.1 L1076.2,340.4 L1077.2,340.3 L1078.2,340.0 L1079.2,340.2 L1080.2,340.5 L1081.2,340.6 L1082.2,340.5 L1083.2,340.5 L1084.2,340.2 L1085.2,340.2 L1086.2,340.6 L1087.2,340.0 L1088.2,340.3 L1089.2,339.7 L1090.2,340.1 L1091.2,340.0 L1092.2,339.8 L1093.2,340.3 L1094.2,339.9 L1095.2,339.9 L1096.2,339.9 L1097.2,339.7 L1098.2,340.3 L1099.2,339.7 L1100.2,339.9 L1101.2,339.4 L1102.2,339.7 L1103.2,339.7 L1104.2,339.8 L1105.2,339.8 L1106.2,340.1 L1107.2,340.6 L1108.2,340.2 L1109.2,340.3 L1110.2,340.4 L1111.2,341.5 L1112.2,341.4 L1113.2,341.2 L1114.2,341.5 L1115.1,341.2 L1116.1,341.6 L1117.1,341.9 L1118.1,342.1 L1119.0,342.1 L1120.0,342.4 L1120.9,343.2 L1121.8,343.5 L1122.7,343.3 L1123.6,344.4 L1124.4,345.3 L1125.2,345.3 L1126.0,346.2 L1126.7,346.4 L1127.4,347.8 L1128.0,348.1 L1128.6,348.8 L1129.1,349.9 L1129.6,351.6 L1130.0,351.6 L1130.3,352.4 L1130.6,353.9 L1130.8,354.8 L1131.0,356.2 L1131.2,356.3 L1131.4,357.2 L1131.5,358.6 L1131.7,359.8 L1131.9,360.7 L1132.1,361.9 L1132.2,362.2 L1132.4,363.3 L1132.7,364.5 L1132.9,365.8 L1133.2,366.6 L1133.7,367.3 L1134.1,368.0 L1134.7,369.3 L1135.4,370.1 L1136.2,371.2 L1137.1,370.7 L1138.1,371.4 L1139.1,370.6 L1140.1,370.8 L1141.1,370.8 L1142.1,370.8 L1143.1,370.7 L1144.1,370.8" stroke="#b5a26c" stroke-width="3.0"/>
<path d="M708.3,11.2 L708.3,12.2 L708.4,13.2 L708.5,14.2 L708.6,15.2 L708.7,16.2 L708.8,17.2 L708.9,18.2 L709.0,19.2 L709.1,20.2 L709.2,21.2 L709.4,22.2 L709.5,23.2 L709.6,24.2 L709.7,25.2 L709.8,26.2 L709.9,27.1 L710.0,28.1 L710.1,29.2 L710.2,30.2 L710.4,31.1 L710.5,32.1 L710.6,33.2 L710.7,34.1 L710.8,35.1 L711.0,36.1 L711.1,37.1 L711.2,38.1 L711.3,39.1 L711.5,40.1 L711.6,41.0 L711.7,42.0 L711.9,43.1 L712.0,44.0 L712.1,45.1 L712.3,46.0 L712.4,47.0 L712.5,48.0 L712.7,48.9 L712.8,49.9 L713.0,51.0 L713.1,52.0 L713.2,52.9 L713.4,54.0 L713.5,55.0 L713.7,56.0 L713.8,56.9 L714.0,58.0 L714.1,59.0 L714.3,59.9 L714.4,61.0 L714.6,61.7 L714.7,63.0 L714.9,63.9 L715.0,64.7 L715.2,65.9 L715.3,66.9 L715.5,67.9 L715.6,68.9 L715.8,69.8 L716.0,70.7 L716.1,71.7 L716.3,72.8 L716.4,73.8 L716.6,74.7 L716.8,75.7 L716.9,76.8 L717.1,77.7 L717.3,78.9 L717.4,79.9 L717.6,80.6 L717.7,81.6 L717.9,82.5 L718.1,83.5 L718.3,84.7 L718.4,85.5 L718.6,86.5 L718.8,87.6 L718.9,88.7 L719.1,89.5 L719.3,90.5 L719.4,91.6 L719.6,92.6 L719.8,93.6 L720.0,94.6 L720.1,95.4 L720.3,96.5 L720.5,97.4 L720.7,98.6 L720.8,99.5 L721.0,100.3 L721.2,101.6 L721.4,102.2 L721.6,103.5 L721.7,104.4 L721.9,105.2 L722.1,106.2 L722.3,107.3 L722.5,108.3 L722.6,109.2 L722.8,110.3 L723.0,111.0 L723.2,112.2 L723.4,113.2 L723.6,113.9 L723.7,115.2 L723.9,116.0 L724.1,116.8 L724.3,118.0 L724.5,119.1 L724.7,120.2 L724.8,121.0 L725.0,122.3 L725.2,123.3 L725.4,124.2 L725.6,125.2 L725.8,126.1 L726.0,126.9 L726.2,128.1 L726.3,129.1 L726.5,130.0 L726.7,130.9 L726.9,131.6 L727.1,133.0 L727.3,133.9 L727.5,134.6 L727.7,135.9 L727.8,137.0 L728.0,137.8 L728.2,138.9 L728.4,139.9 L728.6,140.5 L728.8,141.7 L729.0,142.8 L729.2,143.9 L729.3,145.0 L729.5,145.3 L729.7,146.6 L729.9,147.8 L730.1,148.9 L730.3,150.0 L730.5,150.4 L730.7,151.5 L730.9,152.3 L731.0,153.7 L731.2,154.2 L731.4,155.8 L731.6,156.7 L731.8,157.6 L732.0,157.9 L732.2,159.3 L732.4,160.6 L732.5,161.1 L732.7,162.3 L732.9,163.3 L733.1,164.6 L733.3,165.4 L733.5,166.4 L733.7,167.2 L733.8,168.3 L734.0,169.2 L734.2,170.4 L734.4,171.2 L734.6,172.5 L734.8,172.8 L734.9,174.5 L735.1,175.1 L735.3,176.5 L735.5,177.2 L735.7,178.4 L735.9,179.5 L736.0,180.0 L736.2,181.1 L736.4,182.0 L736.6,183.1 L736.8,183.6 L736.9,185.0 L737.1,185.9 L737.3,186.8 L737.5,187.9 L737.7,188.5 L737.8,190.4 L738.0,191.1 L738.2,192.5 L738.4,192.7 L738.5,193.6 L738.7,195.0 L738.9,195.4 L739.1,196.9 L739.2,197.6 L739.4,198.7 L739.6,199.9 L739.8,200.8 L739.9,202.3 L740.1,203.0 L740.3,203.4 L740.5,205.0 L740.6,205.3 L740.8,206.7 L741.0,207.3 L741.2,208.4 L741.4,210.1 L741.5,210.5 L741.7,211.4 L741.9,212.5 L742.1,213.5 L742.3,215.0 L742.5,215.2 L742.6,216.2 L742.8,217.7 L743.0,218.1 L743.2,219.4 L743.4,220.8 L743.6,221.5 L743.8,222.3 L744.0,223.2 L744.2,224.2 L744.4,225.2 L744.6,226.4 L744.8,227.7 L745.0,228.6 L745.2,229.2 L745.4,230.1 L745.6,231.5 L745.8,231.7 L746.0,233.1 L746.2,234.1 L746.4,234.9 L746.7,235.9 L746.9,237.3 L747.1,237.6 L747.3,238.8 L747.6,239.9 L747.8,241.1 L748.0,241.6 L748.3,243.3 L748.5,243.9 L748.7,244.9 L749.0,245.8 L749.2,246.7 L749.5,247.6 L749.7,249.2 L750.0,249.8 L750.3,250.7 L750.5,252.0 L750.8,252.5 L751.1,253.8 L751.3,254.6 L751.6,255.3 L751.9,256.8 L752.2,257.0 L752.5,258.6 L752.8,259.1 L753.0,260.5 L753.3,261.7 L753.6,262.4 L754.0,263.0 L754.3,264.2 L754.6,265.0 L754.9,265.7 L755.2,266.7 L755.6,268.0 L755.9,269.1 L756.2,269.3 L756.6,270.8 L756.9,271.9 L757.3,272.7 L757.6,273.3 L758.0,274.9 L758.3,275.1 L758.7,276.6 L759.1,277.8 L759.4,277.7 L759.8,279.3 L760.2,280.2 L760.6,281.1 L761.0,281.7 L761.4,282.8 L761.8,283.4 L762.2,284.7 L762.6,285.8 L763.1,286.3 L763.5,287.2 L763.9,288.2 L764.4,289.2 L764.8,290.1 L765.3,291.0 L765.7,291.9 L766.2,292.4 L766.6,292.9 L767.1,294.7 L767.6,295.9 L768.1,295.9 L768.6,297.0 L769.1,298.2 L769.6,299.2 L770.1,300.0 L770.6,301.0 L771.1,301.5 L771.6,302.5 L772.2,303.3 L772.7,303.9 L773.2,305.3 L773.8,305.9 L774.3,306.9 L774.9,307.3 L775.5,308.5 L776.0,308.7 L776.6,310.0 L777.2,309.9 L777.8,311.2 L778.4,312.5 L779.0,313.0 L779.6,313.9 L780.2,314.2 L780.9,315.9 L781.5,316.4 L782.1,317.0 L782.8,317.9 L783.4,318.6 L784.1,319.7 L784.8,320.1 L785.4,320.3 L786.1,321.4 L786.8,322.6 L787.5,323.1 L788.2,323.5 L788.9,324.5 L789.7,325.1 L790.4,325.9 L791.1,325.9 L791.9,326.8 L792.6,327.9 L793.4,328.3 L794.1,329.2 L794.9,330.3 L795.7,330.2 L796.5,331.0 L797.3,331.4 L798.1,332.0 L798.9,332.7 L799.7,332.9 L800.5,333.3 L801.3,334.9 L802.2,335.0 L803.0,335.9 L803.9,336.1 L804.7,336.6 L805.6,337.3 L806.5,337.8 L807.3,337.7 L808.2,338.9 L809.1,338.7 L810.0,339.5 L810.9,340.6 L811.8,340.3 L812.7,341.2 L813.6,341.0 L814.6,341.7 L815.5,341.9 L816.4,342.4 L817.4,342.4 L818.3,342.7 L819.2,343.4 L820.2,343.2 L821.1,343.7 L822.1,344.5 L823.0,344.4 L824.0,344.6 L825.0,344.8 L825.9,345.4 L826.9,345.6 L827.9,346.0 L828.8,346.1 L829.8,346.9 L830.8,346.5 L831.8,346.2 L832.7,347.1 L833.7,347.2 L834.7,347.4 L835.7,347.1 L836.7,348.1 L837.7,347.9 L838.7,348.0 L839.6,347.7 L840.6,348.5 L841.6,348.5 L842.6,349.0 L843.6,348.6 L844.6,348.5 L845.6,348.9 L846.6,348.7 L847.6,349.2 L848.6,348.8 L849.6,349.2 L850.6,349.2 L851.6,349.3 L852.6,349.2 L853.6,349.2 L854.6,349.5 L855.6,349.3 L856.6,349.6 L857.6,349.5 L858.6,348.9 L859.6,349.5 L860.6,350.0 L861.6,349.7 L862.6,349.7 L863.6,349.7 L864.6,349.4 L865.6,349.1 L866.6,349.7 L867.6,349.7 L868.6,349.6 L869.6,349.5 L870.6,349.4 L871.6,349.2 L872.6,349.3 L873.6,349.1 L874.6,349.2 L875.6,348.7 L876.6,348.7 L877.6,349.0 L878.6,348.7 L879.6,348.0 L880.6,348.6 L881.6,347.9 L882.6,349.0 L883.6,348.6 L884.6,348.4 L885.6,348.0 L886.6,347.7 L887.6,347.9 L888.6,347.9 L889.6,347.5 L890.6,347.7 L891.6,347.7 L892.6,347.6 L893.6,347.0 L894.6,346.6 L895.6,347.1 L896.5,346.8 L897.5,347.0 L898.5,347.2 L899.5,347.1 L900.5,346.6 L901.5,346.7 L902.5,346.7 L903.5,346.1 L904.5,346.1 L905.5,346.1 L906.5,345.7 L907.5,345.5 L908.5,345.3 L909.5,345.4 L910.5,345.1 L911.5,345.4 L912.5,344.9 L913.4,345.3 L914.4,345.1 L915.4,344.3 L916.4,344.9 L917.4,344.3 L918.4,344.7 L919.4,344.4 L920.4,344.1 L921.4,344.2 L922.4,343.7 L923.4,343.9 L924.4,343.8 L925.4,343.5 L926.4,343.5 L927.4,343.0 L928.4,343.4 L929.4,342.7 L930.4,343.2 L931.4,343.0 L932.3,343.0 L933.3,342.5 L934.3,343.4 L935.3,342.4 L936.3,342.4 L937.3,342.0 L938.3,342.5 L939.3,341.9 L940.3,342.2 L941.3,341.5 L942.3,341.8 L943.3,341.5 L944.3,341.8 L945.3,341.3 L946.3,341.0 L947.3,341.3 L948.3,340.7 L949.3,340.7 L950.3,341.1 L951.3,340.3 L952.3,340.9 L953.3,340.5 L954.3,340.2 L955.3,340.5 L956.3,340.5 L957.3,340.1 L958.2,340.1 L959.2,340.3 L960.2,340.2 L961.2,339.8 L962.2,339.5 L963.2,339.4 L964.2,339.4 L965.2,339.7 L966.2,339.6 L967.2,339.4 L968.2,339.6 L969.2,339.1 L970.2,338.9 L971.2,338.9 L972.2,339.4 L973.2,338.2 L974.2,338.8 L975.2,338.8 L976.2,338.6 L977.2,339.1 L978.2,338.7 L979.2,338.5 L980.2,338.0 L981.2,338.3 L982.2,338.0 L983.2,338.0 L984.2,338.0 L985.2,337.7 L986.2,338.0 L987.2,338.2 L988.2,337.9 L989.2,337.6 L990.2,336.9 L991.2,337.7 L992.2,337.7 L993.2,337.2 L994.2,337.1 L995.2,337.3 L996.2,336.8 L997.2,337.2 L998.2,336.6 L999.2,336.6 L1000.2,336.8 L1001.2,336.3 L1002.2,336.7 L1003.2,336.8 L1004.2,336.2 L1005.2,336.8 L1006.2,336.3 L1007.2,336.5 L1008.2,336.4 L1009.2,336.1 L1010.2,336.1 L1011.2,335.7 L1012.2,335.9 L1013.2,335.8 L1014.2,336.5 L1015.2,336.2 L1016.2,335.5 L1017.2,336.1 L1018.2,335.9 L1019.2,335.6 L1020.2,335.8 L1021.2,335.9 L1022.2,335.5 L1023.2,335.5 L1024.2,335.6 L1025.2,335.2 L1026.2,335.5 L1027.2,335.4 L1028.2,335.2 L1029.2,335.1 L1030.2,335.4 L1031.2,335.5 L1032.2,335.3 L1033.2,334.9 L1034.2,335.3 L1035.2,335.1 L1036.2,335.2 L1037.2,335.4 L1038.2,334.7 L1039.2,334.9 L1040.2,334.8 L1041.2,334.7 L1042.2,335.4 L1043.2,335.1 L1044.2,334.3 L1045.2,334.9 L1046.2,334.6 L1047.2,335.1 L1048.2,334.7 L1049.2,334.6 L1050.2,334.7 L1051.2,334.8 L1052.2,334.6 L1053.2,334.5 L1054.2,334.6 L1055.2,334.7 L1056.2,334.2 L1057.2,334.5 L1058.2,334.5 L1059.2,334.4 L1060.2,334.7 L1061.2,334.1 L1062.2,334.4 L1063.2,334.2 L1064.2,334.6 L1065.2,334.3 L1066.2,334.5 L1067.2,334.5 L1068.2,334.0 L1069.2,334.6 L1070.2,334.2 L1071.2,334.4 L1072.2,334.4 L1073.2,334.6 L1074.2,334.6 L1075.2,334.9 L1076.2,334.5 L1077.2,334.3 L1078.2,334.3 L1079.2,334.6 L1080.2,334.9 L1081.2,334.5 L1082.2,334.3 L1083.2,334.5 L1084.2,334.5 L1085.2,334.5 L1086.2,334.3 L1087.2,333.8 L1088.2,334.3 L1089.2,334.8 L1090.2,334.5 L1091.2,333.8 L1092.2,334.4 L1093.2,333.8 L1094.2,334.9 L1095.2,334.3 L1096.2,333.9 L1097.2,334.4 L1098.2,333.9 L1099.2,334.2 L1100.2,334.1 L1101.2,333.7 L1102.2,334.3 L1103.2,333.7 L1104.2,334.5 L1105.2,334.3 L1106.2,334.1 L1107.2,334.0 L1108.2,335.1 L1109.2,335.2 L1110.2,334.7 L1111.2,335.7 L1112.2,335.4 L1113.1,335.5 L1114.1,335.8 L1115.1,335.9 L1116.1,336.6 L1117.1,336.4 L1118.0,336.1 L1119.0,337.5 L1120.0,337.4 L1120.9,337.2 L1121.8,337.8 L1122.7,338.1 L1123.6,338.9 L1124.4,339.6 L1125.1,340.2 L1125.8,340.7 L1126.4,341.4 L1127.0,342.7 L1127.6,343.3 L1128.1,344.8 L1128.5,344.8 L1128.9,346.2 L1129.2,347.0 L1129.5,347.7 L1129.7,349.2 L1130.0,349.9 L1130.3,350.6 L1130.5,351.7 L1130.7,353.0 L1131.0,353.4 L1131.2,355.1 L1131.4,355.9 L1131.6,356.6 L1131.8,358.0 L1132.0,359.1 L1132.2,359.8 L1132.3,360.6 L1132.5,362.1 L1132.7,363.0 L1132.8,363.3 L1133.0,364.5 L1133.1,365.5 L1133.3,366.4 L1133.5,367.1 L1133.7,368.7 L1134.0,369.5 L1134.4,370.4 L1135.0,371.5 L1135.7,371.7 L1136.5,372.5 L1137.3,373.1 L1138.3,373.3 L1139.2,373.7 L1140.2,374.1 L1141.2,373.9 L1142.2,374.1 L1143.2,373.2 L1144.1,373.2" stroke="#f97c82" stroke-width="3.0"/>
<path d="M709.1,11.2 L709.2,12.2 L709.3,13.2 L709.4,14.2 L709.5,15.2 L709.7,16.2 L709.8,17.2 L709.9,18.2 L710.0,19.2 L710.1,20.2 L710.2,21.1 L710.4,22.1 L710.5,23.1 L710.6,24.1 L710.7,25.1 L710.8,26.1 L711.0,27.1 L711.1,28.1 L711.2,29.1 L711.3,30.1 L711.5,31.0 L711.6,32.1 L711.7,33.1 L711.8,34.0 L712.0,35.0 L712.1,36.0 L712.2,37.0 L712.3,38.1 L712.5,39.0 L712.6,40.0 L712.7,41.0 L712.9,42.0 L713.0,43.0 L713.1,43.9 L713.3,44.9 L713.4,45.9 L713.5,47.0 L713.7,47.9 L713.8,49.0 L713.9,49.9 L714.1,50.9 L714.2,51.9 L714.4,52.9 L714.5,53.8 L714.6,54.9 L714.8,55.9 L714.9,56.8 L715.1,57.8 L715.2,58.9 L715.3,59.9 L715.5,60.8 L715.6,61.8 L715.8,62.9 L715.9,63.7 L716.1,64.8 L716.2,65.7 L716.4,66.7 L716.5,67.7 L716.7,68.7 L716.8,69.7 L717.0,70.6 L717.1,71.6 L717.3,72.6 L717.4,73.7 L717.6,74.6 L717.7,75.6 L717.9,76.7 L718.0,77.7 L718.2,78.5 L718.3,79.5 L718.5,80.6 L718.7,81.6 L718.8,82.5 L719.0,83.6 L719.1,84.5 L719.3,85.6 L719.4,86.4 L719.6,87.6 L719.8,88.5 L719.9,89.4 L720.1,90.6 L720.3,91.5 L720.4,92.3 L720.6,93.6 L720.7,94.3 L720.9,95.3 L721.1,96.3 L721.2,97.5 L721.4,98.4 L721.6,99.3 L721.8,100.5 L721.9,101.4 L722.1,102.5 L722.3,103.6 L722.4,104.3 L722.6,104.9 L722.8,106.2 L723.0,107.1 L723.1,108.2 L723.3,109.2 L723.5,110.0 L723.7,111.0 L723.8,112.1 L724.0,113.1 L724.2,113.7 L724.4,115.2 L724.5,116.1 L724.7,117.1 L724.9,118.1 L725.1,118.9 L725.3,120.0 L725.4,121.2 L725.6,122.1 L725.8,123.0 L726.0,123.9 L726.2,124.8 L726.4,126.1 L726.5,127.0 L726.7,127.8 L726.9,128.5 L727.1,129.7 L727.3,130.5 L727.5,132.0 L727.7,132.8 L727.9,133.6 L728.0,134.7 L728.2,136.2 L728.4,136.9 L728.6,137.4 L728.8,138.7 L729.0,139.4 L729.2,140.3 L729.4,141.7 L729.6,143.1 L729.8,143.9 L730.0,144.6 L730.2,145.5 L730.4,146.6 L730.6,147.7 L730.8,148.2 L731.0,149.1 L731.2,150.9 L731.4,151.5 L731.6,152.8 L731.8,153.4 L732.0,154.7 L732.2,155.2 L732.4,156.4 L732.6,157.7 L732.8,158.5 L733.0,159.2 L733.2,160.5 L733.4,161.1 L733.6,161.9 L733.8,163.3 L734.0,164.5 L734.2,165.3 L734.4,165.8 L734.6,167.3 L734.9,168.2 L735.1,168.9 L735.3,169.4 L735.5,171.3 L735.7,172.2 L735.9,173.1 L736.1,173.5 L736.3,174.5 L736.5,176.2 L736.8,177.1 L737.0,178.0 L737.2,178.7 L737.4,179.9 L737.6,180.6 L737.8,181.7 L738.1,182.5 L738.3,183.8 L738.5,184.6 L738.7,185.9 L738.9,186.8 L739.2,187.4 L739.4,189.1 L739.6,189.2 L739.8,190.7 L740.0,191.8 L740.3,192.9 L740.5,192.8 L740.7,194.7 L740.9,195.8 L741.2,196.8 L741.4,196.7 L741.6,198.1 L741.8,199.3 L742.1,200.1 L742.3,201.6 L742.5,202.0 L742.7,203.6 L743.0,204.3 L743.2,204.7 L743.4,205.8 L743.7,206.9 L743.9,208.1 L744.1,209.3 L744.4,210.0 L744.6,211.3 L744.8,211.5 L745.1,212.0 L745.3,213.8 L745.5,215.0 L745.8,215.7 L746.0,216.5 L746.2,217.9 L746.5,219.3 L746.7,219.7 L746.9,220.5 L747.2,221.4 L747.4,223.2 L747.6,223.6 L747.9,224.8 L748.1,225.9 L748.4,226.9 L748.6,227.2 L748.8,228.8 L749.1,229.7 L749.3,230.6 L749.6,231.7 L749.8,232.2 L750.1,233.3 L750.3,234.1 L750.5,235.5 L750.8,236.0 L751.0,237.3 L751.3,237.8 L751.5,239.1 L751.8,240.0 L752.0,241.0 L752.3,242.1 L752.5,243.0 L752.8,243.9 L753.0,244.3 L753.3,246.2 L753.6,246.7 L753.8,247.8 L754.1,248.6 L754.4,250.1 L754.6,250.5 L754.9,251.8 L755.2,253.0 L755.5,254.1 L755.7,254.9 L756.0,255.7 L756.3,256.1 L756.6,257.8 L756.9,258.8 L757.2,259.6 L757.5,260.6 L757.8,261.3 L758.1,262.1 L758.4,263.5 L758.7,264.5 L759.0,264.8 L759.3,266.3 L759.7,267.0 L760.0,268.2 L760.3,268.9 L760.7,270.1 L761.0,271.0 L761.3,271.9 L761.7,272.2 L762.1,273.8 L762.4,274.5 L762.8,275.1 L763.1,276.6 L763.5,276.9 L763.9,278.5 L764.3,279.6 L764.7,279.9 L765.1,281.2 L765.5,282.0 L765.9,283.0 L766.3,283.3 L766.7,284.8 L767.1,285.6 L767.5,286.7 L768.0,287.3 L768.4,288.6 L768.9,289.2 L769.3,290.2 L769.8,291.3 L770.3,291.8 L770.7,293.0 L771.2,293.6 L771.7,294.6 L772.2,295.1 L772.7,296.4 L773.2,297.4 L773.7,297.8 L774.2,299.0 L774.8,299.7 L775.3,300.1 L775.9,301.4 L776.4,302.5 L777.0,302.8 L777.5,303.2 L778.1,304.6 L778.7,305.2 L779.3,306.7 L779.9,307.0 L780.5,307.8 L781.1,308.4 L781.7,309.4 L782.4,310.0 L783.0,310.6 L783.6,311.6 L784.3,312.2 L784.9,313.6 L785.6,313.6 L786.3,314.6 L787.0,315.2 L787.6,315.7 L788.3,317.3 L789.0,316.9 L789.7,318.7 L790.5,318.5 L791.2,319.7 L791.9,321.0 L792.7,320.4 L793.4,321.3 L794.1,322.7 L794.9,323.0 L795.7,323.5 L796.4,324.3 L797.2,324.6 L798.0,325.6 L798.8,326.6 L799.6,326.6 L800.4,327.4 L801.2,328.2 L802.0,329.1 L802.9,328.9 L803.7,329.7 L804.5,330.0 L805.4,330.5 L806.2,331.1 L807.1,331.5 L808.0,331.7 L808.8,332.1 L809.7,332.9 L810.6,333.7 L811.5,334.4 L812.4,334.4 L813.3,334.9 L814.2,335.6 L815.1,336.0 L816.0,336.2 L817.0,336.6 L817.9,337.5 L818.8,337.2 L819.7,337.5 L820.7,337.5 L821.6,338.5 L822.6,338.6 L823.5,339.5 L824.5,339.2 L825.4,339.8 L826.4,340.1 L827.4,340.6 L828.3,339.9 L829.3,341.0 L830.3,340.8 L831.3,341.0 L832.2,341.2 L833.2,341.3 L834.2,341.5 L835.2,341.2 L836.2,342.2 L837.1,342.2 L838.1,342.1 L839.1,342.5 L840.1,343.3 L841.1,342.9 L842.1,342.8 L843.1,343.5 L844.1,342.9 L845.1,343.2 L846.1,343.2 L847.1,343.4 L848.1,343.7 L849.1,343.8 L850.1,343.4 L851.1,343.7 L852.1,343.8 L853.1,343.7 L854.1,343.9 L855.1,343.7 L856.1,343.7 L857.1,344.0 L858.1,343.7 L859.1,344.1 L860.1,344.0 L861.1,343.7 L862.1,343.8 L863.1,343.9 L864.1,344.0 L865.1,344.0 L866.1,343.9 L867.1,343.7 L868.1,344.3 L869.1,344.1 L870.1,343.9 L871.1,344.1 L872.1,343.9 L873.0,343.6 L874.0,343.7 L875.0,344.4 L876.0,343.8 L877.0,343.8 L878.0,343.3 L879.0,343.5 L880.0,343.9 L881.0,343.3 L882.0,343.4 L883.0,343.4 L884.0,343.1 L885.0,343.3 L886.0,342.8 L887.0,342.8 L888.0,342.4 L889.0,343.3 L890.0,342.5 L891.0,342.3 L892.0,342.6 L893.0,341.9 L894.0,342.0 L895.0,341.6 L896.0,341.8 L897.0,341.5 L898.0,341.7 L898.9,341.4 L899.9,341.1 L900.9,341.1 L901.9,341.0 L902.9,340.8 L903.9,341.1 L904.9,340.9 L905.9,340.6 L906.9,340.1 L907.9,340.4 L908.9,339.8 L909.9,340.0 L910.8,339.9 L911.8,339.5 L912.8,339.3 L913.8,339.2 L914.8,339.9 L915.8,339.1 L916.8,338.9 L917.8,339.1 L918.8,338.8 L919.8,338.9 L920.7,338.1 L921.7,337.9 L922.7,339.1 L923.7,337.9 L924.7,337.7 L925.7,337.7 L926.7,337.8 L927.7,337.0 L928.6,337.3 L929.6,337.0 L930.6,337.1 L931.6,336.8 L932.6,336.4 L933.6,336.2 L934.6,335.5 L935.6,336.4 L936.6,335.5 L937.5,335.7 L938.5,336.1 L939.5,335.3 L940.5,335.5 L941.5,335.1 L942.5,335.2 L943.5,334.8 L944.5,334.5 L945.4,334.9 L946.4,334.3 L947.4,333.8 L948.4,333.9 L949.4,334.0 L950.4,333.4 L951.4,333.8 L952.4,333.6 L953.3,333.9 L954.3,332.9 L955.3,333.2 L956.3,332.3 L957.3,332.5 L958.3,332.5 L959.3,332.5 L960.3,332.2 L961.3,332.0 L962.2,331.8 L963.2,331.7 L964.2,331.7 L965.2,331.7 L966.2,331.5 L967.2,331.5 L968.2,331.4 L969.2,330.4 L970.2,330.7 L971.2,330.6 L972.1,330.4 L973.1,330.7 L974.1,330.5 L975.1,330.1 L976.1,330.1 L977.1,330.3 L978.1,329.7 L979.1,329.5 L980.1,329.8 L981.1,329.5 L982.1,329.7 L983.1,329.2 L984.1,329.2 L985.0,328.7 L986.0,328.5 L987.0,328.7 L988.0,327.8 L989.0,328.6 L990.0,328.6 L991.0,328.2 L992.0,328.0 L993.0,328.3 L994.0,327.9 L995.0,328.1 L996.0,328.3 L997.0,327.8 L998.0,327.7 L999.0,327.5 L1000.0,327.3 L1001.0,327.2 L1001.9,327.1 L1002.9,327.3 L1003.9,326.4 L1004.9,326.7 L1005.9,326.9 L1006.9,326.3 L1007.9,326.5 L1008.9,326.2 L1009.9,326.4 L1010.9,326.5 L1011.9,326.6 L1012.9,326.2 L1013.9,325.8 L1014.9,326.0 L1015.9,326.0 L1016.9,326.1 L1017.9,325.0 L1018.9,325.7 L1019.9,325.0 L1020.9,325.6 L1021.9,325.5 L1022.9,325.4 L1023.9,325.5 L1024.9,325.2 L1025.9,324.9 L1026.9,325.1 L1027.9,325.3 L1028.9,324.8 L1029.9,324.8 L1030.9,324.4 L1031.9,325.0 L1032.9,324.5 L1033.8,324.3 L1034.8,324.4 L1035.8,324.2 L1036.8,324.3 L1037.8,324.7 L1038.8,324.5 L1039.8,324.6 L1040.8,324.6 L1041.8,323.9 L1042.8,324.2 L1043.8,324.5 L1044.8,324.7 L1045.8,323.6 L1046.8,323.5 L1047.8,324.0 L1048.8,323.8 L1049.8,323.5 L1050.8,323.9 L1051.8,323.5 L1052.8,323.1 L1053.8,323.7 L1054.8,323.7 L1055.8,323.8 L1056.8,323.9 L1057.8,323.6 L1058.8,323.5 L1059.8,323.3 L1060.8,323.0 L1061.8,323.4 L1062.8,323.8 L1063.8,323.6 L1064.8,324.0 L1065.8,323.4 L1066.8,322.9 L1067.8,323.6 L1068.8,323.7 L1069.8,323.1 L1070.8,322.9 L1071.8,323.4 L1072.8,323.6 L1073.8,323.1 L1074.8,323.3 L1075.8,323.1 L1076.8,323.0 L1077.8,323.0 L1078.8,323.4 L1079.8,323.3 L1080.8,323.2 L1081.8,322.7 L1082.8,323.9 L1083.8,323.2 L1084.8,323.4 L1085.8,323.1 L1086.8,323.6 L1087.8,323.1 L1088.8,323.5 L1089.8,323.5 L1090.8,323.8 L1091.8,323.2 L1092.8,323.3 L1093.8,323.5 L1094.8,324.1 L1095.8,323.1 L1096.8,323.6 L1097.8,323.3 L1098.8,323.5 L1099.8,323.6 L1100.8,323.4 L1101.8,323.5 L1102.8,323.5 L1103.8,323.2 L1104.8,323.4 L1105.8,323.0 L1106.8,323.5 L1107.8,323.5 L1108.8,323.8 L1109.8,324.3 L1110.8,324.4 L1111.7,324.6 L1112.7,325.0 L1113.7,324.2 L1114.7,325.2 L1115.7,325.3 L1116.6,325.5 L1117.6,325.4 L1118.6,326.2 L1119.5,326.6 L1120.5,326.9 L1121.4,326.9 L1122.3,327.5 L1123.2,328.1 L1124.1,328.9 L1124.8,329.4 L1125.5,329.7 L1126.2,330.5 L1126.8,331.3 L1127.3,332.2 L1127.7,332.9 L1128.0,334.2 L1128.3,334.8 L1128.6,335.7 L1128.8,337.0 L1129.0,337.7 L1129.2,338.8 L1129.5,339.2 L1129.7,341.0 L1129.9,341.8 L1130.1,342.7 L1130.3,343.9 L1130.5,344.8 L1130.7,345.5 L1130.9,347.3 L1131.0,347.5 L1131.2,348.9 L1131.4,350.2 L1131.5,350.4 L1131.7,351.6 L1131.8,352.4 L1132.0,353.9 L1132.1,354.5 L1132.3,355.2 L1132.5,356.9 L1132.6,357.8 L1132.8,358.3 L1133.0,359.8 L1133.2,360.5 L1133.4,362.2 L1133.6,362.9 L1133.8,363.3 L1134.0,364.3 L1134.3,365.1 L1134.5,366.4 L1134.8,367.3 L1135.1,368.5 L1135.4,369.2 L1135.9,369.6 L1136.6,370.5 L1137.5,371.7 L1138.4,372.1 L1139.3,372.0 L1140.3,372.1 L1141.3,372.0 L1142.3,371.8 L1143.2,371.0 L1144.1,371.2" stroke="#f5e21a" stroke-width="3.0"/>
<path d="M710.4,11.2 L710.5,12.2 L710.6,13.2 L710.8,14.2 L710.9,15.2 L711.0,16.2 L711.1,17.2 L711.2,18.2 L711.3,19.2 L711.4,20.2 L711.5,21.2 L711.6,22.2 L711.7,23.2 L711.9,24.2 L712.0,25.2 L712.1,26.2 L712.2,27.1 L712.3,28.2 L712.5,29.1 L712.6,30.1 L712.7,31.1 L712.8,32.2 L713.0,33.1 L713.1,34.1 L713.2,35.1 L713.3,36.1 L713.5,37.1 L713.6,38.1 L713.7,39.1 L713.9,40.1 L714.0,41.0 L714.2,42.0 L714.3,43.0 L714.4,44.0 L714.6,45.0 L714.7,46.0 L714.9,47.0 L715.0,48.0 L715.1,49.0 L715.3,50.0 L715.4,51.0 L715.6,52.0 L715.7,52.9 L715.9,53.9 L716.0,54.8 L716.2,55.9 L716.4,57.0 L716.5,57.9 L716.7,58.9 L716.8,59.9 L717.0,61.0 L717.1,61.9 L717.3,62.7 L717.5,63.8 L717.6,64.9 L717.8,65.9 L717.9,66.8 L718.1,67.8 L718.3,68.8 L718.4,69.6 L718.6,70.7 L718.8,71.6 L718.9,72.7 L719.1,73.6 L719.3,74.7 L719.5,75.7 L719.6,76.5 L719.8,77.7 L720.0,78.7 L720.2,79.5 L720.3,80.6 L720.5,81.7 L720.7,82.5 L720.9,83.6 L721.0,84.6 L721.2,85.6 L721.4,86.5 L721.6,87.5 L721.8,88.5 L721.9,89.6 L722.1,90.5 L722.3,91.4 L722.5,92.3 L722.7,93.4 L722.9,94.3 L723.0,95.4 L723.2,96.4 L723.4,97.3 L723.6,98.3 L723.8,99.3 L724.0,100.5 L724.2,101.4 L724.4,102.2 L724.6,103.3 L724.7,104.2 L724.9,105.2 L725.1,106.1 L725.3,107.1 L725.5,108.0 L725.7,108.8 L725.9,110.1 L726.1,111.3 L726.3,111.9 L726.5,113.1 L726.7,114.0 L726.9,115.1 L727.1,115.9 L727.3,116.9 L727.5,117.9 L727.7,118.6 L727.9,120.0 L728.1,120.9 L728.3,121.5 L728.5,123.0 L728.7,123.8 L728.9,124.9 L729.1,125.9 L729.3,126.7 L729.5,127.6 L729.7,128.7 L729.9,129.7 L730.1,131.1 L730.3,132.1 L730.5,132.6 L730.7,133.6 L730.9,134.7 L731.1,135.7 L731.3,136.5 L731.5,137.4 L731.7,139.0 L731.9,139.8 L732.1,140.2 L732.3,141.1 L732.5,142.3 L732.7,143.5 L732.9,144.6 L733.1,145.3 L733.3,146.0 L733.5,147.4 L733.8,148.5 L734.0,149.3 L734.2,150.2 L734.4,151.4 L734.6,152.3 L734.8,153.0 L735.0,154.3 L735.2,154.9 L735.4,156.4 L735.6,157.3 L735.8,157.9 L736.0,159.2 L736.2,160.4 L736.4,160.6 L736.6,162.0 L736.8,163.5 L737.0,163.6 L737.2,165.0 L737.4,165.6 L737.7,167.0 L737.9,167.3 L738.1,168.5 L738.3,169.8 L738.5,170.9 L738.7,172.0 L738.9,173.0 L739.1,174.2 L739.3,175.0 L739.5,176.0 L739.7,176.5 L739.9,177.7 L740.1,179.7 L740.3,180.4 L740.5,180.9 L740.7,181.9 L740.9,183.0 L741.1,183.5 L741.3,185.2 L741.5,185.5 L741.7,186.6 L741.9,188.2 L742.1,187.9 L742.3,189.6 L742.5,190.0 L742.7,191.3 L742.9,192.4 L743.1,193.3 L743.3,194.5 L743.5,195.2 L743.7,196.4 L743.9,197.0 L744.1,198.2 L744.3,198.9 L744.5,200.5 L744.7,200.9 L744.9,202.5 L745.1,203.1 L745.3,204.2 L745.5,205.6 L745.7,206.2 L745.9,206.6 L746.1,208.3 L746.4,208.3 L746.6,210.2 L746.8,211.0 L747.0,211.7 L747.2,213.1 L747.4,213.9 L747.6,215.6 L747.8,215.9 L748.0,217.5 L748.3,218.4 L748.5,218.7 L748.7,219.7 L748.9,221.3 L749.2,221.8 L749.4,222.9 L749.6,223.7 L749.8,224.4 L750.1,225.6 L750.3,226.4 L750.5,227.2 L750.8,228.6 L751.0,230.2 L751.3,231.1 L751.5,231.6 L751.8,232.6 L752.0,233.7 L752.3,234.9 L752.5,235.6 L752.8,236.3 L753.1,237.3 L753.3,238.7 L753.6,240.1 L753.9,240.1 L754.1,240.6 L754.4,242.4 L754.7,243.1 L755.0,244.2 L755.3,245.5 L755.6,246.1 L755.9,246.6 L756.2,247.4 L756.5,248.9 L756.8,249.5 L757.1,250.9 L757.4,251.4 L757.7,252.6 L758.1,253.2 L758.4,254.5 L758.7,255.4 L759.1,256.7 L759.4,257.8 L759.7,258.3 L760.1,259.1 L760.4,260.8 L760.8,261.3 L761.2,262.3 L761.5,263.2 L761.9,264.4 L762.3,265.2 L762.7,266.0 L763.1,267.0 L763.4,267.4 L763.8,268.4 L764.2,269.5 L764.7,270.5 L765.1,271.3 L765.5,272.3 L765.9,273.2 L766.3,273.9 L766.8,274.5 L767.2,276.1 L767.7,276.9 L768.1,277.4 L768.6,278.7 L769.0,279.5 L769.5,280.3 L770.0,280.6 L770.5,281.7 L770.9,282.8 L771.4,284.3 L771.9,284.4 L772.4,285.4 L773.0,286.1 L773.5,287.1 L774.0,288.2 L774.5,288.4 L775.1,289.0 L775.6,290.9 L776.1,291.5 L776.7,292.2 L777.2,293.5 L777.8,294.3 L778.4,294.2 L779.0,295.6 L779.5,296.8 L780.1,297.1 L780.7,298.0 L781.3,299.2 L781.9,299.6 L782.5,300.1 L783.2,301.0 L783.8,301.6 L784.4,303.0 L785.1,303.1 L785.7,304.6 L786.4,304.6 L787.0,305.9 L787.7,306.2 L788.3,307.3 L789.0,308.4 L789.7,309.2 L790.4,309.9 L791.1,310.2 L791.8,311.0 L792.5,311.8 L793.2,312.6 L793.9,313.0 L794.7,314.1 L795.4,314.6 L796.1,315.5 L796.9,316.0 L797.6,316.7 L798.4,316.9 L799.2,317.6 L799.9,318.0 L800.7,318.9 L801.5,319.6 L802.3,320.5 L803.1,320.5 L803.9,322.4 L804.7,322.0 L805.5,323.0 L806.3,323.5 L807.2,323.0 L808.0,324.2 L808.9,325.3 L809.7,324.6 L810.6,326.1 L811.4,326.1 L812.3,326.7 L813.2,327.4 L814.1,327.2 L815.0,328.3 L815.9,328.5 L816.8,328.9 L817.7,329.8 L818.6,331.0 L819.5,330.5 L820.4,330.9 L821.4,331.1 L822.3,331.3 L823.2,332.0 L824.2,332.7 L825.1,332.6 L826.0,333.2 L827.0,333.1 L827.9,334.3 L828.9,333.3 L829.9,334.3 L830.8,334.5 L831.8,334.7 L832.8,334.6 L833.7,334.8 L834.7,335.3 L835.7,335.6 L836.7,335.5 L837.6,335.7 L838.6,336.4 L839.6,336.7 L840.6,336.4 L841.6,336.6 L842.6,336.7 L843.5,337.8 L844.5,337.4 L845.5,337.4 L846.5,337.8 L847.5,338.3 L848.5,338.1 L849.5,337.4 L850.5,337.9 L851.5,337.9 L852.5,338.0 L853.5,337.8 L854.5,338.2 L855.5,338.0 L856.5,338.5 L857.5,338.5 L858.5,338.1 L859.5,338.0 L860.5,338.4 L861.5,338.8 L862.5,338.8 L863.5,338.6 L864.5,337.7 L865.5,338.5 L866.5,338.4 L867.5,338.6 L868.5,338.3 L869.5,338.5 L870.5,338.4 L871.5,339.4 L872.5,338.8 L873.5,338.5 L874.5,338.5 L875.5,338.4 L876.5,338.4 L877.5,338.2 L878.5,338.3 L879.5,338.5 L880.5,338.4 L881.5,338.2 L882.5,338.4 L883.5,338.0 L884.5,337.6 L885.5,337.3 L886.5,337.5 L887.5,337.6 L888.5,337.6 L889.5,337.8 L890.5,337.2 L891.5,337.0 L892.5,337.4 L893.5,337.4 L894.5,336.8 L895.5,336.9 L896.5,337.1 L897.5,336.7 L898.4,336.5 L899.4,335.7 L900.4,336.6 L901.4,336.3 L902.4,336.0 L903.4,335.7 L904.4,335.4 L905.4,335.6 L906.4,335.4 L907.4,335.7 L908.4,334.8 L909.4,335.5 L910.4,334.9 L911.4,335.2 L912.3,334.4 L913.3,334.6 L914.3,334.7 L915.3,334.3 L916.3,333.7 L917.3,333.9 L918.3,334.0 L919.3,333.2 L920.3,333.1 L921.3,333.4 L922.3,332.9 L923.2,333.3 L924.2,332.6 L925.2,332.2 L926.2,332.4 L927.2,332.9 L928.2,332.1 L929.2,332.2 L930.2,332.1 L931.2,331.6 L932.2,332.0 L933.1,331.6 L934.1,331.5 L935.1,330.7 L936.1,330.5 L937.1,330.1 L938.1,330.7 L939.1,330.5 L940.1,330.6 L941.0,330.7 L942.0,330.0 L943.0,329.8 L944.0,329.9 L945.0,330.1 L946.0,329.2 L947.0,329.5 L948.0,329.0 L948.9,328.8 L949.9,329.0 L950.9,328.4 L951.9,328.1 L952.9,328.5 L953.9,328.1 L954.9,327.9 L955.9,327.7 L956.8,327.8 L957.8,327.3 L958.8,327.5 L959.8,327.2 L960.8,327.4 L961.8,327.2 L962.8,326.9 L963.8,326.4 L964.7,326.3 L965.7,325.9 L966.7,326.8 L967.7,325.7 L968.7,325.8 L969.7,325.9 L970.7,324.9 L971.7,324.9 L972.6,324.8 L973.6,324.5 L974.6,324.2 L975.6,324.3 L976.6,324.7 L977.6,324.4 L978.6,324.0 L979.6,323.8 L980.5,323.2 L981.5,323.7 L982.5,323.5 L983.5,322.8 L984.5,323.1 L985.5,322.8 L986.5,322.5 L987.5,322.2 L988.5,322.2 L989.4,321.9 L990.4,322.2 L991.4,322.0 L992.4,321.9 L993.4,321.6 L994.4,321.3 L995.4,321.9 L996.4,320.6 L997.4,321.4 L998.4,321.0 L999.3,320.7 L1000.3,320.4 L1001.3,320.4 L1002.3,319.9 L1003.3,319.7 L1004.3,320.0 L1005.3,319.4 L1006.3,320.0 L1007.3,319.9 L1008.3,318.4 L1009.3,318.8 L1010.2,319.3 L1011.2,319.1 L1012.2,318.9 L1013.2,318.9 L1014.2,318.9 L1015.2,318.8 L1016.2,318.9 L1017.2,318.3 L1018.2,318.4 L1019.2,317.5 L1020.2,317.9 L1021.2,317.4 L1022.2,318.1 L1023.2,318.3 L1024.2,317.6 L1025.2,317.0 L1026.2,317.2 L1027.1,317.1 L1028.1,317.1 L1029.1,317.2 L1030.1,317.1 L1031.1,315.9 L1032.1,317.0 L1033.1,316.4 L1034.1,316.3 L1035.1,316.8 L1036.1,316.2 L1037.1,315.7 L1038.1,315.7 L1039.1,316.0 L1040.1,316.2 L1041.1,316.3 L1042.1,315.7 L1043.1,315.5 L1044.1,316.1 L1045.1,315.4 L1046.1,315.9 L1047.1,315.4 L1048.1,315.4 L1049.1,315.2 L1050.1,315.3 L1051.1,315.0 L1052.1,314.9 L1053.1,315.0 L1054.1,314.8 L1055.1,315.0 L1056.1,314.9 L1057.1,314.7 L1058.1,314.7 L1059.1,314.7 L1060.1,315.2 L1061.1,314.7 L1062.1,314.5 L1063.1,314.5 L1064.1,314.8 L1065.1,314.5 L1066.1,314.5 L1067.1,314.4 L1068.1,314.5 L1069.1,314.6 L1070.1,314.6 L1071.1,314.0 L1072.1,314.1 L1073.1,313.7 L1074.1,314.7 L1075.1,314.8 L1076.1,314.9 L1077.1,314.5 L1078.1,314.8 L1079.1,314.5 L1080.1,314.5 L1081.1,314.1 L1082.1,314.3 L1083.1,314.4 L1084.1,314.9 L1085.1,315.1 L1086.1,314.5 L1087.1,314.8 L1088.1,314.9 L1089.1,314.6 L1090.1,314.4 L1091.1,314.7 L1092.1,314.6 L1093.1,315.0 L1094.1,315.1 L1095.1,315.2 L1096.1,315.2 L1097.1,315.5 L1098.1,315.1 L1099.1,315.7 L1100.1,315.0 L1101.1,315.5 L1102.1,315.7 L1103.1,315.4 L1104.1,315.2 L1105.1,316.0 L1106.1,315.6 L1107.1,316.2 L1108.1,316.2 L1109.1,316.1 L1110.1,316.2 L1111.1,316.6 L1112.1,316.5 L1113.1,316.2 L1114.1,316.6 L1115.1,316.9 L1116.1,316.9 L1117.1,317.0 L1118.1,317.0 L1119.0,317.2 L1120.0,317.2 L1121.0,317.3 L1121.9,318.4 L1122.9,318.2 L1123.7,319.1 L1124.4,319.2 L1125.0,320.5 L1125.5,321.1 L1126.0,323.1 L1126.5,322.8 L1126.9,323.7 L1127.3,325.2 L1127.7,326.2 L1128.1,326.1 L1128.4,327.8 L1128.7,328.9 L1128.9,329.3 L1129.2,330.8 L1129.4,331.4 L1129.6,332.3 L1129.8,333.5 L1130.0,334.4 L1130.1,335.1 L1130.3,337.2 L1130.5,337.4 L1130.7,338.3 L1130.8,339.7 L1131.0,340.4 L1131.2,341.8 L1131.3,342.4 L1131.5,343.5 L1131.7,344.4 L1131.9,345.4 L1132.0,346.3 L1132.2,347.3 L1132.3,348.9 L1132.5,349.1 L1132.6,350.2 L1132.8,351.2 L1132.9,352.5 L1133.1,353.4 L1133.2,354.6 L1133.4,354.9 L1133.5,356.4 L1133.6,357.2 L1133.8,358.2 L1133.9,359.3 L1134.1,359.7 L1134.2,361.3 L1134.4,362.3 L1134.5,362.8 L1134.6,364.2 L1134.8,365.7 L1134.9,366.1 L1135.0,367.4 L1135.2,368.1 L1135.3,368.9 L1135.4,369.9 L1135.6,371.0 L1135.7,372.5 L1135.9,373.4 L1136.1,373.9 L1136.3,375.4 L1136.6,376.0 L1136.8,376.8 L1137.2,378.1 L1137.8,378.5 L1138.7,378.7 L1139.7,379.7 L1140.7,378.7 L1141.6,379.1 L1142.4,378.0 L1143.1,377.6 L1143.6,376.7 L1144.1,375.8" stroke="#5b95d6" stroke-width="3.0"/>
<path d="M711.8,11.2 L711.9,12.2 L712.0,13.2 L712.1,14.2 L712.2,15.2 L712.3,16.2 L712.4,17.2 L712.5,18.2 L712.6,19.2 L712.8,20.2 L712.9,21.2 L713.0,22.2 L713.1,23.2 L713.2,24.2 L713.3,25.2 L713.5,26.1 L713.6,27.1 L713.7,28.1 L713.8,29.1 L714.0,30.1 L714.1,31.1 L714.2,32.1 L714.3,33.0 L714.5,34.1 L714.6,35.1 L714.7,36.1 L714.9,37.0 L715.0,38.1 L715.1,39.0 L715.3,40.0 L715.4,41.0 L715.5,42.0 L715.7,43.1 L715.8,44.0 L715.9,45.0 L716.1,46.0 L716.2,47.0 L716.4,48.0 L716.5,49.0 L716.7,49.9 L716.8,51.0 L716.9,51.8 L717.1,52.9 L717.2,53.9 L717.4,54.9 L717.5,55.9 L717.7,56.8 L717.8,57.8 L718.0,58.9 L718.1,59.8 L718.3,60.7 L718.4,61.8 L718.6,62.8 L718.8,63.8 L718.9,64.8 L719.1,65.7 L719.2,66.7 L719.4,67.8 L719.6,68.8 L719.7,69.7 L719.9,70.7 L720.0,71.5 L720.2,72.7 L720.4,73.7 L720.5,74.7 L720.7,75.8 L720.9,76.6 L721.0,77.7 L721.2,78.5 L721.4,79.7 L721.6,80.6 L721.7,81.7 L721.9,82.6 L722.1,83.5 L722.3,84.6 L722.4,85.4 L722.6,86.5 L722.8,87.6 L723.0,88.3 L723.1,89.3 L723.3,90.4 L723.5,91.4 L723.7,92.4 L723.9,93.4 L724.0,94.2 L724.2,95.3 L724.4,96.4 L724.6,97.2 L724.8,98.2 L725.0,99.1 L725.2,100.3 L725.3,101.5 L725.5,102.0 L725.7,103.3 L725.9,104.3 L726.1,105.1 L726.3,106.1 L726.5,106.9 L726.7,108.0 L726.9,109.1 L727.1,110.1 L727.3,111.0 L727.5,112.1 L727.7,113.0 L727.9,113.8 L728.1,115.2 L728.3,116.1 L728.5,116.8 L728.7,118.2 L728.9,118.9 L729.1,119.9 L729.3,121.2 L729.5,121.4 L729.7,122.5 L729.9,123.9 L730.1,124.7 L730.3,125.6 L730.5,127.0 L730.7,127.8 L730.9,128.4 L731.1,129.5 L731.3,130.8 L731.5,131.9 L731.7,132.2 L731.9,133.6 L732.1,134.5 L732.4,135.2 L732.6,136.4 L732.8,137.1 L733.0,138.3 L733.2,139.8 L733.4,140.5 L733.6,141.5 L733.9,142.5 L734.1,143.4 L734.3,144.5 L734.5,145.0 L734.7,146.2 L734.9,147.4 L735.2,148.0 L735.4,149.1 L735.6,150.4 L735.8,151.5 L736.0,152.0 L736.3,152.9 L736.5,154.2 L736.7,155.1 L736.9,155.8 L737.1,157.1 L737.4,158.1 L737.6,159.0 L737.8,160.7 L738.0,161.2 L738.3,162.1 L738.5,163.1 L738.7,164.6 L738.9,165.1 L739.2,165.6 L739.4,166.8 L739.6,167.7 L739.9,168.5 L740.1,169.7 L740.3,170.7 L740.5,171.6 L740.8,172.4 L741.0,173.8 L741.2,174.1 L741.5,175.7 L741.7,176.5 L741.9,177.5 L742.2,177.7 L742.4,179.9 L742.6,179.9 L742.9,181.1 L743.1,182.5 L743.3,183.1 L743.6,184.1 L743.8,184.6 L744.0,186.1 L744.3,187.2 L744.5,188.3 L744.7,189.0 L745.0,190.1 L745.2,191.2 L745.4,191.8 L745.7,192.8 L745.9,194.5 L746.2,194.7 L746.4,196.3 L746.6,196.9 L746.9,198.3 L747.1,198.6 L747.4,199.9 L747.6,200.9 L747.9,201.7 L748.1,202.8 L748.3,203.4 L748.6,204.6 L748.8,205.5 L749.1,206.8 L749.3,207.5 L749.6,208.1 L749.8,209.4 L750.1,210.4 L750.4,211.2 L750.6,212.8 L750.9,213.5 L751.1,214.6 L751.4,215.1 L751.7,216.1 L751.9,217.5 L752.2,217.8 L752.5,219.2 L752.8,220.1 L753.0,220.9 L753.3,222.0 L753.6,222.7 L753.9,224.0 L754.2,224.5 L754.4,225.5 L754.7,227.2 L755.0,227.6 L755.3,228.1 L755.6,230.0 L755.9,230.4 L756.2,230.5 L756.5,232.5 L756.8,233.8 L757.2,234.5 L757.5,235.9 L757.8,236.3 L758.1,237.5 L758.4,237.9 L758.8,239.2 L759.1,240.6 L759.4,241.2 L759.8,242.0 L760.1,242.4 L760.5,243.8 L760.8,244.4 L761.2,246.0 L761.5,246.5 L761.9,247.7 L762.2,248.3 L762.6,250.0 L763.0,250.1 L763.4,251.4 L763.7,253.0 L764.1,253.2 L764.5,253.8 L764.9,255.2 L765.3,256.2 L765.7,257.1 L766.1,257.2 L766.5,258.7 L767.0,259.0 L767.4,261.1 L767.8,261.4 L768.2,262.2 L768.7,263.4 L769.1,264.2 L769.6,264.6 L770.0,266.4 L770.5,266.7 L770.9,267.1 L771.4,269.0 L771.9,269.9 L772.4,270.7 L772.8,271.3 L773.3,271.8 L773.8,273.2 L774.3,274.3 L774.8,274.9 L775.3,276.0 L775.9,276.1 L776.4,277.5 L776.9,278.4 L777.4,278.5 L778.0,279.3 L778.5,280.4 L779.1,281.5 L779.6,282.4 L780.2,283.0 L780.8,283.9 L781.3,284.7 L781.9,285.6 L782.5,286.5 L783.1,287.3 L783.7,287.9 L784.3,288.8 L784.9,289.4 L785.6,290.6 L786.2,291.0 L786.8,292.4 L787.4,292.6 L788.1,293.5 L788.7,294.0 L789.4,294.8 L790.1,295.7 L790.7,296.4 L791.4,297.0 L792.1,297.6 L792.8,298.6 L793.5,299.4 L794.2,300.2 L794.9,301.1 L795.6,301.4 L796.3,301.6 L797.0,302.8 L797.7,303.0 L798.5,303.9 L799.2,305.2 L799.9,305.7 L800.7,306.0 L801.5,306.7 L802.2,307.5 L803.0,307.7 L803.8,309.0 L804.5,309.3 L805.3,310.6 L806.1,310.4 L806.9,311.6 L807.7,311.7 L808.5,312.8 L809.3,312.8 L810.2,313.8 L811.0,314.1 L811.8,314.5 L812.7,315.2 L813.5,316.0 L814.3,316.5 L815.2,317.4 L816.1,317.6 L816.9,317.1 L817.8,318.3 L818.7,318.3 L819.5,319.2 L820.4,320.0 L821.3,319.9 L822.2,320.4 L823.1,321.2 L824.0,321.5 L824.9,322.5 L825.8,322.5 L826.8,323.0 L827.7,323.7 L828.6,323.4 L829.5,323.9 L830.5,324.0 L831.4,324.7 L832.4,325.3 L833.3,325.7 L834.3,325.6 L835.2,325.7 L836.2,325.9 L837.1,326.0 L838.1,326.7 L839.1,327.4 L840.0,326.5 L841.0,326.8 L842.0,328.1 L843.0,327.4 L843.9,328.2 L844.9,327.9 L845.9,328.7 L846.9,328.8 L847.9,328.8 L848.9,329.2 L849.9,329.1 L850.9,329.4 L851.8,329.9 L852.8,329.8 L853.8,329.3 L854.8,329.4 L855.8,329.7 L856.8,329.7 L857.8,329.9 L858.8,329.8 L859.8,330.2 L860.8,330.1 L861.8,330.2 L862.8,330.2 L863.8,330.4 L864.8,329.9 L865.8,330.7 L866.8,330.3 L867.8,330.4 L868.8,330.4 L869.8,330.6 L870.8,330.5 L871.8,330.3 L872.8,330.1 L873.8,329.7 L874.8,330.2 L875.8,330.0 L876.8,329.9 L877.8,330.7 L878.8,329.4 L879.8,329.9 L880.8,330.2 L881.8,330.0 L882.8,330.0 L883.8,329.2 L884.8,329.2 L885.8,329.6 L886.8,329.2 L887.8,329.8 L888.8,329.2 L889.8,329.1 L890.8,329.1 L891.8,328.7 L892.8,328.8 L893.7,328.4 L894.7,328.5 L895.7,328.2 L896.7,328.3 L897.7,327.7 L898.7,327.5 L899.7,328.0 L900.7,327.8 L901.7,327.3 L902.7,327.3 L903.7,326.9 L904.6,327.7 L905.6,326.5 L906.6,327.3 L907.6,326.4 L908.6,326.6 L909.6,326.2 L910.6,326.0 L911.6,326.3 L912.5,326.1 L913.5,325.6 L914.5,325.2 L915.5,325.9 L916.5,325.5 L917.5,325.0 L918.4,324.7 L919.4,324.7 L920.4,324.4 L921.4,324.6 L922.4,323.7 L923.4,323.8 L924.3,323.4 L925.3,323.8 L926.3,323.8 L927.3,323.0 L928.3,323.0 L929.2,323.1 L930.2,322.4 L931.2,322.0 L932.2,322.4 L933.2,322.0 L934.1,321.6 L935.1,321.9 L936.1,321.3 L937.1,320.5 L938.1,320.9 L939.0,320.6 L940.0,321.0 L941.0,320.2 L942.0,319.9 L943.0,319.9 L943.9,319.6 L944.9,318.9 L945.9,319.2 L946.9,318.8 L947.8,319.2 L948.8,319.2 L949.8,318.0 L950.8,317.8 L951.8,317.7 L952.7,317.5 L953.7,317.3 L954.7,317.3 L955.7,317.4 L956.7,316.5 L957.6,316.2 L958.6,315.9 L959.6,316.6 L960.6,316.5 L961.5,315.4 L962.5,315.2 L963.5,315.5 L964.5,315.6 L965.5,315.4 L966.4,314.9 L967.4,314.9 L968.4,314.6 L969.4,314.1 L970.4,314.7 L971.4,313.9 L972.3,313.4 L973.3,313.4 L974.3,312.9 L975.3,313.1 L976.3,313.3 L977.3,312.4 L978.2,312.9 L979.2,313.0 L980.2,312.3 L981.2,311.7 L982.2,311.6 L983.2,311.6 L984.1,311.1 L985.1,311.0 L986.1,311.1 L987.1,310.9 L988.1,311.0 L989.1,310.3 L990.0,311.0 L991.0,310.6 L992.0,310.4 L993.0,309.8 L994.0,310.3 L995.0,309.5 L996.0,310.0 L997.0,309.6 L997.9,308.9 L998.9,308.9 L999.9,309.4 L1000.9,309.0 L1001.9,308.5 L1002.9,308.5 L1003.9,308.3 L1004.9,307.9 L1005.8,307.9 L1006.8,307.6 L1007.8,307.5 L1008.8,307.6 L1009.8,307.1 L1010.8,307.4 L1011.8,307.1 L1012.8,307.2 L1013.8,307.1 L1014.8,307.1 L1015.8,306.7 L1016.7,306.6 L1017.7,306.2 L1018.7,306.3 L1019.7,305.8 L1020.7,305.8 L1021.7,306.0 L1022.7,305.7 L1023.7,305.7 L1024.7,305.1 L1025.7,305.7 L1026.7,305.0 L1027.7,305.2 L1028.7,305.0 L1029.7,305.1 L1030.6,304.6 L1031.6,304.4 L1032.6,304.0 L1033.6,304.4 L1034.6,304.0 L1035.6,304.4 L1036.6,304.6 L1037.6,303.4 L1038.6,303.6 L1039.6,304.0 L1040.6,304.2 L1041.6,303.8 L1042.6,303.7 L1043.6,303.7 L1044.6,303.6 L1045.6,303.9 L1046.6,303.5 L1047.6,302.8 L1048.6,303.0 L1049.6,303.1 L1050.6,302.8 L1051.6,302.9 L1052.6,302.7 L1053.6,302.6 L1054.6,302.9 L1055.6,302.6 L1056.6,302.3 L1057.6,302.4 L1058.6,302.5 L1059.6,303.1 L1060.6,302.5 L1061.6,302.8 L1062.6,302.5 L1063.6,301.6 L1064.6,302.4 L1065.6,301.9 L1066.6,301.8 L1067.6,301.8 L1068.6,302.6 L1069.6,301.6 L1070.6,301.8 L1071.6,302.4 L1072.6,302.2 L1073.6,301.4 L1074.6,301.9 L1075.6,301.8 L1076.6,301.9 L1077.6,302.1 L1078.6,301.7 L1079.6,301.8 L1080.6,302.3 L1081.6,301.3 L1082.6,301.8 L1083.6,302.0 L1084.6,301.5 L1085.6,301.7 L1086.6,301.5 L1087.6,301.9 L1088.6,301.7 L1089.6,302.1 L1090.6,302.2 L1091.6,301.9 L1092.6,301.7 L1093.6,301.9 L1094.6,301.8 L1095.6,301.4 L1096.6,302.1 L1097.6,301.8 L1098.6,301.9 L1099.6,301.3 L1100.6,301.9 L1101.6,302.3 L1102.6,301.9 L1103.6,301.4 L1104.5,301.9 L1105.5,302.0 L1106.5,302.2 L1107.5,302.2 L1108.5,302.6 L1109.5,302.5 L1110.5,302.9 L1111.5,302.8 L1112.4,303.2 L1113.4,303.7 L1114.4,303.4 L1115.4,304.0 L1116.4,303.8 L1117.3,304.2 L1118.3,304.5 L1119.2,305.2 L1120.2,305.0 L1121.1,306.0 L1122.0,305.6 L1122.8,306.5 L1123.6,307.4 L1124.4,308.1 L1125.0,308.3 L1125.6,309.0 L1126.1,310.5 L1126.6,310.8 L1127.1,312.2 L1127.5,312.8 L1127.9,313.8 L1128.2,315.5 L1128.5,316.2 L1128.8,317.0 L1129.0,317.3 L1129.2,318.8 L1129.4,319.7 L1129.5,320.6 L1129.7,322.0 L1129.8,322.1 L1130.0,323.7 L1130.1,324.6 L1130.3,325.4 L1130.4,327.1 L1130.6,327.2 L1130.7,328.6 L1130.8,329.6 L1131.0,329.9 L1131.1,331.1 L1131.2,332.2 L1131.4,333.8 L1131.5,334.8 L1131.7,335.7 L1131.8,336.6 L1131.9,336.8 L1132.0,338.5 L1132.1,339.3 L1132.2,340.8 L1132.4,341.9 L1132.5,343.1 L1132.6,343.7 L1132.7,344.7 L1132.8,345.1 L1132.9,346.5 L1133.0,347.1 L1133.1,348.7 L1133.2,349.1 L1133.3,350.3 L1133.4,351.2 L1133.5,352.3 L1133.6,353.5 L1133.7,354.2 L1133.9,355.4 L1134.0,356.1 L1134.1,357.8 L1134.3,358.1 L1134.5,359.6 L1134.7,361.0 L1134.8,360.6 L1135.0,362.0 L1135.2,363.2 L1135.4,364.6 L1135.6,365.1 L1135.9,366.3 L1136.2,366.9 L1136.7,368.2 L1137.4,368.3 L1138.3,369.4 L1139.2,368.5 L1140.2,369.0 L1141.2,370.1 L1142.2,369.6 L1143.2,369.0 L1144.1,369.5" stroke="#c987e6" stroke-width="3.0"/>
<path d="M713.1,11.3 L713.2,12.3 L713.2,13.3 L713.3,14.3 L713.4,15.2 L713.5,16.2 L713.6,17.2 L713.7,18.2 L713.8,19.2 L713.9,20.2 L714.0,21.2 L714.1,22.2 L714.2,23.2 L714.3,24.2 L714.4,25.2 L714.5,26.2 L714.6,27.2 L714.7,28.2 L714.9,29.2 L715.0,30.2 L715.1,31.2 L715.2,32.1 L715.3,33.2 L715.4,34.2 L715.6,35.1 L715.7,36.1 L715.8,37.1 L715.9,38.1 L716.1,39.0 L716.2,40.1 L716.3,41.1 L716.5,42.2 L716.6,43.1 L716.7,44.1 L716.9,45.1 L717.0,46.1 L717.2,47.0 L717.3,48.0 L717.4,49.0 L717.6,50.1 L717.7,51.0 L717.9,51.9 L718.0,53.0 L718.2,54.1 L718.3,54.9 L718.5,56.2 L718.6,57.0 L718.8,58.0 L718.9,58.9 L719.1,59.9 L719.3,60.8 L719.4,61.8 L719.6,62.8 L719.7,64.0 L719.9,64.8 L720.1,65.9 L720.2,66.9 L720.4,67.8 L720.6,68.8 L720.7,69.8 L720.9,70.8 L721.1,71.8 L721.3,72.8 L721.4,73.7 L721.6,74.6 L721.8,75.6 L722.0,76.7 L722.2,77.8 L722.3,78.8 L722.5,79.7 L722.7,80.7 L722.9,81.6 L723.1,82.7 L723.3,83.6 L723.4,84.6 L723.6,85.5 L723.8,86.5 L724.0,87.7 L724.2,88.4 L724.4,89.5 L724.6,90.4 L724.8,91.6 L725.0,92.7 L725.2,93.4 L725.4,94.0 L725.6,95.5 L725.8,96.4 L726.0,97.1 L726.2,98.3 L726.4,99.3 L726.6,100.0 L726.8,101.4 L727.0,102.3 L727.2,103.3 L727.4,104.0 L727.6,105.1 L727.8,106.1 L728.0,107.2 L728.3,108.0 L728.5,109.3 L728.7,110.1 L728.9,110.7 L729.1,112.3 L729.3,113.0 L729.5,113.9 L729.8,115.0 L730.0,115.6 L730.2,117.0 L730.4,117.5 L730.6,118.7 L730.9,120.1 L731.1,121.1 L731.3,121.7 L731.5,122.6 L731.8,123.9 L732.0,124.7 L732.2,125.7 L732.4,126.8 L732.7,127.4 L732.9,128.8 L733.1,129.2 L733.3,130.9 L733.6,131.2 L733.8,132.4 L734.0,133.4 L734.3,134.6 L734.5,135.6 L734.7,136.5 L735.0,137.5 L735.2,138.5 L735.4,139.3 L735.7,139.9 L735.9,140.7 L736.2,141.7 L736.4,143.2 L736.6,144.1 L736.9,145.1 L737.1,146.2 L737.4,147.1 L737.6,147.8 L737.8,148.7 L738.1,149.5 L738.3,151.3 L738.6,152.2 L738.8,152.6 L739.0,153.8 L739.3,155.0 L739.5,156.3 L739.8,156.7 L740.0,157.8 L740.3,159.1 L740.5,159.2 L740.8,160.5 L741.0,161.7 L741.3,162.4 L741.5,164.2 L741.8,164.8 L742.0,165.6 L742.3,166.2 L742.5,167.8 L742.8,168.7 L743.0,169.3 L743.3,170.3 L743.5,170.9 L743.8,172.3 L744.0,173.6 L744.3,174.6 L744.5,175.4 L744.8,176.5 L745.0,177.0 L745.3,178.0 L745.6,179.5 L745.8,180.2 L746.1,180.8 L746.3,182.2 L746.6,183.2 L746.8,184.2 L747.1,185.0 L747.3,185.7 L747.6,187.0 L747.9,188.4 L748.1,188.8 L748.4,189.5 L748.6,190.8 L748.9,191.3 L749.2,192.7 L749.4,193.5 L749.7,194.9 L749.9,195.6 L750.2,196.9 L750.5,198.2 L750.7,198.4 L751.0,199.2 L751.2,200.5 L751.5,201.3 L751.8,202.4 L752.0,203.1 L752.3,204.4 L752.6,205.2 L752.9,205.5 L753.1,207.1 L753.4,208.2 L753.7,209.4 L754.0,209.8 L754.2,210.7 L754.5,212.3 L754.8,212.7 L755.1,213.9 L755.4,215.0 L755.7,216.0 L756.0,216.7 L756.3,217.3 L756.6,219.0 L756.9,219.5 L757.2,220.4 L757.5,222.1 L757.8,222.7 L758.1,223.1 L758.4,224.2 L758.8,225.2 L759.1,226.0 L759.4,226.6 L759.7,228.4 L760.1,229.3 L760.4,230.1 L760.7,230.9 L761.1,232.0 L761.4,233.1 L761.8,233.5 L762.1,234.6 L762.5,235.5 L762.8,236.8 L763.2,237.6 L763.6,238.1 L763.9,239.2 L764.3,240.9 L764.7,241.0 L765.1,242.2 L765.4,242.9 L765.8,244.4 L766.2,244.9 L766.6,245.7 L767.0,246.4 L767.4,247.6 L767.8,248.9 L768.2,249.7 L768.6,250.0 L769.1,251.8 L769.5,252.2 L769.9,252.8 L770.3,254.1 L770.8,254.8 L771.2,255.7 L771.6,256.6 L772.1,257.6 L772.5,258.4 L773.0,258.9 L773.5,260.5 L773.9,261.1 L774.4,262.5 L774.9,263.2 L775.3,264.1 L775.8,264.8 L776.3,266.0 L776.8,266.4 L777.3,267.1 L777.8,268.4 L778.3,268.3 L778.8,269.9 L779.3,270.9 L779.8,271.6 L780.4,272.9 L780.9,273.6 L781.4,274.3 L782.0,275.0 L782.5,276.3 L783.1,276.5 L783.6,277.5 L784.2,278.6 L784.7,279.4 L785.3,280.7 L785.9,280.8 L786.5,281.1 L787.1,282.7 L787.7,283.7 L788.3,284.1 L788.9,285.4 L789.5,286.3 L790.1,286.3 L790.7,287.1 L791.3,287.7 L792.0,289.0 L792.6,289.8 L793.3,290.6 L793.9,290.7 L794.6,291.6 L795.2,292.2 L795.9,292.9 L796.6,293.7 L797.3,294.4 L797.9,295.5 L798.6,296.4 L799.3,297.2 L800.0,297.7 L800.8,298.2 L801.5,299.1 L802.2,300.0 L802.9,300.4 L803.7,301.2 L804.4,301.7 L805.2,302.3 L805.9,303.2 L806.7,303.5 L807.5,304.8 L808.2,304.6 L809.0,305.8 L809.8,305.9 L810.6,307.4 L811.4,307.8 L812.2,307.8 L813.0,308.5 L813.9,308.9 L814.7,309.8 L815.5,310.5 L816.4,311.7 L817.2,311.0 L818.1,312.4 L818.9,312.3 L819.8,313.1 L820.7,313.8 L821.5,314.1 L822.4,314.6 L823.3,314.8 L824.2,315.4 L825.1,315.9 L826.0,316.6 L826.9,316.2 L827.8,316.9 L828.7,317.1 L829.6,317.6 L830.6,318.0 L831.5,319.0 L832.4,319.7 L833.4,319.8 L834.3,319.4 L835.2,320.1 L836.2,320.0 L837.1,320.8 L838.1,321.4 L839.0,321.5 L840.0,321.9 L841.0,321.8 L841.9,321.5 L842.9,321.8 L843.9,322.6 L844.8,323.1 L845.8,323.5 L846.8,323.2 L847.8,323.6 L848.7,323.8 L849.7,324.3 L850.7,324.1 L851.7,324.0 L852.7,324.8 L853.7,324.8 L854.7,324.9 L855.7,324.5 L856.6,325.0 L857.6,324.6 L858.6,324.6 L859.6,325.3 L860.6,325.3 L861.6,325.7 L862.6,326.1 L863.6,325.7 L864.6,326.3 L865.6,325.6 L866.6,326.1 L867.6,325.5 L868.6,325.9 L869.6,325.8 L870.6,325.8 L871.6,326.1 L872.6,325.3 L873.6,325.9 L874.6,325.6 L875.6,325.8 L876.6,325.9 L877.6,325.6 L878.6,325.6 L879.6,325.3 L880.6,325.7 L881.6,325.3 L882.6,325.6 L883.6,324.9 L884.6,325.7 L885.6,324.8 L886.6,325.4 L887.6,324.8 L888.6,325.0 L889.6,324.7 L890.6,324.8 L891.6,324.5 L892.6,324.8 L893.6,324.4 L894.6,324.3 L895.6,324.5 L896.5,323.6 L897.5,324.1 L898.5,323.5 L899.5,322.9 L900.5,323.3 L901.5,323.0 L902.5,323.4 L903.5,322.5 L904.5,322.5 L905.4,322.4 L906.4,321.6 L907.4,322.1 L908.4,321.5 L909.4,322.0 L910.4,321.9 L911.3,321.2 L912.3,320.5 L913.3,320.9 L914.3,320.7 L915.3,320.6 L916.2,320.1 L917.2,319.6 L918.2,319.8 L919.2,319.3 L920.2,319.9 L921.1,319.0 L922.1,318.8 L923.1,318.7 L924.1,318.1 L925.0,318.2 L926.0,318.1 L927.0,317.7 L928.0,317.6 L929.0,317.8 L929.9,317.4 L930.9,316.6 L931.9,316.7 L932.9,316.8 L933.8,316.2 L934.8,316.2 L935.8,315.9 L936.8,315.9 L937.8,315.4 L938.7,315.2 L939.7,314.8 L940.7,315.0 L941.7,314.3 L942.6,314.9 L943.6,314.2 L944.6,313.9 L945.6,314.0 L946.6,313.5 L947.5,313.4 L948.5,313.1 L949.5,312.7 L950.5,312.4 L951.4,312.3 L952.4,312.6 L953.4,311.9 L954.4,311.7 L955.4,311.5 L956.3,311.7 L957.3,311.8 L958.3,310.7 L959.3,311.0 L960.3,310.7 L961.2,310.3 L962.2,310.4 L963.2,309.6 L964.2,310.0 L965.2,309.7 L966.1,309.1 L967.1,309.7 L968.1,309.2 L969.1,309.1 L970.1,308.1 L971.0,308.3 L972.0,308.0 L973.0,308.2 L974.0,308.2 L975.0,307.0 L975.9,307.4 L976.9,307.1 L977.9,307.3 L978.9,306.8 L979.9,306.2 L980.8,306.3 L981.8,305.9 L982.8,305.7 L983.8,305.8 L984.8,305.4 L985.8,305.5 L986.7,304.7 L987.7,305.7 L988.7,305.2 L989.7,304.8 L990.7,304.0 L991.7,303.6 L992.6,303.8 L993.6,303.8 L994.6,304.4 L995.6,303.9 L996.6,303.1 L997.5,303.5 L998.5,303.3 L999.5,302.7 L1000.5,302.9 L1001.5,302.5 L1002.5,302.0 L1003.5,301.6 L1004.4,301.8 L1005.4,302.0 L1006.4,301.0 L1007.4,300.8 L1008.4,301.3 L1009.4,300.1 L1010.3,301.3 L1011.3,300.4 L1012.3,300.6 L1013.3,300.8 L1014.3,299.6 L1015.3,299.5 L1016.3,300.4 L1017.2,299.4 L1018.2,299.3 L1019.2,299.2 L1020.2,299.3 L1021.2,299.2 L1022.2,298.7 L1023.2,298.4 L1024.1,298.3 L1025.1,298.2 L1026.1,298.4 L1027.1,297.9 L1028.1,298.2 L1029.1,297.2 L1030.1,297.5 L1031.1,297.7 L1032.0,297.4 L1033.0,296.9 L1034.0,296.4 L1035.0,296.3 L1036.0,296.3 L1037.0,296.3 L1038.0,296.0 L1039.0,295.4 L1040.0,295.5 L1040.9,295.7 L1041.9,295.7 L1042.9,294.8 L1043.9,295.0 L1044.9,294.4 L1045.9,294.6 L1046.9,295.7 L1047.9,294.5 L1048.9,294.3 L1049.9,294.0 L1050.8,293.7 L1051.8,293.4 L1052.8,293.8 L1053.8,293.6 L1054.8,294.0 L1055.8,292.9 L1056.8,293.4 L1057.8,293.6 L1058.8,292.5 L1059.8,293.1 L1060.8,292.3 L1061.8,292.9 L1062.8,293.1 L1063.8,292.5 L1064.8,292.5 L1065.8,292.1 L1066.8,292.3 L1067.7,292.5 L1068.7,292.0 L1069.7,291.9 L1070.7,292.0 L1071.7,292.1 L1072.7,291.3 L1073.7,291.8 L1074.7,291.5 L1075.7,291.8 L1076.7,291.9 L1077.7,291.7 L1078.7,291.9 L1079.7,291.2 L1080.7,291.4 L1081.7,291.2 L1082.7,291.5 L1083.7,291.5 L1084.7,291.5 L1085.7,291.2 L1086.8,291.6 L1087.8,291.5 L1088.8,291.9 L1089.8,291.6 L1090.8,292.1 L1091.7,291.9 L1092.7,291.3 L1093.7,291.9 L1094.7,291.5 L1095.7,292.3 L1096.7,292.5 L1097.7,292.1 L1098.7,292.4 L1099.7,291.9 L1100.7,291.7 L1101.7,292.3 L1102.7,292.5 L1103.7,292.3 L1104.7,292.9 L1105.7,293.1 L1106.7,293.4 L1107.7,293.8 L1108.7,293.8 L1109.6,293.6 L1110.6,294.0 L1111.6,294.5 L1112.5,294.4 L1113.4,295.5 L1114.3,295.8 L1115.2,295.9 L1116.1,296.3 L1116.9,298.2 L1117.8,297.8 L1118.6,298.4 L1119.4,299.3 L1120.2,299.6 L1120.9,300.0 L1121.7,300.9 L1122.4,301.1 L1123.0,302.3 L1123.7,302.4 L1124.2,303.8 L1124.8,304.7 L1125.3,304.9 L1125.8,306.8 L1126.3,306.8 L1126.7,308.4 L1127.1,308.8 L1127.5,310.0 L1127.8,310.6 L1128.1,312.6 L1128.4,313.1 L1128.7,314.3 L1129.0,314.9 L1129.2,315.9 L1129.5,316.7 L1129.7,317.5 L1129.9,318.8 L1130.2,319.6 L1130.4,320.5 L1130.6,321.1 L1130.8,322.4 L1131.0,323.7 L1131.2,324.3 L1131.4,325.5 L1131.6,326.4 L1131.8,327.1 L1131.9,328.1 L1132.1,329.1 L1132.2,330.3 L1132.3,331.3 L1132.5,332.7 L1132.6,333.0 L1132.7,333.7 L1132.8,335.5 L1132.9,336.2 L1133.1,337.3 L1133.2,339.1 L1133.3,339.8 L1133.4,340.5 L1133.5,341.6 L1133.6,342.3 L1133.8,343.6 L1133.9,344.1 L1134.0,345.1 L1134.2,346.1 L1134.3,347.7 L1134.4,348.7 L1134.6,349.1 L1134.7,350.6 L1134.9,351.2 L1135.0,352.5 L1135.2,353.1 L1135.3,354.5 L1135.5,355.1 L1135.6,356.1 L1135.8,357.1 L1136.0,358.2 L1136.2,358.9 L1136.5,359.6 L1136.9,361.5 L1137.4,361.8 L1137.9,362.2 L1138.5,362.8 L1139.3,363.2 L1140.3,364.2 L1141.3,364.8 L1142.2,363.7 L1143.2,363.8 L1144.1,362.9" stroke="#3cc27c" stroke-width="3.0"/>
<path d="M719.2,24.2 L719.5,25.2 L719.7,26.2 L719.9,27.1 L720.2,28.1 L720.4,29.1 L720.6,30.0 L720.9,31.0 L721.1,32.0 L721.3,32.9 L721.6,34.0 L721.8,34.9 L722.0,35.9 L722.2,36.9 L722.5,37.9 L722.7,38.8 L722.9,39.8 L723.1,40.8 L723.4,41.7 L723.6,42.6 L723.8,43.7 L724.0,44.6 L724.3,45.6 L724.5,46.6 L724.7,47.6 L724.9,48.6 L725.1,49.5 L725.4,50.5 L725.6,51.5 L725.8,52.5 L726.0,53.5 L726.2,54.4 L726.5,55.5 L726.7,56.3 L726.9,57.2 L727.1,58.3 L727.3,59.4 L727.6,60.2 L727.8,61.2 L728.0,62.2 L728.2,63.2 L728.4,64.2 L728.6,65.2 L728.9,66.0 L729.1,67.3 L729.3,68.2 L729.5,69.0 L729.7,70.2 L729.9,71.1 L730.2,72.2 L730.4,72.8 L730.6,74.2 L730.8,74.9 L731.0,75.7 L731.2,77.0 L731.4,77.8 L731.7,78.7 L731.9,79.8 L732.1,80.5 L732.3,81.9 L732.5,82.7 L732.7,83.7 L732.9,84.9 L733.2,85.7 L733.4,86.6 L733.6,87.5 L733.8,88.6 L734.0,89.8 L734.2,90.5 L734.5,91.4 L734.7,92.7 L734.9,93.5 L735.1,94.5 L735.3,95.8 L735.5,96.2 L735.7,97.4 L736.0,98.1 L736.2,99.3 L736.4,100.4 L736.6,101.5 L736.8,102.1 L737.0,103.4 L737.3,104.4 L737.5,105.2 L737.7,106.7 L737.9,107.2 L738.1,108.0 L738.4,109.2 L738.6,109.7 L738.8,111.4 L739.0,112.3 L739.2,113.0 L739.4,114.1 L739.7,115.1 L739.9,116.4 L740.1,116.8 L740.3,117.6 L740.6,118.4 L740.8,119.8 L741.0,120.5 L741.2,121.8 L741.4,122.9 L741.7,123.7 L741.9,124.5 L742.1,126.0 L742.3,126.6 L742.6,127.7 L742.8,128.9 L743.0,129.3 L743.3,130.4 L743.5,132.2 L743.7,132.5 L744.0,133.2 L744.2,134.4 L744.4,135.3 L744.7,136.1 L744.9,137.3 L745.1,138.4 L745.4,139.3 L745.6,140.5 L745.9,140.8 L746.1,141.8 L746.4,143.4 L746.6,144.1 L746.8,145.5 L747.1,146.2 L747.3,146.7 L747.6,148.2 L747.8,148.7 L748.1,150.1 L748.4,151.3 L748.6,152.6 L748.9,152.9 L749.1,154.1 L749.4,154.9 L749.7,156.0 L749.9,156.0 L750.2,157.6 L750.5,158.8 L750.7,159.8 L751.0,160.4 L751.3,161.8 L751.6,162.9 L751.8,163.5 L752.1,164.4 L752.4,165.3 L752.7,166.4 L753.0,167.7 L753.2,168.8 L753.5,169.1 L753.8,169.9 L754.1,170.9 L754.4,172.4 L754.7,173.2 L755.0,174.1 L755.3,175.1 L755.6,176.1 L755.9,176.9 L756.2,177.5 L756.5,178.6 L756.9,179.8 L757.2,180.8 L757.5,181.5 L757.8,182.5 L758.1,184.0 L758.5,184.3 L758.8,185.5 L759.1,186.3 L759.5,187.1 L759.8,187.8 L760.1,189.0 L760.5,189.9 L760.8,191.4 L761.2,191.7 L761.5,192.8 L761.9,194.1 L762.2,194.8 L762.6,195.9 L762.9,197.0 L763.3,197.1 L763.7,198.4 L764.0,199.2 L764.4,200.8 L764.8,201.3 L765.1,202.4 L765.5,203.7 L765.9,204.0 L766.3,205.1 L766.7,206.1 L767.1,206.8 L767.5,208.2 L767.8,209.0 L768.2,210.0 L768.6,210.6 L769.0,211.4 L769.5,212.3 L769.9,213.2 L770.3,213.7 L770.7,215.3 L771.1,216.3 L771.5,217.0 L772.0,217.7 L772.4,218.8 L772.8,219.7 L773.3,220.7 L773.7,222.0 L774.1,222.1 L774.6,223.4 L775.0,224.4 L775.5,225.1 L775.9,225.9 L776.4,226.5 L776.8,227.6 L777.3,228.8 L777.8,229.9 L778.2,230.2 L778.7,231.4 L779.2,232.3 L779.7,233.3 L780.1,234.0 L780.6,234.9 L781.1,235.9 L781.6,236.2 L782.1,237.4 L782.6,237.7 L783.1,238.5 L783.6,239.7 L784.1,240.4 L784.6,241.9 L785.1,242.9 L785.6,243.3 L786.2,244.2 L786.7,245.1 L787.2,245.9 L787.8,246.9 L788.3,247.8 L788.8,248.4 L789.4,249.1 L789.9,250.0 L790.5,251.3 L791.0,251.7 L791.6,253.1 L792.1,253.5 L792.7,254.8 L793.3,254.8 L793.8,255.8 L794.4,257.0 L795.0,257.8 L795.6,258.4 L796.1,259.9 L796.7,260.1 L797.3,261.0 L797.9,261.5 L798.5,263.0 L799.1,263.5 L799.7,264.2 L800.3,264.4 L801.0,265.8 L801.6,266.3 L802.2,267.4 L802.8,268.3 L803.5,268.6 L804.1,269.6 L804.7,270.6 L805.4,271.2 L806.0,271.8 L806.7,272.3 L807.3,273.2 L808.0,273.8 L808.6,275.2 L809.3,275.7 L810.0,276.0 L810.6,277.1 L811.3,277.5 L812.0,277.6 L812.7,279.7 L813.3,280.4 L814.0,280.4 L814.7,281.3 L815.4,282.3 L816.1,282.8 L816.8,283.4 L817.5,284.2 L818.2,285.0 L819.0,285.6 L819.7,286.5 L820.4,287.1 L821.1,287.6 L821.9,288.5 L822.6,288.7 L823.4,290.3 L824.1,290.0 L824.9,291.2 L825.6,291.9 L826.4,292.6 L827.2,293.2 L827.9,294.1 L828.7,294.0 L829.5,294.9 L830.3,295.6 L831.1,296.0 L831.9,296.6 L832.7,297.7 L833.6,297.7 L834.4,298.3 L835.2,298.9 L836.1,299.5 L836.9,300.1 L837.8,300.5 L838.6,301.2 L839.5,301.7 L840.4,302.2 L841.3,303.0 L842.2,302.8 L843.0,304.0 L843.9,303.8 L844.9,304.5 L845.8,304.8 L846.7,305.0 L847.6,304.9 L848.6,306.3 L849.5,306.0 L850.4,306.3 L851.4,307.2 L852.3,307.2 L853.3,308.0 L854.3,308.2 L855.2,308.1 L856.2,308.2 L857.2,308.6 L858.2,308.2 L859.2,308.8 L860.1,309.0 L861.1,309.0 L862.1,309.3 L863.1,308.9 L864.1,309.8 L865.1,310.0 L866.1,309.3 L867.1,309.8 L868.1,310.3 L869.1,310.0 L870.1,309.6 L871.1,309.7 L872.1,310.3 L873.1,310.6 L874.1,309.7 L875.1,310.0 L876.1,309.8 L877.1,309.9 L878.1,310.0 L879.1,309.9 L880.1,309.7 L881.1,310.4 L882.1,309.7 L883.1,309.6 L884.1,309.9 L885.1,309.5 L886.1,309.3 L887.1,309.6 L888.1,308.9 L889.0,309.3 L890.0,309.2 L891.0,309.0 L892.0,308.6 L893.0,308.5 L894.0,307.8 L895.0,308.2 L896.0,308.1 L897.0,308.1 L898.0,307.7 L898.9,307.4 L899.9,307.1 L900.9,307.1 L901.9,307.0 L902.9,307.1 L903.8,306.6 L904.8,306.2 L905.8,306.1 L906.8,305.8 L907.8,305.7 L908.7,304.8 L909.7,304.8 L910.7,304.7 L911.7,305.0 L912.6,304.6 L913.6,304.4 L914.6,304.5 L915.5,303.6 L916.5,304.0 L917.5,303.5 L918.5,302.9 L919.4,303.3 L920.4,302.2 L921.4,302.0 L922.3,302.0 L923.3,302.0 L924.3,301.5 L925.2,300.7 L926.2,300.9 L927.1,300.7 L928.1,301.2 L929.1,300.6 L930.0,300.0 L931.0,299.3 L931.9,299.5 L932.9,298.7 L933.9,298.8 L934.8,298.6 L935.8,298.1 L936.7,298.0 L937.7,297.5 L938.6,297.2 L939.6,297.5 L940.6,296.9 L941.5,296.3 L942.5,295.9 L943.4,295.9 L944.4,295.7 L945.3,295.5 L946.3,295.3 L947.2,294.7 L948.2,294.0 L949.1,294.6 L950.1,294.0 L951.0,293.6 L952.0,293.5 L952.9,292.3 L953.9,292.3 L954.8,292.0 L955.8,292.2 L956.7,291.2 L957.7,291.1 L958.6,291.3 L959.6,290.8 L960.5,290.2 L961.5,290.5 L962.4,289.3 L963.4,289.5 L964.4,289.0 L965.3,288.9 L966.3,288.3 L967.2,287.9 L968.2,287.9 L969.1,287.1 L970.1,287.4 L971.0,286.8 L972.0,286.9 L972.9,286.2 L973.9,285.8 L974.8,285.8 L975.8,285.8 L976.8,284.5 L977.7,284.9 L978.7,284.7 L979.6,283.9 L980.6,283.7 L981.6,283.9 L982.5,283.2 L983.5,283.0 L984.4,283.4 L985.4,282.3 L986.4,282.1 L987.3,281.4 L988.3,281.5 L989.3,281.2 L990.2,281.8 L991.2,281.4 L992.2,280.4 L993.1,281.2 L994.1,280.6 L995.1,280.0 L996.1,280.1 L997.0,279.8 L998.0,279.2 L999.0,278.7 L1000.0,278.7 L1000.9,278.8 L1001.9,278.5 L1002.9,278.2 L1003.9,278.5 L1004.9,277.7 L1005.8,278.0 L1006.8,277.5 L1007.8,277.4 L1008.8,276.9 L1009.8,277.0 L1010.8,276.6 L1011.8,276.2 L1012.7,276.5 L1013.7,276.3 L1014.7,276.4 L1015.7,276.1 L1016.7,275.6 L1017.7,275.5 L1018.7,274.8 L1019.6,275.1 L1020.6,275.6 L1021.6,275.5 L1022.6,275.2 L1023.6,274.9 L1024.6,274.8 L1025.6,274.6 L1026.6,273.8 L1027.6,273.9 L1028.6,274.4 L1029.5,274.3 L1030.5,273.8 L1031.5,273.5 L1032.5,273.4 L1033.5,273.2 L1034.5,272.9 L1035.5,272.5 L1036.5,272.9 L1037.5,272.6 L1038.5,272.5 L1039.4,273.0 L1040.4,272.5 L1041.4,272.0 L1042.4,272.2 L1043.4,271.4 L1044.4,272.0 L1045.4,271.6 L1046.4,271.4 L1047.4,271.4 L1048.3,271.5 L1049.3,270.8 L1050.3,270.5 L1051.3,271.3 L1052.3,270.5 L1053.3,270.7 L1054.3,269.9 L1055.3,270.1 L1056.2,269.6 L1057.2,269.8 L1058.2,269.4 L1059.2,269.1 L1060.2,269.6 L1061.2,269.1 L1062.2,268.2 L1063.1,268.6 L1064.1,268.2 L1065.1,268.0 L1066.1,268.0 L1067.1,267.9 L1068.1,267.9 L1069.1,267.5 L1070.1,267.0 L1071.1,267.3 L1072.0,267.6 L1073.0,266.8 L1074.0,267.2 L1075.0,267.1 L1076.0,266.7 L1077.0,266.8 L1078.0,266.4 L1079.0,266.4 L1080.0,266.1 L1081.0,266.5 L1082.0,266.7 L1083.0,266.0 L1084.0,266.5 L1085.0,265.5 L1086.0,265.8 L1087.0,265.7 L1088.0,266.5 L1089.0,265.8 L1090.0,266.2 L1091.0,265.4 L1092.0,266.0 L1093.0,266.2 L1094.0,266.0 L1095.0,265.3 L1096.0,266.2 L1097.0,266.4 L1098.0,266.6 L1099.0,266.4 L1100.0,265.8 L1101.0,266.3 L1102.0,266.7 L1103.0,266.3 L1104.0,266.7 L1105.0,266.5 L1106.0,266.8 L1107.0,267.1 L1108.0,266.8 L1108.9,268.1 L1109.9,267.7 L1110.8,268.1 L1111.7,268.3 L1112.5,269.1 L1113.3,269.5 L1114.1,269.8 L1114.9,270.4 L1115.7,271.5 L1116.4,272.1 L1117.2,272.0 L1117.9,272.9 L1118.6,274.1 L1119.3,274.9 L1119.9,275.9 L1120.4,276.2 L1121.0,277.6 L1121.4,278.2 L1121.9,279.0 L1122.3,280.1 L1122.8,281.3 L1123.2,282.1 L1123.6,283.1 L1124.0,283.5 L1124.5,284.5 L1124.9,285.2 L1125.4,286.2 L1125.8,287.2 L1126.2,288.1 L1126.5,289.4 L1126.8,290.3 L1127.1,291.3 L1127.4,292.1 L1127.6,293.4 L1127.8,294.0 L1128.0,295.3 L1128.2,296.1 L1128.4,297.2 L1128.6,297.9 L1128.8,298.5 L1128.9,299.5 L1129.1,301.5 L1129.3,302.0 L1129.4,303.0 L1129.5,303.8 L1129.7,304.7 L1129.8,306.7 L1129.9,306.5 L1130.0,307.8 L1130.2,308.8 L1130.3,309.5 L1130.4,310.4 L1130.5,311.6 L1130.6,312.7 L1130.7,313.6 L1130.9,315.0 L1131.0,315.4 L1131.1,316.9 L1131.2,318.2 L1131.3,319.0 L1131.4,319.4 L1131.5,319.9 L1131.7,322.0 L1131.8,322.9 L1131.9,323.6 L1132.0,325.1 L1132.1,325.6 L1132.2,326.7 L1132.3,327.4 L1132.4,328.8 L1132.5,329.6 L1132.7,330.5 L1132.8,332.0 L1132.9,332.7 L1133.0,333.2 L1133.1,334.9 L1133.2,335.9 L1133.3,336.4 L1133.4,337.5 L1133.5,338.7 L1133.6,339.6 L1133.7,340.7 L1133.9,341.8 L1134.0,342.5 L1134.1,344.2 L1134.2,344.4 L1134.4,345.4 L1134.5,347.2 L1134.6,348.3 L1134.7,348.6 L1134.9,349.5 L1135.0,350.2 L1135.1,351.9 L1135.2,352.6 L1135.4,353.3 L1135.5,354.7 L1135.6,355.9 L1135.8,356.7 L1135.9,358.2 L1136.1,358.8 L1136.4,359.6 L1136.6,360.4 L1137.0,361.5 L1137.3,362.7 L1137.8,363.4 L1138.4,364.3 L1139.2,364.6 L1140.2,365.2 L1141.1,365.6 L1142.1,365.3 L1143.1,365.1 L1144.1,366.1" stroke="#111111" stroke-width="3.4"/>
</g>
<rect x="698.4" y="37.6" width="445.7" height="343.9" fill="none" stroke="#000" stroke-width="3"/>
<line x1="685.9" y1="360.2" x2="698.4" y2="360.2" stroke="#000" stroke-width="3"/>
<line x1="685.9" y1="252.8" x2="698.4" y2="252.8" stroke="#000" stroke-width="3"/>
<line x1="685.9" y1="145.5" x2="698.4" y2="145.5" stroke="#000" stroke-width="3"/>
<line x1="685.9" y1="38.1" x2="698.4" y2="38.1" stroke="#000" stroke-width="3"/>
<line x1="691.4" y1="306.5" x2="698.4" y2="306.5" stroke="#000" stroke-width="3"/>
<line x1="691.4" y1="199.2" x2="698.4" y2="199.2" stroke="#000" stroke-width="3"/>
<line x1="691.4" y1="91.8" x2="698.4" y2="91.8" stroke="#000" stroke-width="3"/>
<line x1="698.4" y1="381.5" x2="698.4" y2="394.0" stroke="#000" stroke-width="3"/>
<line x1="787.5" y1="381.5" x2="787.5" y2="394.0" stroke="#000" stroke-width="3"/>
<line x1="876.7" y1="381.5" x2="876.7" y2="394.0" stroke="#000" stroke-width="3"/>
<line x1="965.8" y1="381.5" x2="965.8" y2="394.0" stroke="#000" stroke-width="3"/>
<line x1="1055.0" y1="381.5" x2="1055.0" y2="394.0" stroke="#000" stroke-width="3"/>
<line x1="1144.1" y1="381.5" x2="1144.1" y2="394.0" stroke="#000" stroke-width="3"/>
<text transform="translate(681.8 371.5) scale(1 1.07)" font-size="28.4" text-anchor="end">0.0</text>
<text transform="translate(681.8 264.1) scale(1 1.07)" font-size="28.4" text-anchor="end">0.5</text>
<text transform="translate(681.8 156.8) scale(1 1.07)" font-size="28.4" text-anchor="end">1.0</text>
<text transform="translate(681.8 49.4) scale(1 1.07)" font-size="28.4" text-anchor="end">1.5</text>
<text transform="translate(698.4 425.0) scale(1 1.07)" font-size="28.4" text-anchor="middle">400</text>
<text transform="translate(787.5 425.0) scale(1 1.07)" font-size="28.4" text-anchor="middle">600</text>
<text transform="translate(876.7 425.0) scale(1 1.07)" font-size="28.4" text-anchor="middle">800</text>
<text transform="translate(965.8 425.0) scale(1 1.07)" font-size="28.4" text-anchor="middle">1000</text>
<text transform="translate(1055.0 425.0) scale(1 1.07)" font-size="28.4" text-anchor="middle">1200</text>
<text transform="translate(1144.1 425.0) scale(1 1.07)" font-size="28.4" text-anchor="middle">1400</text>
<text transform="translate(921.2 475.4) scale(1 1.0)" font-size="28.6" text-anchor="middle">Wavelength (nm)</text>
<text transform="translate(626.6 205.2) rotate(-90) scale(1 1.02)" font-size="28.2" text-anchor="middle">Absorbance (arb. units)</text>
<line x1="1025.8" y1="72.9" x2="1057.5" y2="72.9" stroke="#111111" stroke-width="3.4"/>
<text transform="translate(1125.6 80.7) scale(1 1.03)" font-size="22" text-anchor="end">0 h</text>
<line x1="1025.8" y1="93.1" x2="1057.5" y2="93.1" stroke="#3cc27c" stroke-width="3.0"/>
<text transform="translate(1125.6 100.9) scale(1 1.03)" font-size="22" text-anchor="end">0.5 h</text>
<line x1="1025.8" y1="115.1" x2="1057.5" y2="115.1" stroke="#c987e6" stroke-width="3.0"/>
<text transform="translate(1125.6 122.9) scale(1 1.03)" font-size="22" text-anchor="end">1 h</text>
<line x1="1025.8" y1="136.2" x2="1057.5" y2="136.2" stroke="#5b95d6" stroke-width="3.0"/>
<text transform="translate(1125.6 144.0) scale(1 1.03)" font-size="22" text-anchor="end">3 h</text>
<line x1="1025.8" y1="157.3" x2="1057.5" y2="157.3" stroke="#f5e21a" stroke-width="3.0"/>
<text transform="translate(1125.6 165.1) scale(1 1.03)" font-size="22" text-anchor="end">5 h</text>
<line x1="1025.8" y1="178.4" x2="1057.5" y2="178.4" stroke="#f97c82" stroke-width="3.0"/>
<text transform="translate(1125.6 186.2) scale(1 1.03)" font-size="22" text-anchor="end">8 h</text>
<line x1="1025.8" y1="199.5" x2="1057.5" y2="199.5" stroke="#b5a26c" stroke-width="3.0"/>
<text transform="translate(1125.6 207.3) scale(1 1.03)" font-size="22" text-anchor="end">10 h</text>
<line x1="1025.8" y1="220.6" x2="1057.5" y2="220.6" stroke="#c7c3f2" stroke-width="3.0"/>
<text transform="translate(1125.6 228.4) scale(1 1.03)" font-size="22" text-anchor="end">12 h</text>
<g filter="url(#soft)"><rect x="758.9" y="78.9" width="223.4" height="68.5" fill="url(#bgB)"/>
<rect x="762.0" y="95" width="23.4" height="49.5" rx="2.5" fill="#eaeaec"/>
<rect x="768.4" y="99" width="15.6" height="27" rx="5" fill="#a4a4a8" opacity="0.35" filter="url(#blur2)"/>
<rect x="762.0" y="95" width="1.2" height="49" fill="#c8c8cc"/>
<rect x="784.2" y="95" width="1.2" height="49" fill="#cacace"/>
<line x1="765.2" y1="100" x2="765.2" y2="123" stroke="#5866d8" stroke-width="0.9" stroke-dasharray="2.5 1" opacity="0.55"/>
<rect x="769.9" y="124.2" width="2" height="1.5" fill="#5866d8" opacity="0.6"/>
<rect x="762.8" y="127.6" width="21.8" height="11.4" fill="#5f401e"/>
<rect x="762.8" y="127.6" width="21.8" height="11.4" fill="url(#liqShadeB)"/>
<rect x="762.8" y="139" width="21.8" height="5" rx="1.5" fill="#ecdcd0"/>
<rect x="759.2" y="83.6" width="29.0" height="13.6" rx="3.2" fill="url(#capB)"/>
<rect x="791.0" y="95" width="23.0" height="49.5" rx="2.5" fill="#eaeaec"/>
<rect x="797.4" y="99" width="15.2" height="27" rx="5" fill="#a4a4a8" opacity="0.45" filter="url(#blur2)"/>
<rect x="791.0" y="95" width="1.2" height="49" fill="#c8c8cc"/>
<rect x="812.8" y="95" width="1.2" height="49" fill="#cacace"/>
<line x1="794.2" y1="100" x2="794.2" y2="123" stroke="#5866d8" stroke-width="0.9" stroke-dasharray="2.5 1" opacity="0.55"/>
<rect x="798.9" y="124.2" width="2" height="1.5" fill="#5866d8" opacity="0.6"/>
<rect x="791.8" y="127.6" width="21.4" height="11.4" fill="#6a441f"/>
<rect x="791.8" y="127.6" width="21.4" height="11.4" fill="url(#liqShadeB)"/>
<rect x="791.8" y="139" width="21.4" height="5" rx="1.5" fill="#ecdcd0"/>
<rect x="788.2" y="83.6" width="28.6" height="13.6" rx="3.2" fill="url(#capB)"/>
<rect x="819.8" y="95" width="22.9" height="49.5" rx="2.5" fill="#eaeaec"/>
<rect x="826.2" y="99" width="15.1" height="27" rx="5" fill="#a4a4a8" opacity="0.55" filter="url(#blur2)"/>
<rect x="819.8" y="95" width="1.2" height="49" fill="#c8c8cc"/>
<rect x="841.5" y="95" width="1.2" height="49" fill="#cacace"/>
<line x1="823.0" y1="100" x2="823.0" y2="123" stroke="#5866d8" stroke-width="0.9" stroke-dasharray="2.5 1" opacity="0.55"/>
<rect x="827.7" y="124.2" width="2" height="1.5" fill="#5866d8" opacity="0.6"/>
<rect x="820.6" y="127.6" width="21.3" height="11.4" fill="#744a1f"/>
<rect x="820.6" y="127.6" width="21.3" height="11.4" fill="url(#liqShadeB)"/>
<rect x="820.6" y="139" width="21.3" height="5" rx="1.5" fill="#ecdcd0"/>
<rect x="817.0" y="83.6" width="28.5" height="13.6" rx="3.2" fill="url(#capB)"/>
<rect x="848.4" y="95" width="21.9" height="49.5" rx="2.5" fill="#eaeaec"/>
<rect x="854.8" y="99" width="14.1" height="27" rx="5" fill="#a4a4a8" opacity="0.6" filter="url(#blur2)"/>
<rect x="848.4" y="95" width="1.2" height="49" fill="#c8c8cc"/>
<rect x="869.1" y="95" width="1.2" height="49" fill="#cacace"/>
<line x1="851.6" y1="100" x2="851.6" y2="123" stroke="#5866d8" stroke-width="0.9" stroke-dasharray="2.5 1" opacity="0.55"/>
<rect x="856.3" y="124.2" width="2" height="1.5" fill="#5866d8" opacity="0.6"/>
<rect x="849.2" y="127.6" width="20.3" height="11.4" fill="#7e501f"/>
<rect x="849.2" y="127.6" width="20.3" height="11.4" fill="url(#liqShadeB)"/>
<rect x="849.2" y="139" width="20.3" height="5" rx="1.5" fill="#ecdcd0"/>
<rect x="845.6" y="83.6" width="27.5" height="13.6" rx="3.2" fill="url(#capB)"/>
<rect x="876.5" y="95" width="20.8" height="49.5" rx="2.5" fill="#eaeaec"/>
<rect x="882.9" y="99" width="13.0" height="27" rx="5" fill="#a4a4a8" opacity="0.6" filter="url(#blur2)"/>
<rect x="876.5" y="95" width="1.2" height="49" fill="#c8c8cc"/>
<rect x="896.1" y="95" width="1.2" height="49" fill="#cacace"/>
<line x1="879.7" y1="100" x2="879.7" y2="123" stroke="#5866d8" stroke-width="0.9" stroke-dasharray="2.5 1" opacity="0.55"/>
<rect x="884.4" y="124.2" width="2" height="1.5" fill="#5866d8" opacity="0.6"/>
<rect x="877.3" y="127.6" width="19.2" height="11.4" fill="#8e581d"/>
<rect x="877.3" y="127.6" width="19.2" height="11.4" fill="url(#liqShadeB)"/>
<rect x="877.3" y="139" width="19.2" height="5" rx="1.5" fill="#ecdcd0"/>
<rect x="873.7" y="83.6" width="26.4" height="13.6" rx="3.2" fill="url(#capB)"/>
<rect x="903.7" y="95" width="20.5" height="49.5" rx="2.5" fill="#eaeaec"/>
<rect x="910.1" y="99" width="12.7" height="27" rx="5" fill="#a4a4a8" opacity="0.55" filter="url(#blur2)"/>
<rect x="903.7" y="95" width="1.2" height="49" fill="#c8c8cc"/>
<rect x="923.0" y="95" width="1.2" height="49" fill="#cacace"/>
<line x1="906.9" y1="100" x2="906.9" y2="123" stroke="#5866d8" stroke-width="0.9" stroke-dasharray="2.5 1" opacity="0.55"/>
<rect x="911.6" y="124.2" width="2" height="1.5" fill="#5866d8" opacity="0.6"/>
<rect x="904.5" y="127.6" width="18.9" height="11.4" fill="#a0631d"/>
<rect x="904.5" y="127.6" width="18.9" height="11.4" fill="url(#liqShadeB)"/>
<rect x="904.5" y="139" width="18.9" height="5" rx="1.5" fill="#ecdcd0"/>
<rect x="900.9" y="83.6" width="26.1" height="13.6" rx="3.2" fill="url(#capB)"/>
<rect x="930.5" y="95" width="20.9" height="49.5" rx="2.5" fill="#eaeaec"/>
<rect x="936.9" y="99" width="13.1" height="27" rx="5" fill="#a4a4a8" opacity="0.7" filter="url(#blur2)"/>
<rect x="930.5" y="95" width="1.2" height="49" fill="#c8c8cc"/>
<rect x="950.2" y="95" width="1.2" height="49" fill="#cacace"/>
<line x1="933.7" y1="100" x2="933.7" y2="123" stroke="#5866d8" stroke-width="0.9" stroke-dasharray="2.5 1" opacity="0.55"/>
<rect x="938.4" y="124.2" width="2" height="1.5" fill="#5866d8" opacity="0.6"/>
<rect x="931.3" y="127.6" width="19.3" height="11.4" fill="#a8681f"/>
<rect x="931.3" y="127.6" width="19.3" height="11.4" fill="url(#liqShadeB)"/>
<rect x="931.3" y="139" width="19.3" height="5" rx="1.5" fill="#ecdcd0"/>
<rect x="927.7" y="83.6" width="26.5" height="13.6" rx="3.2" fill="url(#capB)"/>
<rect x="957.4" y="95" width="20.8" height="49.5" rx="2.5" fill="#eaeaec"/>
<rect x="963.8" y="99" width="13.0" height="27" rx="5" fill="#a4a4a8" opacity="0.3" filter="url(#blur2)"/>
<rect x="957.4" y="95" width="1.2" height="49" fill="#c8c8cc"/>
<rect x="977.0" y="95" width="1.2" height="49" fill="#cacace"/>
<line x1="960.6" y1="100" x2="960.6" y2="123" stroke="#5866d8" stroke-width="0.9" stroke-dasharray="2.5 1" opacity="0.55"/>
<rect x="965.3" y="124.2" width="2" height="1.5" fill="#5866d8" opacity="0.6"/>
<rect x="958.2" y="127.6" width="19.2" height="11.4" fill="#c0882b"/>
<rect x="958.2" y="127.6" width="19.2" height="11.4" fill="url(#liqShadeB)"/>
<rect x="958.2" y="139" width="19.2" height="5" rx="1.5" fill="#ecdcd0"/>
<rect x="954.6" y="83.6" width="26.4" height="13.6" rx="3.2" fill="url(#capB)"/></g>
<text transform="translate(758.0 70.9) scale(1 1.0)" font-size="25">0 h</text>
<line x1="812.8" y1="63.5" x2="909.2" y2="63.5" stroke="#000" stroke-width="4.0"/>
<polygon points="907.2,54.9 929.2,63.5 907.2,72.1" fill="#000"/>
<text transform="translate(993.0 70.9) scale(1 1.0)" font-size="25" text-anchor="end">12 h</text>
<rect x="1303.9" y="38.3" width="443.9" height="343.9" fill="none" stroke="#000" stroke-width="3"/>
<line x1="1291.4" y1="382.2" x2="1303.9" y2="382.2" stroke="#000" stroke-width="3"/>
<text transform="translate(1288.1 391.9) scale(1 1.07)" font-size="28.4" text-anchor="end">0.0</text>
<line x1="1291.4" y1="324.9" x2="1303.9" y2="324.9" stroke="#000" stroke-width="3"/>
<text transform="translate(1288.1 334.6) scale(1 1.07)" font-size="28.4" text-anchor="end">0.5</text>
<line x1="1291.4" y1="267.6" x2="1303.9" y2="267.6" stroke="#000" stroke-width="3"/>
<text transform="translate(1288.1 277.3) scale(1 1.07)" font-size="28.4" text-anchor="end">1.0</text>
<line x1="1291.4" y1="210.3" x2="1303.9" y2="210.3" stroke="#000" stroke-width="3"/>
<text transform="translate(1288.1 220.0) scale(1 1.07)" font-size="28.4" text-anchor="end">1.5</text>
<line x1="1291.4" y1="153.0" x2="1303.9" y2="153.0" stroke="#000" stroke-width="3"/>
<text transform="translate(1288.1 162.7) scale(1 1.07)" font-size="28.4" text-anchor="end">2.0</text>
<line x1="1291.4" y1="95.7" x2="1303.9" y2="95.7" stroke="#000" stroke-width="3"/>
<text transform="translate(1288.1 105.4) scale(1 1.07)" font-size="28.4" text-anchor="end">2.5</text>
<line x1="1291.4" y1="38.4" x2="1303.9" y2="38.4" stroke="#000" stroke-width="3"/>
<text transform="translate(1288.1 48.1) scale(1 1.07)" font-size="28.4" text-anchor="end">3.0</text>
<line x1="1320.5" y1="382.2" x2="1320.5" y2="394.7" stroke="#000" stroke-width="3"/>
<text transform="translate(1320.5 428.8) scale(1 1.07)" font-size="30.5" text-anchor="middle">0</text>
<line x1="1388.9" y1="382.2" x2="1388.9" y2="394.7" stroke="#000" stroke-width="3"/>
<text transform="translate(1388.9 428.8) scale(1 1.07)" font-size="30.5" text-anchor="middle">2</text>
<line x1="1457.3" y1="382.2" x2="1457.3" y2="394.7" stroke="#000" stroke-width="3"/>
<text transform="translate(1457.3 428.8) scale(1 1.07)" font-size="30.5" text-anchor="middle">4</text>
<line x1="1525.7" y1="382.2" x2="1525.7" y2="394.7" stroke="#000" stroke-width="3"/>
<text transform="translate(1525.7 428.8) scale(1 1.07)" font-size="30.5" text-anchor="middle">6</text>
<line x1="1594.1" y1="382.2" x2="1594.1" y2="394.7" stroke="#000" stroke-width="3"/>
<text transform="translate(1594.1 428.8) scale(1 1.07)" font-size="30.5" text-anchor="middle">8</text>
<line x1="1662.5" y1="382.2" x2="1662.5" y2="394.7" stroke="#000" stroke-width="3"/>
<text transform="translate(1662.5 428.8) scale(1 1.07)" font-size="30.5" text-anchor="middle">10</text>
<line x1="1730.9" y1="382.2" x2="1730.9" y2="394.7" stroke="#000" stroke-width="3"/>
<text transform="translate(1730.9 428.8) scale(1 1.07)" font-size="30.5" text-anchor="middle">12</text>
<polyline points="1320.5,270.8 1337.6,295.2 1354.7,302.6 1423.1,324.1 1491.5,333.2 1594.1,340.5 1662.5,345.5 1730.9,344.8" fill="none" stroke="#f4c6e6" stroke-width="4.5" stroke-linejoin="round"/>
<circle cx="1320.5" cy="270.8" r="7" fill="#f4c6e6"/>
<circle cx="1337.6" cy="295.2" r="7" fill="#f4c6e6"/>
<circle cx="1354.7" cy="302.6" r="7" fill="#f4c6e6"/>
<circle cx="1423.1" cy="324.1" r="7" fill="#f4c6e6"/>
<circle cx="1491.5" cy="333.2" r="7" fill="#f4c6e6"/>
<circle cx="1594.1" cy="340.5" r="7" fill="#f4c6e6"/>
<circle cx="1662.5" cy="345.5" r="7" fill="#f4c6e6"/>
<circle cx="1730.9" cy="344.8" r="7" fill="#f4c6e6"/>
<polyline points="1320.5,66.2 1337.6,203.9 1354.7,235.1 1423.1,247.0 1491.5,259.2 1523.6,262.9" fill="none" stroke="#27369a" stroke-width="4.5" stroke-linejoin="round"/>
<polyline points="1523.6,264.2 1594.1,272.3 1662.5,270.2 1730.9,285.2" fill="none" stroke="#27369a" stroke-width="4.5" stroke-linejoin="round"/>
<line x1="1320.5" y1="51.3" x2="1320.5" y2="82" stroke="#27369a" stroke-width="3"/>
<line x1="1314.8" y1="51.3" x2="1326.2" y2="51.3" stroke="#27369a" stroke-width="2.6"/>
<line x1="1314.8" y1="82" x2="1326.2" y2="82" stroke="#27369a" stroke-width="2.6"/>
<rect x="1314.7" y="60.4" width="11.6" height="11.6" fill="#27369a"/>
<rect x="1331.8" y="198.1" width="11.6" height="11.6" fill="#27369a"/>
<rect x="1348.9" y="229.3" width="11.6" height="11.6" fill="#27369a"/>
<rect x="1417.3" y="241.2" width="11.6" height="11.6" fill="#27369a"/>
<rect x="1485.7" y="253.4" width="11.6" height="11.6" fill="#27369a"/>
<rect x="1588.3" y="266.5" width="11.6" height="11.6" fill="#27369a"/>
<rect x="1656.7" y="264.4" width="11.6" height="11.6" fill="#27369a"/>
<rect x="1725.1" y="279.4" width="11.6" height="11.6" fill="#27369a"/>
<line x1="1397.8" y1="81.2" x2="1429.7" y2="81.2" stroke="#27369a" stroke-width="4.2"/>
<rect x="1408" y="75.3" width="12" height="12" fill="#27369a"/>
<text transform="translate(1448.0 90.5) scale(1 1.0)" font-size="24.5">Chemical coprecipitation</text>
<line x1="1397.8" y1="123.8" x2="1429.7" y2="123.8" stroke="#f4c6e6" stroke-width="4.2"/>
<circle cx="1413.7" cy="123.8" r="7.2" fill="#f4c6e6"/>
<text transform="translate(1448.0 132.7) scale(1 1.0)" font-size="24.5">Thermal decomposition</text>
<text transform="translate(1526.0 471.4) scale(1 1.0)" font-size="28.6" text-anchor="middle">Oxidatio<tspan dx="2">n</tspan> time (h)</text>
<text transform="translate(1231.6 297.4) rotate(-90) scale(1 1.04)" font-size="28.4"><tspan font-style="italic">a</tspan><tspan font-size="19.2" dy="5">nano</tspan><tspan dy="-5" dx="3.5"> (U·mg</tspan><tspan font-size="21" dy="-14" dx="0.3">-1</tspan><tspan dy="14" dx="0.3">)</tspan></text>
</svg>
</body></html>
